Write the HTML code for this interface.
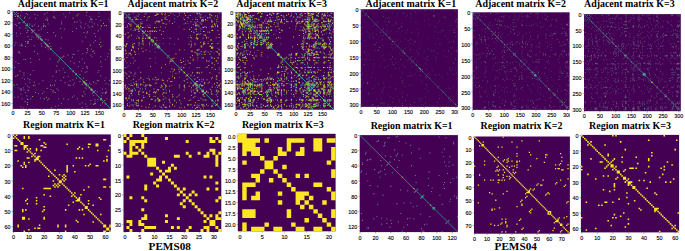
<!DOCTYPE html>
<html><head><meta charset="utf-8"><style>
html,body{margin:0;padding:0;background:#fff;}
svg{display:block;}
.t{font-family:"Liberation Serif",serif;font-weight:bold;font-size:9.95px;text-anchor:middle;fill:#000;}
.b{font-family:"Liberation Serif",serif;font-weight:bold;font-size:11.2px;text-anchor:middle;fill:#000;}
.yl{font-family:"Liberation Sans",sans-serif;font-size:5.4px;text-anchor:end;fill:#000;stroke:#000;stroke-width:0.12px;}
.xl{font-family:"Liberation Sans",sans-serif;font-size:5.4px;text-anchor:middle;fill:#000;stroke:#000;stroke-width:0.12px;}
</style></head><body>
<svg width="685" height="251" viewBox="0 0 685 251" shape-rendering="auto">
<rect width="685" height="251" fill="#fff"/>
<rect x="237.8" y="133.8" width="97.8" height="97.5" fill="#440154"/>
<path fill="#fde725" d="M237.8 133.8h8.89v4.43h-8.89zM237.8 138.23h22.23v4.43h-22.23zM264.47 138.23h4.45v4.43h-4.45zM286.7 138.23h17.78v4.43h-17.78zM313.37 138.23h8.89v4.43h-8.89zM326.71 138.23h8.89v4.43h-8.89zM242.25 142.66h13.34v4.43h-13.34zM286.7 142.66h4.45v4.43h-4.45zM313.37 142.66h8.89v4.43h-8.89zM242.25 147.1h17.78v4.43h-17.78zM277.81 147.1h4.45v4.43h-4.45zM286.7 147.1h4.45v4.43h-4.45zM300.04 147.1h4.45v4.43h-4.45zM313.37 147.1h8.89v4.43h-8.89zM331.15 147.1h4.45v4.43h-4.45zM242.25 151.53h4.45v4.43h-4.45zM251.14 151.53h8.89v4.43h-8.89zM277.81 151.53h8.89v4.43h-8.89zM295.59 151.53h8.89v4.43h-8.89zM331.15 151.53h4.45v4.43h-4.45zM260.03 155.96h4.45v4.43h-4.45zM273.36 155.96h4.45v4.43h-4.45zM331.15 155.96h4.45v4.43h-4.45zM242.25 160.39h4.45v4.43h-4.45zM264.47 160.39h8.89v4.43h-8.89zM326.71 160.39h4.45v4.43h-4.45zM264.47 164.82h8.89v4.43h-8.89zM282.25 164.82h4.45v4.43h-4.45zM260.03 169.25h4.45v4.43h-4.45zM273.36 169.25h4.45v4.43h-4.45zM331.15 169.25h4.45v4.43h-4.45zM251.14 173.69h8.89v4.43h-8.89zM277.81 173.69h4.45v4.43h-4.45zM295.59 173.69h4.45v4.43h-4.45zM304.48 173.69h4.45v4.43h-4.45zM331.15 173.69h4.45v4.43h-4.45zM255.58 178.12h4.45v4.43h-4.45zM268.92 178.12h4.45v4.43h-4.45zM282.25 178.12h4.45v4.43h-4.45zM242.25 182.55h13.34v4.43h-13.34zM286.7 182.55h4.45v4.43h-4.45zM313.37 182.55h8.89v4.43h-8.89zM242.25 186.98h4.45v4.43h-4.45zM291.15 186.98h4.45v4.43h-4.45zM326.71 186.98h4.45v4.43h-4.45zM242.25 191.41h4.45v4.43h-4.45zM255.58 191.41h4.45v4.43h-4.45zM277.81 191.41h4.45v4.43h-4.45zM295.59 191.41h13.34v4.43h-13.34zM331.15 191.41h4.45v4.43h-4.45zM242.25 195.85h4.45v4.43h-4.45zM251.14 195.85h8.89v4.43h-8.89zM295.59 195.85h8.89v4.43h-8.89zM308.93 195.85h4.45v4.43h-4.45zM331.15 195.85h4.45v4.43h-4.45zM277.81 200.28h4.45v4.43h-4.45zM295.59 200.28h4.45v4.43h-4.45zM304.48 200.28h4.45v4.43h-4.45zM322.26 200.28h4.45v4.43h-4.45zM300.04 204.71h4.45v4.43h-4.45zM308.93 204.71h4.45v4.43h-4.45zM242.25 209.14h13.34v4.43h-13.34zM286.7 209.14h4.45v4.43h-4.45zM313.37 209.14h4.45v4.43h-4.45zM331.15 209.14h4.45v4.43h-4.45zM242.25 213.57h13.34v4.43h-13.34zM286.7 213.57h4.45v4.43h-4.45zM317.82 213.57h4.45v4.43h-4.45zM331.15 213.57h4.45v4.43h-4.45zM304.48 218h4.45v4.43h-4.45zM322.26 218h4.45v4.43h-4.45zM242.25 222.44h4.45v4.43h-4.45zM264.47 222.44h4.45v4.43h-4.45zM291.15 222.44h4.45v4.43h-4.45zM326.71 222.44h4.45v4.43h-4.45zM242.25 226.87h4.45v4.43h-4.45zM251.14 226.87h13.34v4.43h-13.34zM273.36 226.87h8.89v4.43h-8.89zM295.59 226.87h8.89v4.43h-8.89zM313.37 226.87h8.89v4.43h-8.89zM331.15 226.87h4.45v4.43h-4.45z"/>
<rect x="123.5" y="134" width="97.8" height="98" fill="#440154"/>
<path fill="#fde725" d="M123.5 134h2.96v2.97h-2.96zM129.43 134h2.96v2.97h-2.96zM141.28 134h2.96v2.97h-2.96zM126.46 136.97h2.96v2.97h-2.96zM144.25 136.97h2.96v2.97h-2.96zM164.99 136.97h2.96v2.97h-2.96zM209.45 136.97h2.96v2.97h-2.96zM215.37 136.97h2.96v2.97h-2.96zM123.5 139.94h2.96v2.97h-2.96zM129.43 139.94h17.78v2.97h-17.78zM185.74 139.94h2.96v2.97h-2.96zM209.45 139.94h5.93v2.97h-5.93zM218.34 139.94h2.96v2.97h-2.96zM129.43 142.91h5.93v2.97h-5.93zM141.28 142.91h2.96v2.97h-2.96zM129.43 145.88h2.96v2.97h-2.96zM135.35 145.88h2.96v2.97h-2.96zM141.28 145.88h2.96v2.97h-2.96zM129.43 148.85h2.96v2.97h-2.96zM138.32 148.85h2.96v2.97h-2.96zM209.45 148.85h5.93v2.97h-5.93zM123.5 151.82h2.96v2.97h-2.96zM129.43 151.82h8.89v2.97h-8.89zM141.28 151.82h2.96v2.97h-2.96zM185.74 151.82h2.96v2.97h-2.96zM197.59 151.82h2.96v2.97h-2.96zM206.48 151.82h2.96v2.97h-2.96zM212.41 151.82h2.96v2.97h-2.96zM218.34 151.82h2.96v2.97h-2.96zM126.46 154.79h5.93v2.97h-5.93zM144.25 154.79h2.96v2.97h-2.96zM173.88 154.79h5.93v2.97h-5.93zM188.7 154.79h2.96v2.97h-2.96zM203.52 154.79h5.93v2.97h-5.93zM215.37 154.79h2.96v2.97h-2.96zM147.21 157.76h8.89v2.97h-8.89zM215.37 157.76h2.96v2.97h-2.96zM147.21 160.73h8.89v2.97h-8.89zM162.03 160.73h2.96v2.97h-2.96zM215.37 160.73h2.96v2.97h-2.96zM147.21 163.7h8.89v2.97h-8.89zM170.92 163.7h2.96v2.97h-2.96zM215.37 163.7h2.96v2.97h-2.96zM156.1 166.67h2.96v2.97h-2.96zM167.95 166.67h2.96v2.97h-2.96zM173.88 166.67h2.96v2.97h-2.96zM159.06 169.64h2.96v2.97h-2.96zM164.99 169.64h5.93v2.97h-5.93zM150.17 172.61h2.96v2.97h-2.96zM162.03 172.61h2.96v2.97h-2.96zM126.46 175.58h2.96v2.97h-2.96zM159.06 175.58h2.96v2.97h-2.96zM164.99 175.58h2.96v2.97h-2.96zM203.52 175.58h2.96v2.97h-2.96zM209.45 175.58h2.96v2.97h-2.96zM156.1 178.55h5.93v2.97h-5.93zM167.95 178.55h2.96v2.97h-2.96zM153.14 181.52h2.96v2.97h-2.96zM170.92 181.52h2.96v2.97h-2.96zM215.37 181.52h2.96v2.97h-2.96zM144.25 184.48h2.96v2.97h-2.96zM156.1 184.48h2.96v2.97h-2.96zM173.88 184.48h2.96v2.97h-2.96zM144.25 187.45h2.96v2.97h-2.96zM176.85 187.45h2.96v2.97h-2.96zM182.77 187.45h2.96v2.97h-2.96zM206.48 187.45h2.96v2.97h-2.96zM215.37 187.45h2.96v2.97h-2.96zM179.81 190.42h2.96v2.97h-2.96zM191.66 190.42h2.96v2.97h-2.96zM176.85 193.39h2.96v2.97h-2.96zM182.77 193.39h2.96v2.97h-2.96zM188.7 193.39h2.96v2.97h-2.96zM194.63 193.39h2.96v2.97h-2.96zM129.43 196.36h2.96v2.97h-2.96zM141.28 196.36h2.96v2.97h-2.96zM185.74 196.36h2.96v2.97h-2.96zM218.34 196.36h2.96v2.97h-2.96zM144.25 199.33h2.96v2.97h-2.96zM182.77 199.33h2.96v2.97h-2.96zM188.7 199.33h2.96v2.97h-2.96zM215.37 199.33h2.96v2.97h-2.96zM179.81 202.3h2.96v2.97h-2.96zM191.66 202.3h2.96v2.97h-2.96zM182.77 205.27h2.96v2.97h-2.96zM194.63 205.27h2.96v2.97h-2.96zM141.28 208.24h2.96v2.97h-2.96zM197.59 208.24h2.96v2.97h-2.96zM200.55 211.21h2.96v2.97h-2.96zM218.34 211.21h2.96v2.97h-2.96zM144.25 214.18h2.96v2.97h-2.96zM164.99 214.18h2.96v2.97h-2.96zM203.52 214.18h2.96v2.97h-2.96zM209.45 214.18h2.96v2.97h-2.96zM215.37 214.18h2.96v2.97h-2.96zM141.28 217.15h5.93v2.97h-5.93zM176.85 217.15h2.96v2.97h-2.96zM206.48 217.15h2.96v2.97h-2.96zM215.37 217.15h5.93v2.97h-5.93zM126.46 220.12h5.93v2.97h-5.93zM138.32 220.12h2.96v2.97h-2.96zM164.99 220.12h2.96v2.97h-2.96zM203.52 220.12h2.96v2.97h-2.96zM209.45 220.12h5.93v2.97h-5.93zM129.43 223.09h2.96v2.97h-2.96zM138.32 223.09h5.93v2.97h-5.93zM209.45 223.09h5.93v2.97h-5.93zM126.46 226.06h2.96v2.97h-2.96zM144.25 226.06h11.85v2.97h-11.85zM170.92 226.06h2.96v2.97h-2.96zM176.85 226.06h2.96v2.97h-2.96zM188.7 226.06h2.96v2.97h-2.96zM203.52 226.06h5.93v2.97h-5.93zM215.37 226.06h2.96v2.97h-2.96zM129.43 229.03h2.96v2.97h-2.96zM141.28 229.03h2.96v2.97h-2.96zM185.74 229.03h2.96v2.97h-2.96zM200.55 229.03h2.96v2.97h-2.96zM206.48 229.03h2.96v2.97h-2.96zM218.34 229.03h2.96v2.97h-2.96z"/>
<rect x="12.7" y="10.9" width="98.1" height="98" fill="#440154"/>
<svg x="12.7" y="10.9" width="98.1" height="98" overflow="hidden"><g transform="translate(-12.7 -10.9)">
<path stroke="#35a88a" stroke-width="0.85" d="M12.7 10.9L110.8 108.9"/>
<path stroke="#7ad151" stroke-width="0.9" d="M44.3 14.1h0.9M15.4 42.9h0.9M24.7 17.0h0.9M18.3 23.3h0.9M24.1 18.1h0.9M19.5 22.7h0.9M45.4 19.8h0.9M21.2 44.0h0.9M47.2 20.4h0.9M21.8 45.8h0.9M100.8 25.6h0.9M27.0 99.4h0.9M31.6 26.2h0.9M27.5 30.2h0.9M37.9 26.2h0.9M27.5 36.6h0.9M38.5 34.8h0.9M36.2 37.1h0.9M40.2 38.3h0.9M39.7 38.9h0.9M42.0 40.0h0.9M41.4 40.6h0.9M99.1 44.6h0.9M46.0 97.7h0.9M47.2 45.2h0.9M46.6 45.8h0.9M50.6 48.7h0.9M50.0 49.2h0.9M109.5 49.8h0.9M51.2 108.0h0.9M93.9 53.3h0.9M54.7 92.5h0.9M72.6 54.4h0.9M55.8 71.1h0.9M67.4 55.0h0.9M56.4 66.0h0.9M78.9 61.9h0.9M63.3 77.5h0.9M100.3 61.9h0.9M63.3 98.8h0.9M73.7 63.1h0.9M64.5 72.3h0.9M73.1 71.1h0.9M72.6 71.7h0.9M79.5 74.6h0.9M76.0 78.1h0.9M82.9 78.1h0.9M79.5 81.5h0.9M85.8 80.4h0.9M81.8 84.4h0.9M97.9 80.9h0.9M82.4 96.5h0.9M84.1 82.1h0.9M83.5 82.7h0.9M84.7 82.7h0.9M84.1 83.2h0.9M85.8 83.8h0.9M85.2 84.4h0.9M86.4 84.4h0.9M85.8 85.0h0.9M91.6 89.6h0.9M91.0 90.2h0.9M101.4 98.8h0.9M100.3 100.0h0.9"/>
<path stroke="#a8db34" stroke-width="0.9" d="M86.4 12.3h0.9M13.7 85.0h0.9M17.7 13.5h0.9M14.8 16.4h0.9M77.7 14.1h0.9M15.4 76.3h0.9M17.7 15.8h0.9M17.2 16.4h0.9M76.6 15.8h0.9M17.2 75.2h0.9M53.5 17.5h0.9M18.9 52.1h0.9M72.6 18.1h0.9M19.5 71.1h0.9M91.6 19.3h0.9M20.6 90.2h0.9M74.3 22.1h0.9M23.5 72.9h0.9M103.1 23.3h0.9M24.7 101.7h0.9M27.0 25.0h0.9M26.4 25.6h0.9M104.3 25.6h0.9M27.0 102.8h0.9M106.0 25.6h0.9M27.0 104.6h0.9M43.1 26.2h0.9M27.5 41.7h0.9M44.9 26.2h0.9M27.5 43.5h0.9M97.9 30.8h0.9M32.2 96.5h0.9M87.0 31.9h0.9M33.3 85.6h0.9M55.2 36.0h0.9M37.4 53.8h0.9M38.5 36.6h0.9M37.9 37.1h0.9M100.3 42.3h0.9M43.7 98.8h0.9M45.4 43.5h0.9M44.9 44.0h0.9M89.9 45.2h0.9M46.6 88.4h0.9M48.3 46.4h0.9M47.7 46.9h0.9M100.3 46.9h0.9M48.3 98.8h0.9M93.3 51.0h0.9M52.4 91.9h0.9M86.4 52.7h0.9M54.1 85.0h0.9M63.3 56.2h0.9M57.5 61.9h0.9M61.6 57.3h0.9M58.7 60.2h0.9M76.0 74.0h0.9M75.4 74.6h0.9M83.5 81.5h0.9M82.9 82.1h0.9M93.3 82.1h0.9M83.5 91.9h0.9M89.3 87.3h0.9M88.7 87.9h0.9M91.0 89.0h0.9M90.4 89.6h0.9M106.0 91.9h0.9M93.3 104.6h0.9M100.8 98.8h0.9M100.3 99.4h0.9M104.3 100.5h0.9M102.0 102.8h0.9"/>
<path stroke="#7a8aa8" stroke-width="0.9" d="M27.0 14.6h0.9M16.0 25.6h0.9M47.2 19.8h0.9M21.2 45.8h0.9M90.4 19.8h0.9M21.2 89.0h0.9M109.5 21.6h0.9M22.9 108.0h0.9M76.6 22.1h0.9M23.5 75.2h0.9M27.0 23.9h0.9M25.2 25.6h0.9M85.2 23.9h0.9M25.2 83.8h0.9M87.6 25.6h0.9M27.0 86.1h0.9M88.7 27.3h0.9M28.7 87.3h0.9M31.6 29.6h0.9M31.0 30.2h0.9M40.8 29.6h0.9M31.0 39.4h0.9M38.5 30.2h0.9M31.6 37.1h0.9M86.4 33.1h0.9M34.5 85.0h0.9M35.6 33.7h0.9M35.0 34.2h0.9M85.2 37.1h0.9M38.5 83.8h0.9M40.8 38.9h0.9M40.2 39.4h0.9M46.6 44.6h0.9M46.0 45.2h0.9M47.7 45.8h0.9M47.2 46.4h0.9M86.4 48.7h0.9M50.0 85.0h0.9M91.6 56.7h0.9M58.1 90.2h0.9M81.8 59.0h0.9M60.4 80.4h0.9M104.9 59.6h0.9M61.0 103.4h0.9M86.4 66.5h0.9M67.9 85.0h0.9M105.4 89.0h0.9M90.4 104.0h0.9M92.2 90.2h0.9M91.6 90.7h0.9M95.1 90.7h0.9M92.2 93.6h0.9M96.8 91.9h0.9M93.3 95.4h0.9"/>
<path stroke="#4a9a8c" stroke-width="0.9" d="M98.5 12.9h0.9M14.3 97.1h0.9M63.3 14.1h0.9M15.4 61.9h0.9M37.4 15.2h0.9M16.6 36.0h0.9M89.3 16.4h0.9M17.7 87.9h0.9M54.7 18.1h0.9M19.5 53.3h0.9M95.6 19.3h0.9M20.6 94.2h0.9M79.5 20.4h0.9M21.8 78.1h0.9M89.3 21.6h0.9M22.9 87.9h0.9M29.3 23.9h0.9M25.2 27.9h0.9M29.3 25.0h0.9M26.4 27.9h0.9M84.1 27.9h0.9M29.3 82.7h0.9M100.3 29.1h0.9M30.4 98.8h0.9M37.9 36.0h0.9M37.4 36.6h0.9M99.7 38.9h0.9M40.2 98.2h0.9M44.3 42.3h0.9M43.7 42.9h0.9M93.3 42.3h0.9M43.7 91.9h0.9M101.4 45.8h0.9M47.2 100.0h0.9M107.8 53.8h0.9M55.2 106.3h0.9M107.2 56.7h0.9M58.1 105.7h0.9M60.4 57.9h0.9M59.3 59.0h0.9M70.2 61.3h0.9M62.7 68.8h0.9M77.7 66.5h0.9M67.9 76.3h0.9M70.2 68.3h0.9M69.7 68.8h0.9M105.4 78.1h0.9M79.5 104.0h0.9M86.4 83.8h0.9M85.2 85.0h0.9M90.4 84.4h0.9M85.8 89.0h0.9M107.8 85.0h0.9M86.4 106.3h0.9M100.8 93.0h0.9M94.5 99.4h0.9"/>
<path stroke="#8a8fb0" stroke-width="0.9" d="M46.6 12.9h0.9M14.3 45.2h0.9M53.5 16.4h0.9M17.7 52.1h0.9M98.5 16.4h0.9M17.7 97.1h0.9M29.3 18.1h0.9M19.5 27.9h0.9M90.4 18.1h0.9M19.5 89.0h0.9M35.0 18.7h0.9M20.0 33.7h0.9M100.3 20.4h0.9M21.8 98.8h0.9M61.0 22.1h0.9M23.5 59.6h0.9M80.1 26.2h0.9M27.5 78.6h0.9M92.2 26.2h0.9M27.5 90.7h0.9M43.1 26.8h0.9M28.1 41.7h0.9M33.9 30.2h0.9M31.6 32.5h0.9M32.7 30.8h0.9M32.2 31.4h0.9M52.9 32.5h0.9M33.9 51.5h0.9M93.9 33.7h0.9M35.0 92.5h0.9M95.1 36.6h0.9M37.9 93.6h0.9M41.4 39.4h0.9M40.8 40.0h0.9M100.3 56.7h0.9M58.1 98.8h0.9M72.0 57.3h0.9M58.7 70.6h0.9M100.8 66.5h0.9M67.9 99.4h0.9M81.2 71.1h0.9M72.6 79.8h0.9M86.4 71.7h0.9M73.1 85.0h0.9M85.2 83.2h0.9M84.7 83.8h0.9M89.3 83.2h0.9M84.7 87.9h0.9M88.1 85.0h0.9M86.4 86.7h0.9M91.6 89.0h0.9M90.4 90.2h0.9M93.3 91.3h0.9M92.7 91.9h0.9M93.9 91.3h0.9M92.7 92.5h0.9M104.9 93.6h0.9M95.1 103.4h0.9M106.6 98.8h0.9M100.3 105.2h0.9M105.4 103.4h0.9M104.9 104.0h0.9M60.4 48.1h0.9M49.5 59.0h0.9M47.7 40.0h0.9M41.4 46.4h0.9M29.3 39.4h0.9M40.8 27.9h0.9M82.4 53.8h0.9M55.2 80.9h0.9M102.6 93.0h0.9M94.5 101.1h0.9M33.9 45.8h0.9M47.2 32.5h0.9M105.4 93.0h0.9M94.5 104.0h0.9M86.4 108.6h0.9M110.1 85.0h0.9M53.5 11.2h0.9M12.5 52.1h0.9M85.8 15.2h0.9M16.6 84.4h0.9M40.2 36.6h0.9M37.9 38.9h0.9M69.7 85.6h0.9M87.0 68.3h0.9M61.0 37.7h0.9M39.1 59.6h0.9M29.9 58.5h0.9M59.9 28.5h0.9M93.9 23.9h0.9M25.2 92.5h0.9M91.0 49.2h0.9M50.6 89.6h0.9M42.5 80.4h0.9M81.8 41.2h0.9M40.8 44.0h0.9M45.4 39.4h0.9M24.1 21.6h0.9M22.9 22.7h0.9M95.1 40.6h0.9M42.0 93.6h0.9M100.3 75.8h0.9M77.2 98.8h0.9M23.5 90.2h0.9M91.6 22.1h0.9M43.7 25.6h0.9M27.0 42.3h0.9M25.2 59.6h0.9M61.0 23.9h0.9M97.4 25.0h0.9M26.4 95.9h0.9M24.1 79.2h0.9M80.6 22.7h0.9M28.1 90.2h0.9M91.6 26.8h0.9M77.7 51.0h0.9M52.4 76.3h0.9M93.9 103.4h0.9M104.9 92.5h0.9M63.9 29.1h0.9M30.4 62.5h0.9M20.6 89.0h0.9M90.4 19.3h0.9M98.5 70.6h0.9M72.0 97.1h0.9M90.4 100.5h0.9M102.0 89.0h0.9M44.9 47.5h0.9M48.9 43.5h0.9M81.8 95.4h0.9M96.8 80.4h0.9M32.7 70.6h0.9M72.0 31.4h0.9M14.3 67.7h0.9M69.1 12.9h0.9M20.0 15.8h0.9M17.2 18.7h0.9M105.4 83.8h0.9M85.2 104.0h0.9M65.1 17.0h0.9M18.3 63.6h0.9M29.9 74.6h0.9M76.0 28.5h0.9M87.0 48.7h0.9M50.0 85.6h0.9M84.7 94.2h0.9M95.6 83.2h0.9M108.3 19.3h0.9M20.6 106.9h0.9M108.9 80.4h0.9M81.8 107.5h0.9M33.9 25.0h0.9M26.4 32.5h0.9M90.4 55.0h0.9M56.4 89.0h0.9M14.8 24.4h0.9M25.8 13.5h0.9M64.5 82.7h0.9M84.1 63.1h0.9M97.4 72.3h0.9M73.7 95.9h0.9M21.2 11.2h0.9M12.5 19.8h0.9M33.9 82.1h0.9M83.5 32.5h0.9M13.7 14.6h0.9M16.0 12.3h0.9M25.2 46.4h0.9M47.7 23.9h0.9M29.3 79.8h0.9M81.2 27.9h0.9M82.4 68.3h0.9M69.7 80.9h0.9M32.2 26.2h0.9M27.5 30.8h0.9M50.6 46.4h0.9M47.7 49.2h0.9M25.2 41.7h0.9M43.1 23.9h0.9M36.8 34.8h0.9M36.2 35.4h0.9M16.0 33.1h0.9M34.5 14.6h0.9M46.6 18.1h0.9M19.5 45.2h0.9M68.5 85.0h0.9M86.4 67.1h0.9M100.8 95.9h0.9M97.4 99.4h0.9M84.7 72.3h0.9M73.7 83.2h0.9M51.8 85.6h0.9M87.0 50.4h0.9M27.5 99.4h0.9M100.8 26.2h0.9M104.3 80.4h0.9M81.8 102.8h0.9M55.8 72.3h0.9M73.7 54.4h0.9M52.9 90.7h0.9M92.2 51.5h0.9"/>
</g></svg>
<rect x="123.8" y="12.3" width="97.9" height="97.6" fill="#440154"/>
<svg x="123.8" y="12.3" width="97.9" height="97.6" overflow="hidden"><g transform="translate(-123.8 -12.3)">
<path stroke="#3aa88a" stroke-width="0.9" d="M123.8 12.3L221.7 109.9"/>
<path stroke="#fde725" stroke-width="0.85" d="M161.1 13.7h0.85M124.8 49.9h0.85M184.1 13.7h0.85M124.8 72.9h0.85M196.8 13.7h0.85M124.8 85.5h0.85M197.4 13.7h0.85M124.8 86.1h0.85M199.1 13.7h0.85M124.8 87.8h0.85M157.6 14.3h0.85M125.4 46.5h0.85M164.6 14.9h0.85M126.0 53.3h0.85M200.3 14.9h0.85M126.0 88.9h0.85M209.5 14.9h0.85M126.0 98.1h0.85M154.8 15.5h0.85M126.5 43.6h0.85M168.6 15.5h0.85M126.5 57.4h0.85M215.2 16.0h0.85M127.1 103.9h0.85M217.0 16.0h0.85M127.1 105.6h0.85M134.6 17.2h0.85M128.3 23.5h0.85M200.3 17.2h0.85M128.3 88.9h0.85M209.5 17.2h0.85M128.3 98.1h0.85M164.6 17.8h0.85M128.8 53.3h0.85M187.6 17.8h0.85M128.8 76.3h0.85M135.8 18.3h0.85M129.4 24.6h0.85M164.6 18.9h0.85M130.0 53.3h0.85M132.3 19.5h0.85M130.6 21.2h0.85M136.3 19.5h0.85M130.6 25.2h0.85M184.1 19.5h0.85M130.6 72.9h0.85M196.8 19.5h0.85M130.6 85.5h0.85M202.0 19.5h0.85M130.6 90.7h0.85M202.6 19.5h0.85M130.6 91.2h0.85M204.9 19.5h0.85M130.6 93.5h0.85M204.9 20.1h0.85M131.1 93.5h0.85M201.4 20.6h0.85M131.7 90.1h0.85M155.9 21.2h0.85M132.3 44.7h0.85M157.6 21.2h0.85M132.3 46.5h0.85M158.8 21.2h0.85M132.3 47.6h0.85M196.8 21.2h0.85M132.3 85.5h0.85M201.4 21.2h0.85M132.3 90.1h0.85M202.6 21.2h0.85M132.3 91.2h0.85M158.2 21.8h0.85M132.9 47.0h0.85M158.8 21.8h0.85M132.9 47.6h0.85M190.5 21.8h0.85M132.9 79.2h0.85M172.0 23.5h0.85M134.6 60.8h0.85M165.7 24.1h0.85M135.2 54.5h0.85M201.4 24.1h0.85M135.2 90.1h0.85M214.1 24.6h0.85M135.8 102.7h0.85M137.5 25.2h0.85M136.3 26.4h0.85M138.1 25.2h0.85M136.3 26.9h0.85M195.1 25.2h0.85M136.3 83.8h0.85M195.6 25.2h0.85M136.3 84.4h0.85M196.2 25.2h0.85M136.3 84.9h0.85M196.8 25.2h0.85M136.3 85.5h0.85M211.8 25.2h0.85M136.3 100.4h0.85M215.2 25.2h0.85M136.3 103.9h0.85M217.0 25.2h0.85M136.3 105.6h0.85M138.1 26.4h0.85M137.5 26.9h0.85M211.8 26.4h0.85M137.5 100.4h0.85M217.0 26.4h0.85M137.5 105.6h0.85M140.4 26.9h0.85M138.1 29.2h0.85M211.2 26.9h0.85M138.1 99.9h0.85M212.9 26.9h0.85M138.1 101.6h0.85M142.1 27.5h0.85M138.6 31.0h0.85M142.7 27.5h0.85M138.6 31.5h0.85M154.2 27.5h0.85M138.6 43.0h0.85M202.6 27.5h0.85M138.6 91.2h0.85M203.1 27.5h0.85M138.6 91.8h0.85M183.6 29.2h0.85M140.4 72.3h0.85M196.2 29.2h0.85M140.4 84.9h0.85M159.4 30.4h0.85M141.5 48.2h0.85M211.8 30.4h0.85M141.5 100.4h0.85M212.3 30.4h0.85M141.5 101.0h0.85M217.5 30.4h0.85M141.5 106.2h0.85M142.7 31.0h0.85M142.1 31.5h0.85M149.6 31.0h0.85M142.1 38.4h0.85M152.5 31.0h0.85M142.1 41.3h0.85M147.3 31.5h0.85M142.7 36.1h0.85M149.6 31.5h0.85M142.7 38.4h0.85M151.9 31.5h0.85M142.7 40.7h0.85M154.2 31.5h0.85M142.7 43.0h0.85M155.9 31.5h0.85M142.7 44.7h0.85M203.1 31.5h0.85M142.7 91.8h0.85M208.9 32.1h0.85M143.2 97.6h0.85M149.6 33.8h0.85M145.0 38.4h0.85M161.1 34.4h0.85M145.5 49.9h0.85M196.8 34.4h0.85M145.5 85.5h0.85M218.7 34.4h0.85M145.5 107.3h0.85M146.7 35.0h0.85M146.1 35.6h0.85M203.7 35.0h0.85M146.1 92.4h0.85M204.9 35.6h0.85M146.7 93.5h0.85M149.0 37.3h0.85M148.4 37.8h0.85M218.7 37.3h0.85M148.4 107.3h0.85M149.6 37.8h0.85M149.0 38.4h0.85M154.2 37.8h0.85M149.0 43.0h0.85M191.0 37.8h0.85M149.0 79.8h0.85M196.2 37.8h0.85M149.0 84.9h0.85M196.8 38.4h0.85M149.6 85.5h0.85M197.4 38.4h0.85M149.6 86.1h0.85M151.3 39.6h0.85M150.7 40.1h0.85M210.6 39.6h0.85M150.7 99.3h0.85M152.5 40.1h0.85M151.3 41.3h0.85M203.1 43.0h0.85M154.2 91.8h0.85M155.3 43.6h0.85M154.8 44.2h0.85M203.7 43.6h0.85M154.8 92.4h0.85M207.7 43.6h0.85M154.8 96.4h0.85M212.3 43.6h0.85M154.8 101.0h0.85M217.5 43.6h0.85M154.8 106.2h0.85M188.7 44.2h0.85M155.3 77.5h0.85M191.0 44.7h0.85M155.9 79.8h0.85M203.1 44.7h0.85M155.9 91.8h0.85M158.2 45.3h0.85M156.5 47.0h0.85M210.0 45.9h0.85M157.1 98.7h0.85M200.8 46.5h0.85M157.6 89.5h0.85M209.5 46.5h0.85M157.6 98.1h0.85M190.5 47.0h0.85M158.2 79.2h0.85M201.4 47.0h0.85M158.2 90.1h0.85M211.2 47.6h0.85M158.8 99.9h0.85M212.3 47.6h0.85M158.8 101.0h0.85M211.2 48.2h0.85M159.4 99.9h0.85M178.9 49.9h0.85M161.1 67.7h0.85M196.8 49.9h0.85M161.1 85.5h0.85M218.7 49.9h0.85M161.1 107.3h0.85M197.4 50.5h0.85M161.7 86.1h0.85M194.5 52.2h0.85M163.4 83.2h0.85M204.3 52.2h0.85M163.4 93.0h0.85M197.4 53.9h0.85M165.1 86.1h0.85M218.7 53.9h0.85M165.1 107.3h0.85M197.4 55.1h0.85M166.3 86.1h0.85M218.7 55.1h0.85M166.3 107.3h0.85M192.2 55.6h0.85M166.9 80.9h0.85M189.9 57.4h0.85M168.6 78.6h0.85M211.2 57.9h0.85M169.2 99.9h0.85M217.5 57.9h0.85M169.2 106.2h0.85M172.6 58.5h0.85M169.7 61.4h0.85M171.5 59.1h0.85M170.3 60.2h0.85M192.8 59.1h0.85M170.3 81.5h0.85M192.8 60.2h0.85M171.5 81.5h0.85M206.0 60.8h0.85M172.0 94.7h0.85M215.8 60.8h0.85M172.0 104.4h0.85M180.7 62.5h0.85M173.8 69.4h0.85M181.3 62.5h0.85M173.8 70.0h0.85M188.7 63.1h0.85M174.3 77.5h0.85M189.9 63.1h0.85M174.3 78.6h0.85M217.5 63.1h0.85M174.3 106.2h0.85M184.1 72.3h0.85M183.6 72.9h0.85M197.4 72.3h0.85M183.6 86.1h0.85M201.4 72.3h0.85M183.6 90.1h0.85M196.8 72.9h0.85M184.1 85.5h0.85M197.4 72.9h0.85M184.1 86.1h0.85M218.7 72.9h0.85M184.1 107.3h0.85M187.0 75.2h0.85M186.4 75.7h0.85M190.5 75.2h0.85M186.4 79.2h0.85M216.4 75.7h0.85M187.0 105.0h0.85M197.4 77.5h0.85M188.7 86.1h0.85M211.8 77.5h0.85M188.7 100.4h0.85M194.5 79.2h0.85M190.5 83.2h0.85M196.8 81.5h0.85M192.8 85.5h0.85M201.4 81.5h0.85M192.8 90.1h0.85M208.9 82.1h0.85M193.3 97.6h0.85M204.3 82.6h0.85M193.9 93.0h0.85M195.1 83.2h0.85M194.5 83.8h0.85M204.3 83.2h0.85M194.5 93.0h0.85M196.2 83.8h0.85M195.1 84.9h0.85M196.8 84.9h0.85M196.2 85.5h0.85M201.4 85.5h0.85M196.8 90.1h0.85M202.0 85.5h0.85M196.8 90.7h0.85M202.6 85.5h0.85M196.8 91.2h0.85M218.7 85.5h0.85M196.8 107.3h0.85M199.1 86.1h0.85M197.4 87.8h0.85M201.4 86.1h0.85M197.4 90.1h0.85M218.7 86.1h0.85M197.4 107.3h0.85M211.8 87.2h0.85M198.5 100.4h0.85M220.4 88.9h0.85M200.3 109.0h0.85M216.4 90.7h0.85M202.0 105.0h0.85M203.1 91.2h0.85M202.6 91.8h0.85M206.0 91.2h0.85M202.6 94.7h0.85M211.2 91.2h0.85M202.6 99.9h0.85M216.4 91.2h0.85M202.6 105.0h0.85M218.1 91.2h0.85M202.6 106.7h0.85M206.0 91.8h0.85M203.1 94.7h0.85M204.9 92.4h0.85M203.7 93.5h0.85M215.8 94.7h0.85M206.0 104.4h0.85M217.5 99.9h0.85M211.2 106.2h0.85M217.5 101.0h0.85M212.3 106.2h0.85M216.4 104.4h0.85M215.8 105.0h0.85M162.2 14.3h0.85M125.4 51.1h0.85M155.9 14.9h0.85M126.0 44.7h0.85M143.8 16.6h0.85M127.7 32.7h0.85M217.5 17.8h0.85M128.8 106.2h0.85M211.2 20.1h0.85M131.1 99.9h0.85M154.8 22.9h0.85M134.0 43.6h0.85M192.8 24.6h0.85M135.8 81.5h0.85M159.9 26.9h0.85M138.1 48.8h0.85M141.5 23.5h0.85M134.6 30.4h0.85M162.8 31.5h0.85M142.7 51.6h0.85M177.8 39.0h0.85M150.2 66.6h0.85M203.7 41.9h0.85M153.0 92.4h0.85M161.1 20.1h0.85M131.1 49.9h0.85M161.7 20.1h0.85M131.1 50.5h0.85M191.6 51.1h0.85M162.2 80.3h0.85M210.6 51.6h0.85M162.8 99.3h0.85M215.8 51.6h0.85M162.8 104.4h0.85M163.4 23.5h0.85M134.6 52.2h0.85M170.3 13.2h0.85M124.2 59.1h0.85M172.6 60.2h0.85M171.5 61.4h0.85M207.7 61.4h0.85M172.6 96.4h0.85M175.5 53.9h0.85M165.1 64.3h0.85M183.0 67.7h0.85M178.9 71.7h0.85M180.1 60.2h0.85M171.5 68.9h0.85M180.7 67.1h0.85M178.4 69.4h0.85M209.5 72.9h0.85M184.1 98.1h0.85M185.3 15.5h0.85M126.5 74.0h0.85M216.4 76.9h0.85M188.2 105.0h0.85M189.3 29.2h0.85M140.4 78.0h0.85M199.1 79.8h0.85M191.0 87.8h0.85M206.6 79.8h0.85M191.0 95.3h0.85M191.6 51.6h0.85M162.8 80.3h0.85M194.5 44.7h0.85M155.9 83.2h0.85M214.1 83.8h0.85M195.1 102.7h0.85M219.8 83.8h0.85M195.1 108.5h0.85M198.5 49.3h0.85M160.5 87.2h0.85M200.3 42.4h0.85M153.6 88.9h0.85M200.8 51.6h0.85M162.8 89.5h0.85M205.4 51.1h0.85M162.2 94.1h0.85M207.2 17.8h0.85M128.8 95.8h0.85M207.7 37.8h0.85M149.0 96.4h0.85M208.3 65.4h0.85M176.6 97.0h0.85M209.5 14.3h0.85M125.4 98.1h0.85M211.8 21.8h0.85M132.9 100.4h0.85M214.1 58.5h0.85M169.7 102.7h0.85M221.0 28.1h0.85M139.2 109.6h0.85"/>
<path stroke="#bddf26" stroke-width="0.85" d="M145.5 13.7h0.85M124.8 34.4h0.85M157.1 14.3h0.85M125.4 45.9h0.85M155.3 15.5h0.85M126.5 44.2h0.85M211.2 15.5h0.85M126.5 99.9h0.85M209.5 17.8h0.85M128.8 98.1h0.85M137.5 19.5h0.85M130.6 26.4h0.85M140.4 19.5h0.85M130.6 29.2h0.85M216.4 19.5h0.85M130.6 105.0h0.85M162.2 22.9h0.85M134.0 51.1h0.85M195.6 22.9h0.85M134.0 84.4h0.85M140.4 24.1h0.85M135.2 29.2h0.85M140.4 26.4h0.85M137.5 29.2h0.85M198.5 26.4h0.85M137.5 87.2h0.85M204.3 26.9h0.85M138.1 93.0h0.85M148.4 27.5h0.85M138.6 37.3h0.85M149.6 27.5h0.85M138.6 38.4h0.85M195.6 29.2h0.85M140.4 84.4h0.85M145.0 31.0h0.85M142.1 33.8h0.85M191.0 31.5h0.85M142.7 79.8h0.85M143.8 32.1h0.85M143.2 32.7h0.85M193.3 32.1h0.85M143.2 82.1h0.85M196.2 34.4h0.85M145.5 84.9h0.85M204.9 35.0h0.85M146.1 93.5h0.85M149.6 37.3h0.85M148.4 38.4h0.85M206.0 37.3h0.85M148.4 94.7h0.85M206.0 37.8h0.85M149.0 94.7h0.85M215.8 37.8h0.85M149.0 104.4h0.85M210.6 40.1h0.85M151.3 99.3h0.85M204.3 43.6h0.85M154.8 93.0h0.85M156.5 44.7h0.85M155.9 45.3h0.85M157.6 45.9h0.85M157.1 46.5h0.85M200.8 45.9h0.85M157.1 89.5h0.85M158.8 46.5h0.85M157.6 47.6h0.85M211.2 47.0h0.85M158.2 99.9h0.85M212.3 47.0h0.85M158.2 101.0h0.85M211.8 48.2h0.85M159.4 100.4h0.85M212.3 48.2h0.85M159.4 101.0h0.85M203.7 52.2h0.85M163.4 92.4h0.85M217.0 52.2h0.85M163.4 105.6h0.85M187.6 60.8h0.85M172.0 76.3h0.85M216.4 60.8h0.85M172.0 105.0h0.85M183.0 61.4h0.85M172.6 71.7h0.85M211.8 63.1h0.85M174.3 100.4h0.85M184.7 64.3h0.85M175.5 73.4h0.85M181.3 69.4h0.85M180.7 70.0h0.85M215.8 79.2h0.85M190.5 104.4h0.85M203.1 79.8h0.85M191.0 91.8h0.85M196.2 81.5h0.85M192.8 84.9h0.85M197.4 81.5h0.85M192.8 86.1h0.85M216.4 82.6h0.85M193.9 105.0h0.85M195.6 83.2h0.85M194.5 84.4h0.85M207.7 83.2h0.85M194.5 96.4h0.85M217.0 83.2h0.85M194.5 105.6h0.85M204.3 83.8h0.85M195.1 93.0h0.85M199.1 84.9h0.85M196.2 87.8h0.85M218.7 84.9h0.85M196.2 107.3h0.85M217.0 87.2h0.85M198.5 105.6h0.85M215.8 90.1h0.85M201.4 104.4h0.85M202.6 90.7h0.85M202.0 91.2h0.85M203.1 90.7h0.85M202.0 91.8h0.85M211.2 94.1h0.85M205.4 99.9h0.85M212.3 100.4h0.85M211.8 101.0h0.85M217.0 103.9h0.85M215.2 105.6h0.85M203.7 31.5h0.85M142.7 92.4h0.85M147.3 17.8h0.85M128.8 36.1h0.85M169.7 38.4h0.85M149.6 58.5h0.85M156.5 13.2h0.85M124.2 45.3h0.85M158.8 47.0h0.85M158.2 47.6h0.85M214.1 64.8h0.85M176.1 102.7h0.85M207.2 67.1h0.85M178.4 95.8h0.85M190.5 41.3h0.85M152.5 79.2h0.85M196.8 39.6h0.85M150.7 85.5h0.85M197.4 57.9h0.85M169.2 86.1h0.85M200.3 33.8h0.85M145.0 88.9h0.85M215.2 69.4h0.85M180.7 103.9h0.85M218.7 53.3h0.85M164.6 107.3h0.85"/>
<path stroke="#7ad151" stroke-width="0.85" d="M165.1 13.7h0.85M124.8 53.9h0.85M178.9 13.7h0.85M124.8 67.7h0.85M209.5 14.3h0.85M125.4 98.1h0.85M128.3 14.9h0.85M126.0 17.2h0.85M189.9 15.5h0.85M126.5 78.6h0.85M198.5 16.0h0.85M127.1 87.2h0.85M148.4 16.6h0.85M127.7 37.3h0.85M149.0 16.6h0.85M127.7 37.8h0.85M130.0 17.8h0.85M128.8 18.9h0.85M200.3 17.8h0.85M128.8 88.9h0.85M135.2 19.5h0.85M130.6 24.1h0.85M165.7 19.5h0.85M130.6 54.5h0.85M146.7 20.1h0.85M131.1 35.6h0.85M202.6 20.6h0.85M131.7 91.2h0.85M203.1 20.6h0.85M131.7 91.8h0.85M216.4 21.2h0.85M132.3 105.0h0.85M157.6 21.8h0.85M132.9 46.5h0.85M211.2 21.8h0.85M132.9 99.9h0.85M185.3 23.5h0.85M134.6 74.0h0.85M217.0 26.9h0.85M138.1 105.6h0.85M139.2 27.5h0.85M138.6 28.1h0.85M191.0 27.5h0.85M138.6 79.8h0.85M206.0 27.5h0.85M138.6 94.7h0.85M211.2 30.4h0.85M141.5 99.9h0.85M208.9 32.7h0.85M143.8 97.6h0.85M197.4 34.4h0.85M145.5 86.1h0.85M196.2 36.1h0.85M147.3 84.9h0.85M155.9 37.8h0.85M149.0 44.7h0.85M151.9 39.6h0.85M150.7 40.7h0.85M153.0 40.7h0.85M151.9 41.9h0.85M153.0 41.3h0.85M152.5 41.9h0.85M194.5 43.6h0.85M154.8 83.2h0.85M210.0 46.5h0.85M157.6 98.7h0.85M158.8 47.0h0.85M158.2 47.6h0.85M159.4 47.0h0.85M158.2 48.2h0.85M207.7 52.2h0.85M163.4 96.4h0.85M199.1 53.9h0.85M165.1 87.8h0.85M203.7 54.5h0.85M165.7 92.4h0.85M204.9 54.5h0.85M165.7 93.5h0.85M203.1 57.9h0.85M169.2 91.8h0.85M212.3 57.9h0.85M169.2 101.0h0.85M218.1 57.9h0.85M169.2 106.7h0.85M199.1 67.7h0.85M178.9 87.8h0.85M211.8 67.7h0.85M178.9 100.4h0.85M218.7 67.7h0.85M178.9 107.3h0.85M192.2 72.3h0.85M183.6 80.9h0.85M192.2 72.9h0.85M184.1 80.9h0.85M199.1 72.9h0.85M184.1 87.8h0.85M193.9 75.7h0.85M187.0 82.6h0.85M201.4 79.2h0.85M190.5 90.1h0.85M216.4 79.2h0.85M190.5 105.0h0.85M195.6 83.8h0.85M195.1 84.4h0.85M200.3 84.9h0.85M196.2 88.9h0.85M197.4 85.5h0.85M196.8 86.1h0.85M216.4 85.5h0.85M196.8 105.0h0.85M203.1 90.1h0.85M201.4 91.8h0.85M207.7 92.4h0.85M203.7 96.4h0.85M211.8 94.1h0.85M205.4 100.4h0.85M217.0 96.4h0.85M207.7 105.6h0.85M211.8 99.9h0.85M211.2 100.4h0.85M218.1 99.9h0.85M211.2 106.7h0.85M138.6 14.3h0.85M125.4 27.5h0.85M221.0 21.2h0.85M132.3 109.6h0.85M139.8 22.9h0.85M134.0 28.7h0.85M189.3 29.2h0.85M140.4 78.0h0.85M209.5 54.5h0.85M165.7 98.1h0.85M168.6 55.6h0.85M166.9 57.4h0.85M187.0 12.6h0.85M123.7 75.7h0.85M215.8 76.3h0.85M187.6 104.4h0.85M210.0 89.5h0.85M200.8 98.7h0.85M214.1 23.5h0.85M134.6 102.7h0.85"/>
<path stroke="#44bf70" stroke-width="0.85" d="M218.7 13.7h0.85M124.8 107.3h0.85M128.8 14.3h0.85M125.4 17.8h0.85M137.5 16.0h0.85M127.1 26.4h0.85M128.8 17.2h0.85M128.3 17.8h0.85M187.6 17.2h0.85M128.3 76.3h0.85M195.6 17.8h0.85M128.8 84.4h0.85M199.7 17.8h0.85M128.8 88.4h0.85M195.1 19.5h0.85M130.6 83.8h0.85M206.6 20.6h0.85M131.7 95.3h0.85M159.4 21.8h0.85M132.9 48.2h0.85M169.2 21.8h0.85M132.9 57.9h0.85M174.3 21.8h0.85M132.9 63.1h0.85M211.8 21.8h0.85M132.9 100.4h0.85M199.7 22.9h0.85M134.0 88.4h0.85M149.6 25.2h0.85M136.3 38.4h0.85M198.5 25.2h0.85M136.3 87.2h0.85M205.4 26.9h0.85M138.1 94.1h0.85M211.8 26.9h0.85M138.1 100.4h0.85M149.0 27.5h0.85M138.6 37.8h0.85M156.5 27.5h0.85M138.6 45.3h0.85M154.2 28.1h0.85M139.2 43.0h0.85M154.8 30.4h0.85M141.5 43.6h0.85M151.3 31.0h0.85M142.1 40.1h0.85M196.2 31.5h0.85M142.7 84.9h0.85M196.2 38.4h0.85M149.6 84.9h0.85M152.5 40.7h0.85M151.9 41.3h0.85M210.6 40.7h0.85M151.9 99.3h0.85M155.9 43.0h0.85M154.2 44.7h0.85M211.2 43.6h0.85M154.8 99.9h0.85M204.3 44.2h0.85M155.3 93.0h0.85M211.2 44.2h0.85M155.3 99.9h0.85M158.2 45.9h0.85M157.1 47.0h0.85M217.5 48.2h0.85M159.4 106.2h0.85M184.1 49.9h0.85M161.1 72.9h0.85M196.2 53.9h0.85M165.1 84.9h0.85M196.8 53.9h0.85M165.1 85.5h0.85M174.3 57.9h0.85M169.2 63.1h0.85M202.6 57.9h0.85M169.2 91.2h0.85M183.0 58.5h0.85M169.7 71.7h0.85M212.3 63.1h0.85M174.3 101.0h0.85M196.8 67.7h0.85M178.9 85.5h0.85M197.4 67.7h0.85M178.9 86.1h0.85M187.6 74.0h0.85M185.3 76.3h0.85M211.2 78.6h0.85M189.9 99.9h0.85M196.8 84.4h0.85M195.6 85.5h0.85M199.7 84.4h0.85M195.6 88.4h0.85M197.4 84.9h0.85M196.2 86.1h0.85M202.0 90.1h0.85M201.4 90.7h0.85M202.6 90.1h0.85M201.4 91.2h0.85M215.8 91.8h0.85M203.1 104.4h0.85M204.9 93.0h0.85M204.3 93.5h0.85M207.7 93.0h0.85M204.3 96.4h0.85M211.2 93.0h0.85M204.3 99.9h0.85M217.0 100.4h0.85M211.8 105.6h0.85M215.2 101.6h0.85M212.9 103.9h0.85M177.2 16.6h0.85M127.7 66.0h0.85M217.5 26.4h0.85M137.5 106.2h0.85M200.3 31.0h0.85M142.1 88.9h0.85M189.9 37.3h0.85M148.4 78.6h0.85M156.5 40.7h0.85M151.9 45.3h0.85M191.0 45.9h0.85M157.1 79.8h0.85M162.8 38.4h0.85M149.6 51.6h0.85M174.3 18.9h0.85M130.0 63.1h0.85M199.1 73.4h0.85M184.7 87.8h0.85M189.9 35.6h0.85M146.7 78.6h0.85M195.1 23.5h0.85M134.6 83.8h0.85M195.6 52.8h0.85M164.0 84.4h0.85M207.2 32.1h0.85M143.2 95.8h0.85M208.9 60.8h0.85M172.0 97.6h0.85M218.7 49.3h0.85M160.5 107.3h0.85M218.7 80.9h0.85M192.2 107.3h0.85"/>
<path stroke="#3b8a8c" stroke-width="0.85" d="M196.2 13.7h0.85M124.8 84.9h0.85M200.8 14.3h0.85M125.4 89.5h0.85M174.3 15.5h0.85M126.5 63.1h0.85M178.9 15.5h0.85M126.5 67.7h0.85M134.0 17.8h0.85M128.8 22.9h0.85M214.1 18.3h0.85M129.4 102.7h0.85M146.1 20.1h0.85M131.1 35.0h0.85M202.0 20.6h0.85M131.7 90.7h0.85M158.2 21.2h0.85M132.3 47.0h0.85M202.0 21.2h0.85M132.3 90.7h0.85M212.3 21.2h0.85M132.3 101.0h0.85M193.9 21.8h0.85M132.9 82.6h0.85M216.4 21.8h0.85M132.9 105.0h0.85M200.3 22.9h0.85M134.0 88.9h0.85M187.6 23.5h0.85M134.6 76.3h0.85M183.6 24.1h0.85M135.2 72.3h0.85M140.4 25.2h0.85M136.3 29.2h0.85M195.1 26.4h0.85M137.5 83.8h0.85M178.9 26.9h0.85M138.1 67.7h0.85M155.9 27.5h0.85M138.6 44.7h0.85M200.3 28.7h0.85M139.8 88.9h0.85M194.5 29.2h0.85M140.4 83.2h0.85M201.4 29.2h0.85M140.4 90.1h0.85M151.9 31.0h0.85M142.1 40.7h0.85M145.0 31.5h0.85M142.7 33.8h0.85M149.0 31.5h0.85M142.7 37.8h0.85M199.1 34.4h0.85M145.5 87.8h0.85M149.6 36.1h0.85M147.3 38.4h0.85M195.6 38.4h0.85M149.6 84.4h0.85M151.9 40.1h0.85M151.3 40.7h0.85M191.0 43.0h0.85M154.2 79.8h0.85M159.4 43.6h0.85M154.8 48.2h0.85M169.2 43.6h0.85M154.8 57.9h0.85M211.8 43.6h0.85M154.8 100.4h0.85M217.0 43.6h0.85M154.8 105.6h0.85M174.3 44.2h0.85M155.3 63.1h0.85M201.4 45.3h0.85M156.5 90.1h0.85M158.2 46.5h0.85M157.6 47.0h0.85M212.3 46.5h0.85M157.6 101.0h0.85M200.8 47.0h0.85M158.2 89.5h0.85M159.4 47.6h0.85M158.8 48.2h0.85M161.7 49.9h0.85M161.1 50.5h0.85M196.2 49.9h0.85M161.1 84.9h0.85M220.4 51.1h0.85M162.2 109.0h0.85M200.3 53.3h0.85M164.6 88.9h0.85M209.5 53.3h0.85M164.6 98.1h0.85M201.4 54.5h0.85M165.7 90.1h0.85M211.2 57.4h0.85M168.6 99.9h0.85M201.4 57.9h0.85M169.2 90.1h0.85M211.2 63.1h0.85M174.3 99.9h0.85M188.7 67.7h0.85M178.9 77.5h0.85M196.2 67.7h0.85M178.9 84.9h0.85M205.4 67.7h0.85M178.9 94.1h0.85M211.2 67.7h0.85M178.9 99.9h0.85M196.2 72.9h0.85M184.1 84.9h0.85M193.9 79.2h0.85M190.5 82.6h0.85M203.7 83.2h0.85M194.5 92.4h0.85M211.8 86.1h0.85M197.4 100.4h0.85M215.2 87.2h0.85M198.5 103.9h0.85M216.4 90.1h0.85M201.4 105.0h0.85M204.3 92.4h0.85M203.7 93.0h0.85M217.0 92.4h0.85M203.7 105.6h0.85M215.2 100.4h0.85M211.8 103.9h0.85M197.4 12.6h0.85M123.7 86.1h0.85M178.9 13.2h0.85M124.2 67.7h0.85M144.4 14.3h0.85M125.4 33.3h0.85M172.6 14.3h0.85M125.4 61.4h0.85M204.9 16.0h0.85M127.1 93.5h0.85M207.7 18.3h0.85M129.4 96.4h0.85M165.1 27.5h0.85M138.6 53.9h0.85M188.2 37.3h0.85M148.4 76.9h0.85M218.7 41.3h0.85M152.5 107.3h0.85M190.5 50.5h0.85M161.7 79.2h0.85M213.5 52.8h0.85M164.0 102.1h0.85M218.7 70.0h0.85M181.3 107.3h0.85M216.4 90.1h0.85M201.4 105.0h0.85M219.3 91.8h0.85M203.1 107.9h0.85M206.0 67.7h0.85M178.9 94.7h0.85M213.5 68.9h0.85M180.1 102.1h0.85M219.3 69.4h0.85M180.7 107.9h0.85"/>
<path stroke="#5b7a9a" stroke-width="0.85" d="M158.2 14.3h0.85M125.4 47.0h0.85M128.8 14.9h0.85M126.0 17.8h0.85M188.7 15.5h0.85M126.5 77.5h0.85M136.3 16.0h0.85M127.1 25.2h0.85M138.1 16.0h0.85M127.1 26.9h0.85M211.8 16.0h0.85M127.1 100.4h0.85M166.3 16.6h0.85M127.7 55.1h0.85M164.6 17.2h0.85M128.3 53.3h0.85M166.9 19.5h0.85M130.6 55.6h0.85M183.6 19.5h0.85M130.6 72.3h0.85M192.2 19.5h0.85M130.6 80.9h0.85M201.4 19.5h0.85M130.6 90.1h0.85M169.2 20.6h0.85M131.7 57.9h0.85M132.9 21.2h0.85M132.3 21.8h0.85M156.5 21.2h0.85M132.3 45.3h0.85M141.5 21.8h0.85M132.9 30.4h0.85M154.8 21.8h0.85M132.9 43.6h0.85M187.0 21.8h0.85M132.9 75.7h0.85M212.3 21.8h0.85M132.9 101.0h0.85M217.5 21.8h0.85M132.9 106.2h0.85M220.4 22.9h0.85M134.0 109.0h0.85M215.8 23.5h0.85M134.6 104.4h0.85M197.4 25.2h0.85M136.3 86.1h0.85M215.2 26.4h0.85M137.5 103.9h0.85M196.2 26.9h0.85M138.1 84.9h0.85M198.5 26.9h0.85M138.1 87.2h0.85M215.2 26.9h0.85M138.1 103.9h0.85M145.0 27.5h0.85M138.6 33.8h0.85M199.7 28.7h0.85M139.8 88.4h0.85M195.1 29.2h0.85M140.4 83.8h0.85M198.0 33.3h0.85M144.4 86.6h0.85M149.0 36.1h0.85M147.3 37.8h0.85M203.1 37.8h0.85M149.0 91.8h0.85M206.0 38.4h0.85M149.6 94.7h0.85M163.4 43.6h0.85M154.8 52.2h0.85M197.4 49.9h0.85M161.1 86.1h0.85M199.1 49.9h0.85M161.1 87.8h0.85M202.0 57.9h0.85M169.2 90.7h0.85M211.8 57.9h0.85M169.2 100.4h0.85M196.8 60.2h0.85M171.5 85.5h0.85M185.3 60.8h0.85M172.0 74.0h0.85M184.1 67.7h0.85M178.9 72.9h0.85M190.5 75.7h0.85M187.0 79.2h0.85M211.2 79.2h0.85M190.5 99.9h0.85M194.5 82.6h0.85M193.9 83.2h0.85M195.1 82.6h0.85M193.9 83.8h0.85M200.3 83.8h0.85M195.1 88.9h0.85M196.2 84.4h0.85M195.6 84.9h0.85M197.4 84.4h0.85M195.6 86.1h0.85M200.3 84.4h0.85M195.6 88.9h0.85M201.4 84.9h0.85M196.2 90.1h0.85M199.1 85.5h0.85M196.8 87.8h0.85M218.7 87.8h0.85M199.1 107.3h0.85M200.3 88.4h0.85M199.7 88.9h0.85M209.5 88.9h0.85M200.3 98.1h0.85M206.6 91.2h0.85M202.6 95.3h0.85M217.0 93.0h0.85M204.3 105.6h0.85M216.4 94.7h0.85M206.0 105.0h0.85M212.3 99.9h0.85M211.2 101.0h0.85M217.5 100.4h0.85M211.8 106.2h0.85M183.0 17.8h0.85M128.8 71.7h0.85M202.6 17.8h0.85M128.8 91.2h0.85M132.9 13.7h0.85M124.8 21.8h0.85M184.7 22.9h0.85M134.0 73.4h0.85M147.3 25.8h0.85M136.9 36.1h0.85M193.9 32.7h0.85M143.8 82.6h0.85M207.7 41.9h0.85M153.0 96.4h0.85M217.0 51.6h0.85M162.8 105.6h0.85M194.5 22.3h0.85M133.5 83.2h0.85M203.7 87.8h0.85M199.1 92.4h0.85M202.0 38.4h0.85M149.6 90.7h0.85M202.6 17.2h0.85M128.3 91.2h0.85M210.6 56.8h0.85M168.0 99.3h0.85M217.5 93.0h0.85M204.3 106.2h0.85"/>
</g></svg>
<rect x="235.6" y="12.1" width="98.2" height="97.6" fill="#440154"/>
<svg x="235.6" y="12.1" width="98.2" height="97.6" overflow="hidden"><g transform="translate(-235.6 -12.1)">
<path stroke="#3aa88a" stroke-width="0.9" d="M235.6 12.1L333.8 109.7"/>
<path stroke="#fde725" stroke-width="0.95" d="M257.4 13.5h0.95M236.6 34.2h0.95M261.4 13.5h0.95M236.6 38.2h0.95M273.0 13.5h0.95M236.6 49.7h0.95M277.0 13.5h0.95M236.6 53.7h0.95M300.7 13.5h0.95M236.6 77.3h0.95M304.7 13.5h0.95M236.6 81.3h0.95M307.6 13.5h0.95M236.6 84.2h0.95M308.2 13.5h0.95M236.6 84.7h0.95M237.7 14.1h0.95M237.1 14.7h0.95M244.7 14.1h0.95M237.1 21.6h0.95M269.5 14.1h0.95M237.1 46.3h0.95M276.4 14.1h0.95M237.1 53.1h0.95M312.2 14.1h0.95M237.1 88.7h0.95M312.8 14.1h0.95M237.1 89.3h0.95M322.1 14.1h0.95M237.1 98.5h0.95M324.4 14.1h0.95M237.1 100.8h0.95M240.0 14.7h0.95M237.7 17.0h0.95M245.8 14.7h0.95M237.7 22.7h0.95M307.6 14.7h0.95M237.7 84.2h0.95M312.2 14.7h0.95M237.7 88.7h0.95M266.6 15.3h0.95M238.3 43.4h0.95M267.2 15.3h0.95M238.3 44.0h0.95M271.2 15.3h0.95M238.3 48.0h0.95M286.2 15.3h0.95M238.3 62.9h0.95M290.9 15.3h0.95M238.3 67.5h0.95M301.8 15.3h0.95M238.3 78.4h0.95M309.4 15.3h0.95M238.3 85.9h0.95M316.3 15.3h0.95M238.3 92.8h0.95M323.8 15.3h0.95M238.3 100.2h0.95M249.3 15.8h0.95M238.9 26.2h0.95M249.9 15.8h0.95M238.9 26.7h0.95M252.2 15.8h0.95M238.9 29.0h0.95M310.5 15.8h0.95M238.9 87.0h0.95M317.4 15.8h0.95M238.9 93.9h0.95M323.2 15.8h0.95M238.9 99.7h0.95M323.8 15.8h0.95M238.9 100.2h0.95M324.9 15.8h0.95M238.9 101.4h0.95M327.3 15.8h0.95M238.9 103.7h0.95M260.3 16.4h0.95M239.5 37.1h0.95M241.8 17.0h0.95M240.0 18.7h0.95M245.8 17.0h0.95M240.0 22.7h0.95M276.4 17.0h0.95M240.0 53.1h0.95M297.2 17.0h0.95M240.0 73.8h0.95M311.7 17.0h0.95M240.0 88.2h0.95M245.8 17.6h0.95M240.6 22.7h0.95M246.4 17.6h0.95M240.6 23.3h0.95M269.5 17.6h0.95M240.6 46.3h0.95M299.5 17.6h0.95M240.6 76.1h0.95M308.2 17.6h0.95M240.6 84.7h0.95M332.5 17.6h0.95M240.6 108.8h0.95M247.5 18.1h0.95M241.2 24.4h0.95M312.2 18.7h0.95M241.8 88.7h0.95M321.5 18.7h0.95M241.8 97.9h0.95M247.0 19.3h0.95M242.3 23.9h0.95M248.1 19.3h0.95M242.3 25.0h0.95M249.9 19.3h0.95M242.3 26.7h0.95M278.7 19.3h0.95M242.3 55.4h0.95M304.7 19.3h0.95M242.3 81.3h0.95M307.0 19.3h0.95M242.3 83.6h0.95M307.6 19.3h0.95M242.3 84.2h0.95M309.4 19.3h0.95M242.3 85.9h0.95M315.7 19.3h0.95M242.3 92.2h0.95M327.8 19.3h0.95M242.3 104.2h0.95M258.5 19.9h0.95M242.9 35.4h0.95M315.7 19.9h0.95M242.9 92.2h0.95M244.1 20.4h0.95M243.5 21.0h0.95M281.0 20.4h0.95M243.5 57.7h0.95M314.6 20.4h0.95M243.5 91.0h0.95M330.1 20.4h0.95M243.5 106.5h0.95M268.3 21.0h0.95M244.1 45.1h0.95M281.0 21.0h0.95M244.1 57.7h0.95M295.5 21.0h0.95M244.1 72.1h0.95M302.4 21.0h0.95M244.1 79.0h0.95M308.2 21.0h0.95M244.1 84.7h0.95M309.4 21.0h0.95M244.1 85.9h0.95M315.1 21.0h0.95M244.1 91.6h0.95M323.2 21.0h0.95M244.1 99.7h0.95M327.8 21.0h0.95M244.1 104.2h0.95M267.2 21.6h0.95M244.7 44.0h0.95M269.5 21.6h0.95M244.7 46.3h0.95M270.7 21.6h0.95M244.7 47.4h0.95M271.2 21.6h0.95M244.7 48.0h0.95M280.5 21.6h0.95M244.7 57.2h0.95M286.2 21.6h0.95M244.7 62.9h0.95M301.8 21.6h0.95M244.7 78.4h0.95M305.9 21.6h0.95M244.7 82.4h0.95M306.5 21.6h0.95M244.7 83.0h0.95M313.4 21.6h0.95M244.7 89.9h0.95M327.8 21.6h0.95M244.7 104.2h0.95M328.4 21.6h0.95M244.7 104.8h0.95M329.6 21.6h0.95M244.7 106.0h0.95M307.6 22.7h0.95M245.8 84.2h0.95M311.7 22.7h0.95M245.8 88.2h0.95M321.5 22.7h0.95M245.8 97.9h0.95M299.5 23.3h0.95M246.4 76.1h0.95M328.4 23.3h0.95M246.4 104.8h0.95M277.6 23.9h0.95M247.0 54.3h0.95M296.1 23.9h0.95M247.0 72.7h0.95M304.2 23.9h0.95M247.0 80.7h0.95M313.4 23.9h0.95M247.0 89.9h0.95M314.0 23.9h0.95M247.0 90.5h0.95M249.3 25.0h0.95M248.1 26.2h0.95M257.4 25.0h0.95M248.1 34.2h0.95M259.1 25.0h0.95M248.1 35.9h0.95M260.8 25.0h0.95M248.1 37.6h0.95M261.4 25.0h0.95M248.1 38.2h0.95M306.5 25.0h0.95M248.1 83.0h0.95M309.4 25.0h0.95M248.1 85.9h0.95M312.2 25.0h0.95M248.1 88.7h0.95M313.4 25.0h0.95M248.1 89.9h0.95M330.7 25.0h0.95M248.1 107.1h0.95M277.6 26.2h0.95M249.3 54.3h0.95M306.5 26.2h0.95M249.3 83.0h0.95M308.2 26.2h0.95M249.3 84.7h0.95M316.3 26.2h0.95M249.3 92.8h0.95M323.8 26.2h0.95M249.3 100.2h0.95M324.9 26.2h0.95M249.3 101.4h0.95M252.2 26.7h0.95M249.9 29.0h0.95M253.3 26.7h0.95M249.9 30.2h0.95M275.3 26.7h0.95M249.9 52.0h0.95M307.0 26.7h0.95M249.9 83.6h0.95M308.2 26.7h0.95M249.9 84.7h0.95M309.4 26.7h0.95M249.9 85.9h0.95M315.7 26.7h0.95M249.9 92.2h0.95M319.8 26.7h0.95M249.9 96.2h0.95M323.2 26.7h0.95M249.9 99.7h0.95M324.9 26.7h0.95M249.9 101.4h0.95M329.0 26.7h0.95M249.9 105.4h0.95M253.9 27.3h0.95M250.4 30.8h0.95M256.8 27.3h0.95M250.4 33.6h0.95M260.3 27.3h0.95M250.4 37.1h0.95M260.8 27.3h0.95M250.4 37.6h0.95M266.0 27.3h0.95M250.4 42.8h0.95M308.2 27.3h0.95M250.4 84.7h0.95M314.0 27.3h0.95M250.4 90.5h0.95M314.6 27.3h0.95M250.4 91.0h0.95M315.1 27.3h0.95M250.4 91.6h0.95M254.5 27.9h0.95M251.0 31.3h0.95M266.0 27.9h0.95M251.0 42.8h0.95M267.8 27.9h0.95M251.0 44.5h0.95M307.6 28.5h0.95M251.6 84.2h0.95M311.7 28.5h0.95M251.6 88.2h0.95M278.7 29.0h0.95M252.2 55.4h0.95M304.2 29.0h0.95M252.2 80.7h0.95M308.8 29.0h0.95M252.2 85.3h0.95M314.0 29.0h0.95M252.2 90.5h0.95M314.6 29.0h0.95M252.2 91.0h0.95M329.0 29.0h0.95M252.2 105.4h0.95M266.6 30.2h0.95M253.3 43.4h0.95M267.2 30.2h0.95M253.3 44.0h0.95M270.7 30.2h0.95M253.3 47.4h0.95M271.2 30.2h0.95M253.3 48.0h0.95M281.0 30.2h0.95M253.3 57.7h0.95M301.8 30.2h0.95M253.3 78.4h0.95M316.3 30.2h0.95M253.3 92.8h0.95M317.4 30.2h0.95M253.3 93.9h0.95M323.8 30.2h0.95M253.3 100.2h0.95M324.4 30.2h0.95M253.3 100.8h0.95M259.1 30.8h0.95M253.9 35.9h0.95M260.8 30.8h0.95M253.9 37.6h0.95M261.4 30.8h0.95M253.9 38.2h0.95M262.6 30.8h0.95M253.9 39.4h0.95M264.9 30.8h0.95M253.9 41.7h0.95M308.2 30.8h0.95M253.9 84.7h0.95M322.6 30.8h0.95M253.9 99.1h0.95M260.3 31.3h0.95M254.5 37.1h0.95M261.4 31.3h0.95M254.5 38.2h0.95M264.3 31.3h0.95M254.5 41.1h0.95M309.4 31.3h0.95M254.5 85.9h0.95M314.6 31.3h0.95M254.5 91.0h0.95M315.1 31.3h0.95M254.5 91.6h0.95M320.9 31.9h0.95M255.1 97.4h0.95M309.9 33.1h0.95M256.2 86.4h0.95M259.1 33.6h0.95M256.8 35.9h0.95M266.0 33.6h0.95M256.8 42.8h0.95M267.8 33.6h0.95M256.8 44.5h0.95M303.0 33.6h0.95M256.8 79.6h0.95M315.1 33.6h0.95M256.8 91.6h0.95M261.4 34.2h0.95M257.4 38.2h0.95M308.2 34.2h0.95M257.4 84.7h0.95M308.8 34.2h0.95M257.4 85.3h0.95M309.4 34.2h0.95M257.4 85.9h0.95M316.3 34.8h0.95M257.9 92.8h0.95M316.9 34.8h0.95M257.9 93.3h0.95M260.3 35.9h0.95M259.1 37.1h0.95M307.6 35.9h0.95M259.1 84.2h0.95M308.2 35.9h0.95M259.1 84.7h0.95M309.4 35.9h0.95M259.1 85.9h0.95M318.0 35.9h0.95M259.1 94.5h0.95M260.8 37.1h0.95M260.3 37.6h0.95M267.8 37.1h0.95M260.3 44.5h0.95M315.1 37.1h0.95M260.3 91.6h0.95M318.0 37.1h0.95M260.3 94.5h0.95M266.0 37.6h0.95M260.8 42.8h0.95M267.8 37.6h0.95M260.8 44.5h0.95M278.2 37.6h0.95M260.8 54.9h0.95M308.2 37.6h0.95M260.8 84.7h0.95M309.4 37.6h0.95M260.8 85.9h0.95M314.6 37.6h0.95M260.8 91.0h0.95M330.7 37.6h0.95M260.8 107.1h0.95M275.8 38.2h0.95M261.4 52.6h0.95M304.7 38.2h0.95M261.4 81.3h0.95M307.0 38.2h0.95M261.4 83.6h0.95M309.4 38.2h0.95M261.4 85.9h0.95M312.2 38.2h0.95M261.4 88.7h0.95M315.1 38.2h0.95M261.4 91.6h0.95M264.3 39.4h0.95M262.6 41.1h0.95M322.6 39.9h0.95M263.1 99.1h0.95M264.3 40.5h0.95M263.7 41.1h0.95M268.3 42.8h0.95M266.0 45.1h0.95M302.4 43.4h0.95M266.6 79.0h0.95M306.5 43.4h0.95M266.6 83.0h0.95M307.0 43.4h0.95M266.6 83.6h0.95M316.3 43.4h0.95M266.6 92.8h0.95M323.8 43.4h0.95M266.6 100.2h0.95M271.2 44.0h0.95M267.2 48.0h0.95M315.7 44.0h0.95M267.2 92.2h0.95M319.8 44.0h0.95M267.2 96.2h0.95M324.4 44.0h0.95M267.2 100.8h0.95M329.0 44.0h0.95M267.2 105.4h0.95M270.1 44.5h0.95M267.8 46.8h0.95M313.4 44.5h0.95M267.8 89.9h0.95M270.7 45.1h0.95M268.3 47.4h0.95M308.8 45.1h0.95M268.3 85.3h0.95M270.7 45.7h0.95M268.9 47.4h0.95M312.8 45.7h0.95M268.9 89.3h0.95M324.4 46.3h0.95M269.5 100.8h0.95M302.4 46.8h0.95M270.1 79.0h0.95M308.8 46.8h0.95M270.1 85.3h0.95M312.8 46.8h0.95M270.1 89.3h0.95M323.2 46.8h0.95M270.1 99.7h0.95M328.4 46.8h0.95M270.1 104.8h0.95M302.4 47.4h0.95M270.7 79.0h0.95M323.8 47.4h0.95M270.7 100.2h0.95M324.4 47.4h0.95M270.7 100.8h0.95M302.4 48.0h0.95M271.2 79.0h0.95M314.6 48.0h0.95M271.2 91.0h0.95M323.2 48.0h0.95M271.2 99.7h0.95M323.8 48.0h0.95M271.2 100.2h0.95M324.4 48.0h0.95M271.2 100.8h0.95M330.1 48.0h0.95M271.2 106.5h0.95M330.7 49.7h0.95M273.0 107.1h0.95M308.2 50.3h0.95M273.5 84.7h0.95M308.8 50.3h0.95M273.5 85.3h0.95M330.7 50.3h0.95M273.5 107.1h0.95M306.5 52.0h0.95M275.3 83.0h0.95M315.7 52.0h0.95M275.3 92.2h0.95M319.8 52.0h0.95M275.3 96.2h0.95M307.6 53.1h0.95M276.4 84.2h0.95M312.2 53.1h0.95M276.4 88.7h0.95M278.2 53.7h0.95M277.0 54.9h0.95M295.5 53.7h0.95M277.0 72.1h0.95M296.1 53.7h0.95M277.0 72.7h0.95M309.4 53.7h0.95M277.0 85.9h0.95M313.4 53.7h0.95M277.0 89.9h0.95M323.8 53.7h0.95M277.0 100.2h0.95M278.7 54.3h0.95M277.6 55.4h0.95M295.5 54.3h0.95M277.6 72.1h0.95M296.1 54.3h0.95M277.6 72.7h0.95M313.4 54.3h0.95M277.6 89.9h0.95M314.0 54.3h0.95M277.6 90.5h0.95M315.7 54.3h0.95M277.6 92.2h0.95M316.3 54.3h0.95M277.6 92.8h0.95M316.9 54.3h0.95M277.6 93.3h0.95M296.1 54.9h0.95M278.2 72.7h0.95M330.7 54.9h0.95M278.2 107.1h0.95M281.0 57.2h0.95M280.5 57.7h0.95M323.2 57.2h0.95M280.5 99.7h0.95M324.4 57.2h0.95M280.5 100.8h0.95M329.6 57.2h0.95M280.5 106.0h0.95M313.4 57.7h0.95M281.0 89.9h0.95M314.0 57.7h0.95M281.0 90.5h0.95M314.6 57.7h0.95M281.0 91.0h0.95M317.4 57.7h0.95M281.0 93.9h0.95M318.6 57.7h0.95M281.0 95.1h0.95M323.8 57.7h0.95M281.0 100.2h0.95M328.4 57.7h0.95M281.0 104.8h0.95M330.1 57.7h0.95M281.0 106.5h0.95M284.5 58.3h0.95M281.6 61.2h0.95M294.9 58.3h0.95M281.6 71.5h0.95M309.4 60.0h0.95M283.4 85.9h0.95M297.2 60.6h0.95M283.9 73.8h0.95M313.4 60.6h0.95M283.9 89.9h0.95M328.4 60.6h0.95M283.9 104.8h0.95M294.9 61.2h0.95M284.5 71.5h0.95M292.6 62.3h0.95M285.7 69.2h0.95M293.2 62.3h0.95M285.7 69.8h0.95M300.7 62.9h0.95M286.2 77.3h0.95M302.4 62.9h0.95M286.2 79.0h0.95M314.6 62.9h0.95M286.2 91.0h0.95M316.3 62.9h0.95M286.2 92.8h0.95M323.8 62.9h0.95M286.2 100.2h0.95M296.1 67.5h0.95M290.9 72.7h0.95M300.7 67.5h0.95M290.9 77.3h0.95M307.6 67.5h0.95M290.9 84.2h0.95M308.2 67.5h0.95M290.9 84.7h0.95M308.8 67.5h0.95M290.9 85.3h0.95M323.2 67.5h0.95M290.9 99.7h0.95M327.3 67.5h0.95M290.9 103.7h0.95M329.6 67.5h0.95M290.9 106.0h0.95M304.2 72.1h0.95M295.5 80.7h0.95M308.2 72.1h0.95M295.5 84.7h0.95M314.0 72.1h0.95M295.5 90.5h0.95M314.6 72.1h0.95M295.5 91.0h0.95M316.9 72.1h0.95M295.5 93.3h0.95M328.4 72.1h0.95M295.5 104.8h0.95M304.7 72.7h0.95M296.1 81.3h0.95M308.2 72.7h0.95M296.1 84.7h0.95M308.8 72.7h0.95M296.1 85.3h0.95M330.7 72.7h0.95M296.1 107.1h0.95M299.0 75.0h0.95M298.4 75.5h0.95M305.9 75.0h0.95M298.4 82.4h0.95M302.4 75.5h0.95M299.0 79.0h0.95M305.9 75.5h0.95M299.0 82.4h0.95M328.4 75.5h0.95M299.0 104.8h0.95M312.2 76.1h0.95M299.5 88.7h0.95M327.8 76.1h0.95M299.5 104.2h0.95M330.7 77.3h0.95M300.7 107.1h0.95M323.8 78.4h0.95M301.8 100.2h0.95M329.6 78.4h0.95M301.8 106.0h0.95M313.4 79.0h0.95M302.4 89.9h0.95M323.8 79.0h0.95M302.4 100.2h0.95M315.1 79.6h0.95M303.0 91.6h0.95M318.0 79.6h0.95M303.0 94.5h0.95M307.6 81.3h0.95M304.7 84.2h0.95M314.0 81.3h0.95M304.7 90.5h0.95M328.4 81.3h0.95M304.7 104.8h0.95M320.9 81.9h0.95M305.3 97.4h0.95M316.3 82.4h0.95M305.9 92.8h0.95M319.8 82.4h0.95M305.9 96.2h0.95M327.8 82.4h0.95M305.9 104.2h0.95M328.4 82.4h0.95M305.9 104.8h0.95M315.7 83.0h0.95M306.5 92.2h0.95M316.3 83.0h0.95M306.5 92.8h0.95M329.0 83.0h0.95M306.5 105.4h0.95M307.6 83.6h0.95M307.0 84.2h0.95M309.4 83.6h0.95M307.0 85.9h0.95M316.3 83.6h0.95M307.0 92.8h0.95M308.2 84.2h0.95M307.6 84.7h0.95M308.8 84.2h0.95M307.6 85.3h0.95M311.1 84.2h0.95M307.6 87.6h0.95M312.2 84.2h0.95M307.6 88.7h0.95M330.7 84.2h0.95M307.6 107.1h0.95M311.1 84.7h0.95M308.2 87.6h0.95M314.0 84.7h0.95M308.2 90.5h0.95M327.3 84.7h0.95M308.2 103.7h0.95M330.7 84.7h0.95M308.2 107.1h0.95M309.4 85.3h0.95M308.8 85.9h0.95M313.4 85.3h0.95M308.8 89.9h0.95M314.6 85.3h0.95M308.8 91.0h0.95M323.8 85.3h0.95M308.8 100.2h0.95M327.8 85.3h0.95M308.8 104.2h0.95M328.4 85.3h0.95M308.8 104.8h0.95M313.4 85.9h0.95M309.4 89.9h0.95M314.0 85.9h0.95M309.4 90.5h0.95M323.2 85.9h0.95M309.4 99.7h0.95M323.8 85.9h0.95M309.4 100.2h0.95M330.7 85.9h0.95M309.4 107.1h0.95M323.2 87.0h0.95M310.5 99.7h0.95M323.8 87.0h0.95M310.5 100.2h0.95M324.9 87.0h0.95M310.5 101.4h0.95M313.4 87.6h0.95M311.1 89.9h0.95M321.5 88.7h0.95M312.2 97.9h0.95M321.5 89.3h0.95M312.8 97.9h0.95M324.4 89.3h0.95M312.8 100.8h0.95M314.0 89.9h0.95M313.4 90.5h0.95M314.6 89.9h0.95M313.4 91.0h0.95M318.6 89.9h0.95M313.4 95.1h0.95M323.2 89.9h0.95M313.4 99.7h0.95M327.8 89.9h0.95M313.4 104.2h0.95M328.4 89.9h0.95M313.4 104.8h0.95M330.1 89.9h0.95M313.4 106.5h0.95M330.7 89.9h0.95M313.4 107.1h0.95M314.6 90.5h0.95M314.0 91.0h0.95M323.2 90.5h0.95M314.0 99.7h0.95M315.1 91.0h0.95M314.6 91.6h0.95M318.6 91.0h0.95M314.6 95.1h0.95M329.6 91.0h0.95M314.6 106.0h0.95M327.8 91.6h0.95M315.1 104.2h0.95M316.9 92.2h0.95M315.7 93.3h0.95M316.9 92.8h0.95M316.3 93.3h0.95M319.8 92.8h0.95M316.3 96.2h0.95M323.2 92.8h0.95M316.3 99.7h0.95M323.8 92.8h0.95M316.3 100.2h0.95M324.4 92.8h0.95M316.3 100.8h0.95M327.3 92.8h0.95M316.3 103.7h0.95M319.8 93.3h0.95M316.9 96.2h0.95M323.2 93.9h0.95M317.4 99.7h0.95M323.8 93.9h0.95M317.4 100.2h0.95M329.6 93.9h0.95M317.4 106.0h0.95M328.4 94.5h0.95M318.0 104.8h0.95M323.2 96.2h0.95M319.8 99.7h0.95M323.8 99.7h0.95M323.2 100.2h0.95M329.0 99.7h0.95M323.2 105.4h0.95M327.3 100.2h0.95M323.8 103.7h0.95M329.0 100.2h0.95M323.8 105.4h0.95M329.0 103.7h0.95M327.3 105.4h0.95M307.6 12.4h0.95M235.4 84.2h0.95M272.4 13.0h0.95M236.0 49.1h0.95M318.0 13.5h0.95M236.6 94.5h0.95M288.0 14.1h0.95M237.1 64.6h0.95M311.7 14.1h0.95M237.1 88.2h0.95M312.2 16.4h0.95M239.5 88.7h0.95M254.5 18.7h0.95M241.8 31.3h0.95M312.2 19.3h0.95M242.3 88.7h0.95M264.3 21.0h0.95M244.1 41.1h0.95M287.4 21.6h0.95M244.7 64.1h0.95M307.0 21.6h0.95M244.7 83.6h0.95M315.7 21.6h0.95M244.7 92.2h0.95M323.8 21.6h0.95M244.7 100.2h0.95M325.5 21.6h0.95M244.7 101.9h0.95M297.2 22.7h0.95M245.8 73.8h0.95M246.4 18.1h0.95M241.2 23.3h0.95M266.6 23.3h0.95M246.4 43.4h0.95M331.9 23.3h0.95M246.4 108.3h0.95M247.0 22.7h0.95M245.8 23.9h0.95M247.5 17.6h0.95M240.6 24.4h0.95M268.3 24.4h0.95M247.5 45.1h0.95M310.5 26.7h0.95M249.9 87.0h0.95M325.5 29.6h0.95M252.7 101.9h0.95M308.8 31.3h0.95M254.5 85.3h0.95M314.6 31.3h0.95M254.5 91.0h0.95M255.1 26.2h0.95M249.3 31.9h0.95M279.3 32.5h0.95M255.6 56.0h0.95M256.2 18.7h0.95M241.8 33.1h0.95M256.2 30.2h0.95M253.3 33.1h0.95M268.3 33.1h0.95M256.2 45.1h0.95M259.7 12.4h0.95M235.4 36.5h0.95M260.3 17.0h0.95M240.0 37.1h0.95M260.3 25.0h0.95M248.1 37.1h0.95M262.6 22.7h0.95M245.8 39.4h0.95M329.0 39.9h0.95M263.1 105.4h0.95M315.7 41.7h0.95M264.9 92.2h0.95M330.1 41.7h0.95M264.9 106.5h0.95M266.6 39.4h0.95M262.6 43.4h0.95M326.1 44.0h0.95M267.2 102.5h0.95M271.8 44.5h0.95M267.8 48.6h0.95M301.3 46.3h0.95M269.5 77.8h0.95M311.1 46.3h0.95M269.5 87.6h0.95M270.1 26.2h0.95M249.3 46.8h0.95M324.9 47.4h0.95M270.7 101.4h0.95M308.2 49.1h0.95M272.4 84.7h0.95M308.2 50.9h0.95M274.1 84.7h0.95M308.2 51.4h0.95M274.7 84.7h0.95M315.7 52.0h0.95M275.3 92.2h0.95M278.2 54.3h0.95M277.6 54.9h0.95M310.5 55.4h0.95M278.7 87.0h0.95M303.6 57.2h0.95M280.5 80.1h0.95M298.4 57.7h0.95M281.0 75.0h0.95M281.6 22.7h0.95M245.8 58.3h0.95M283.9 19.3h0.95M242.3 60.6h0.95M324.4 61.8h0.95M285.1 100.8h0.95M290.3 62.3h0.95M285.7 66.9h0.95M314.0 67.5h0.95M290.9 90.5h0.95M292.0 64.1h0.95M287.4 68.7h0.95M293.2 17.0h0.95M240.0 69.8h0.95M327.8 72.7h0.95M296.1 104.2h0.95M297.2 68.1h0.95M291.4 73.8h0.95M328.4 74.4h0.95M297.8 104.8h0.95M299.0 70.9h0.95M294.3 75.5h0.95M323.2 75.5h0.95M299.0 99.7h0.95M332.5 76.7h0.95M300.1 108.8h0.95M315.7 77.3h0.95M300.7 92.2h0.95M301.3 22.1h0.95M245.2 77.8h0.95M302.4 41.1h0.95M264.3 79.0h0.95M303.0 49.7h0.95M273.0 79.6h0.95M304.7 69.8h0.95M293.2 81.3h0.95M330.1 81.9h0.95M305.3 106.5h0.95M307.0 58.3h0.95M281.6 83.6h0.95M307.6 24.4h0.95M247.5 84.2h0.95M307.6 27.9h0.95M251.0 84.2h0.95M307.6 49.1h0.95M272.4 84.2h0.95M308.2 28.5h0.95M251.6 84.7h0.95M320.3 84.7h0.95M308.2 96.8h0.95M330.7 87.0h0.95M310.5 107.1h0.95M311.1 52.6h0.95M275.8 87.6h0.95M312.2 30.8h0.95M253.9 88.7h0.95M312.8 26.2h0.95M249.3 89.3h0.95M314.6 19.9h0.95M242.9 91.0h0.95M323.2 91.0h0.95M314.6 99.7h0.95M318.0 69.8h0.95M293.2 94.5h0.95M319.2 44.0h0.95M267.2 95.6h0.95M319.8 79.6h0.95M303.0 96.2h0.95M320.9 27.9h0.95M251.0 97.4h0.95M322.1 34.8h0.95M257.9 98.5h0.95M322.1 44.5h0.95M267.8 98.5h0.95M324.4 42.8h0.95M266.0 100.8h0.95M326.1 57.2h0.95M280.5 102.5h0.95M327.3 81.9h0.95M305.3 103.7h0.95M327.8 20.4h0.95M243.5 104.2h0.95M328.4 75.5h0.95M299.0 104.8h0.95M329.0 33.1h0.95M256.2 105.4h0.95M329.6 54.9h0.95M278.2 106.0h0.95M329.6 65.8h0.95M289.1 106.0h0.95M330.1 82.4h0.95M305.9 106.5h0.95M330.7 19.9h0.95M242.9 107.1h0.95M330.7 69.8h0.95M293.2 107.1h0.95M332.5 31.9h0.95M255.1 108.8h0.95M333.0 29.6h0.95M252.7 109.4h0.95M243.5 12.4h0.95M235.4 20.4h0.95M248.7 12.4h0.95M235.4 25.6h0.95M238.9 14.1h0.95M237.1 15.8h0.95M235.4 14.7h0.95M237.7 12.4h0.95M236.6 14.7h0.95M237.7 13.5h0.95M244.7 14.7h0.95M237.7 21.6h0.95M244.1 15.3h0.95M238.3 21.0h0.95M236.0 16.4h0.95M239.5 13.0h0.95M242.3 17.0h0.95M240.0 19.3h0.95M241.2 19.9h0.95M242.9 18.1h0.95M243.5 19.9h0.95M242.9 20.4h0.95M245.8 19.9h0.95M242.9 22.7h0.95M244.7 20.4h0.95M243.5 21.6h0.95M247.0 20.4h0.95M243.5 23.9h0.95M240.0 21.6h0.95M244.7 17.0h0.95M248.1 21.6h0.95M244.7 25.0h0.95M240.0 23.3h0.95M246.4 17.0h0.95M242.3 23.9h0.95M247.0 19.3h0.95"/>
<path stroke="#bddf26" stroke-width="0.95" d="M330.7 13.5h0.95M236.6 107.1h0.95M240.0 14.1h0.95M237.1 17.0h0.95M268.9 14.1h0.95M237.1 45.7h0.95M321.5 14.7h0.95M237.7 97.9h0.95M253.3 15.3h0.95M238.3 30.2h0.95M281.0 15.3h0.95M238.3 57.7h0.95M248.1 15.8h0.95M238.9 25.0h0.95M308.2 15.8h0.95M238.9 84.7h0.95M278.2 16.4h0.95M239.5 54.9h0.95M311.7 17.6h0.95M240.6 88.2h0.95M326.1 18.1h0.95M241.2 102.5h0.95M249.3 19.3h0.95M242.3 26.2h0.95M257.9 19.3h0.95M242.3 34.8h0.95M281.0 19.3h0.95M242.3 57.7h0.95M306.5 19.3h0.95M242.3 83.0h0.95M314.6 19.3h0.95M242.3 91.0h0.95M316.9 19.9h0.95M242.9 93.3h0.95M267.8 21.0h0.95M244.1 44.5h0.95M270.1 21.0h0.95M244.1 46.8h0.95M328.4 21.0h0.95M244.1 104.8h0.95M290.9 21.6h0.95M244.7 67.5h0.95M302.4 21.6h0.95M244.7 79.0h0.95M312.8 21.6h0.95M244.7 89.3h0.95M314.6 21.6h0.95M244.7 91.0h0.95M323.2 21.6h0.95M244.7 99.7h0.95M324.4 21.6h0.95M244.7 100.8h0.95M274.1 22.7h0.95M245.8 50.9h0.95M283.9 23.3h0.95M246.4 60.6h0.95M252.2 25.0h0.95M248.1 29.0h0.95M304.7 25.0h0.95M248.1 81.3h0.95M316.3 25.0h0.95M248.1 92.8h0.95M317.4 25.0h0.95M248.1 93.9h0.95M295.5 26.2h0.95M249.3 72.1h0.95M327.3 26.2h0.95M249.3 103.7h0.95M306.5 26.7h0.95M249.9 83.0h0.95M308.8 26.7h0.95M249.9 85.3h0.95M310.5 26.7h0.95M249.9 87.0h0.95M317.4 26.7h0.95M249.9 93.9h0.95M324.4 26.7h0.95M249.9 100.8h0.95M251.0 27.3h0.95M250.4 27.9h0.95M261.4 29.0h0.95M252.2 38.2h0.95M312.2 29.0h0.95M252.2 88.7h0.95M270.1 30.2h0.95M253.3 46.8h0.95M263.1 30.8h0.95M253.9 39.9h0.95M263.7 30.8h0.95M253.9 40.5h0.95M264.3 30.8h0.95M253.9 41.1h0.95M315.1 30.8h0.95M253.9 91.6h0.95M266.0 31.3h0.95M254.5 42.8h0.95M308.8 31.3h0.95M254.5 85.3h0.95M318.0 31.3h0.95M254.5 94.5h0.95M258.5 34.8h0.95M257.9 35.4h0.95M315.7 35.4h0.95M258.5 92.2h0.95M260.8 35.9h0.95M259.1 37.6h0.95M308.2 37.1h0.95M260.3 84.7h0.95M313.4 38.2h0.95M261.4 89.9h0.95M264.3 39.9h0.95M263.1 41.1h0.95M322.6 40.5h0.95M263.7 99.1h0.95M322.6 41.1h0.95M264.3 99.1h0.95M267.8 42.8h0.95M266.0 44.5h0.95M271.2 43.4h0.95M266.6 48.0h0.95M305.9 43.4h0.95M266.6 82.4h0.95M315.7 43.4h0.95M266.6 92.2h0.95M319.8 43.4h0.95M266.6 96.2h0.95M329.0 43.4h0.95M266.6 105.4h0.95M300.7 44.0h0.95M267.2 77.3h0.95M301.8 44.0h0.95M267.2 78.4h0.95M323.2 44.0h0.95M267.2 99.7h0.95M323.8 44.0h0.95M267.2 100.2h0.95M314.6 44.5h0.95M267.8 91.0h0.95M270.1 45.1h0.95M268.3 46.8h0.95M313.4 45.1h0.95M268.3 89.9h0.95M324.4 45.1h0.95M268.3 100.8h0.95M270.7 46.3h0.95M269.5 47.4h0.95M321.5 46.3h0.95M269.5 97.9h0.95M323.2 46.3h0.95M269.5 99.7h0.95M314.0 46.8h0.95M270.1 90.5h0.95M321.5 46.8h0.95M270.1 97.9h0.95M307.6 49.7h0.95M273.0 84.2h0.95M309.4 49.7h0.95M273.0 85.9h0.95M311.1 50.3h0.95M273.5 87.6h0.95M332.5 50.9h0.95M274.1 108.8h0.95M329.0 52.0h0.95M275.3 105.4h0.95M304.7 53.7h0.95M277.0 81.3h0.95M308.2 53.7h0.95M277.0 84.7h0.95M308.8 53.7h0.95M277.0 85.3h0.95M308.8 54.3h0.95M277.6 85.3h0.95M290.9 54.9h0.95M278.2 67.5h0.95M309.4 55.4h0.95M278.7 85.9h0.95M313.4 55.4h0.95M278.7 89.9h0.95M286.2 57.2h0.95M280.5 62.9h0.95M323.8 57.2h0.95M280.5 100.2h0.95M290.9 57.7h0.95M281.0 67.5h0.95M301.8 57.7h0.95M281.0 78.4h0.95M302.4 57.7h0.95M281.0 79.0h0.95M304.7 58.9h0.95M282.2 81.3h0.95M304.7 60.0h0.95M283.4 81.3h0.95M308.8 60.0h0.95M283.4 85.3h0.95M313.4 60.0h0.95M283.4 89.9h0.95M296.6 64.1h0.95M287.4 73.2h0.95M295.5 67.5h0.95M290.9 72.1h0.95M304.7 67.5h0.95M290.9 81.3h0.95M323.8 67.5h0.95M290.9 100.2h0.95M293.2 69.2h0.95M292.6 69.8h0.95M296.1 72.1h0.95M295.5 72.7h0.95M311.1 72.1h0.95M295.5 87.6h0.95M330.7 72.1h0.95M295.5 107.1h0.95M311.1 72.7h0.95M296.1 87.6h0.95M302.4 75.0h0.95M298.4 79.0h0.95M328.4 75.0h0.95M298.4 104.8h0.95M313.4 75.5h0.95M299.0 89.9h0.95M323.2 75.5h0.95M299.0 99.7h0.95M311.1 77.3h0.95M300.7 87.6h0.95M323.2 78.4h0.95M301.8 99.7h0.95M324.4 78.4h0.95M301.8 100.8h0.95M324.4 79.0h0.95M302.4 100.8h0.95M327.8 79.0h0.95M302.4 104.2h0.95M309.4 81.3h0.95M304.7 85.9h0.95M307.6 83.0h0.95M306.5 84.2h0.95M308.2 83.0h0.95M306.5 84.7h0.95M312.2 83.0h0.95M306.5 88.7h0.95M316.9 83.0h0.95M306.5 93.3h0.95M319.8 83.0h0.95M306.5 96.2h0.95M329.0 83.6h0.95M307.0 105.4h0.95M332.5 84.2h0.95M307.6 108.8h0.95M311.7 84.7h0.95M308.2 88.2h0.95M318.0 84.7h0.95M308.2 94.5h0.95M323.8 84.7h0.95M308.2 100.2h0.95M316.3 87.0h0.95M310.5 92.8h0.95M327.3 87.0h0.95M310.5 103.7h0.95M322.1 89.3h0.95M312.8 98.5h0.95M318.0 89.9h0.95M313.4 94.5h0.95M318.0 90.5h0.95M314.0 94.5h0.95M327.8 91.0h0.95M314.6 104.2h0.95M318.0 91.6h0.95M315.1 94.5h0.95M324.9 100.2h0.95M323.8 101.4h0.95M329.6 100.2h0.95M323.8 106.0h0.95M329.6 100.8h0.95M324.4 106.0h0.95M327.3 101.4h0.95M324.9 103.7h0.95M330.1 106.0h0.95M329.6 106.5h0.95M326.7 13.0h0.95M236.0 103.1h0.95M251.0 17.0h0.95M240.0 27.9h0.95M275.3 20.4h0.95M243.5 52.0h0.95M245.8 22.1h0.95M245.2 22.7h0.95M279.9 22.1h0.95M245.2 56.6h0.95M321.5 22.7h0.95M245.8 97.9h0.95M322.1 25.0h0.95M248.1 98.5h0.95M251.6 25.0h0.95M248.1 28.5h0.95M316.9 34.8h0.95M257.9 93.3h0.95M310.5 36.5h0.95M259.7 87.0h0.95M261.4 37.1h0.95M260.3 38.2h0.95M326.1 46.8h0.95M270.1 102.5h0.95M288.6 54.9h0.95M278.2 65.2h0.95M282.8 15.8h0.95M238.9 59.5h0.95M307.0 62.9h0.95M286.2 83.6h0.95M323.2 67.5h0.95M290.9 99.7h0.95M293.2 37.1h0.95M260.3 69.8h0.95M297.2 44.5h0.95M267.8 73.8h0.95M299.5 30.2h0.95M253.3 76.1h0.95M301.3 68.1h0.95M291.4 77.8h0.95M326.1 77.8h0.95M301.3 102.5h0.95M308.2 23.9h0.95M247.0 84.7h0.95M308.8 34.2h0.95M257.4 85.3h0.95M309.4 18.1h0.95M241.2 85.9h0.95M312.2 76.7h0.95M300.1 88.7h0.95M320.3 91.6h0.95M315.1 96.8h0.95M321.5 26.2h0.95M249.3 97.9h0.95M326.1 28.5h0.95M251.6 102.5h0.95M326.1 95.1h0.95M318.6 102.5h0.95M330.1 88.2h0.95M311.7 106.5h0.95M331.9 53.1h0.95M276.4 108.3h0.95M332.5 57.7h0.95M281.0 108.8h0.95M333.0 71.5h0.95M294.9 109.4h0.95M242.9 13.0h0.95M236.0 19.9h0.95M237.1 13.5h0.95M236.6 14.1h0.95M244.1 14.7h0.95M237.7 21.0h0.95M237.1 17.0h0.95M240.0 14.1h0.95M238.3 17.0h0.95M240.0 15.3h0.95M248.7 18.1h0.95M241.2 25.6h0.95M248.1 18.7h0.95M241.8 25.0h0.95M249.9 19.3h0.95M242.3 26.7h0.95M244.1 26.2h0.95M249.3 21.0h0.95M240.0 26.7h0.95M249.9 17.0h0.95"/>
<path stroke="#7ad151" stroke-width="0.95" d="M248.1 13.5h0.95M236.6 25.0h0.95M278.2 13.5h0.95M236.6 54.9h0.95M295.5 13.5h0.95M236.6 72.1h0.95M308.8 13.5h0.95M236.6 85.3h0.95M311.1 13.5h0.95M236.6 87.6h0.95M240.6 14.1h0.95M237.1 17.6h0.95M299.5 14.7h0.95M237.7 76.1h0.95M324.4 15.3h0.95M238.3 100.8h0.95M329.6 15.3h0.95M238.3 106.0h0.95M260.8 16.4h0.95M239.5 37.6h0.95M318.0 16.4h0.95M239.5 94.5h0.95M321.5 17.0h0.95M240.0 97.9h0.95M241.8 17.6h0.95M240.6 18.7h0.95M312.2 17.6h0.95M240.6 88.7h0.95M252.2 19.3h0.95M242.3 29.0h0.95M270.1 19.3h0.95M242.3 46.8h0.95M328.4 19.3h0.95M242.3 104.8h0.95M313.4 20.4h0.95M243.5 89.9h0.95M314.0 20.4h0.95M243.5 90.5h0.95M318.6 20.4h0.95M243.5 95.1h0.95M250.4 21.0h0.95M244.1 27.3h0.95M271.2 21.0h0.95M244.1 48.0h0.95M314.0 21.0h0.95M244.1 90.5h0.95M314.6 21.0h0.95M244.1 91.0h0.95M268.3 21.6h0.95M244.7 45.1h0.95M268.9 21.6h0.95M244.7 45.7h0.95M270.1 21.6h0.95M244.7 46.8h0.95M298.4 21.6h0.95M244.7 75.0h0.95M299.0 21.6h0.95M244.7 75.5h0.95M316.3 21.6h0.95M244.7 92.8h0.95M317.4 21.6h0.95M244.7 93.9h0.95M330.1 21.6h0.95M244.7 106.5h0.95M307.0 22.7h0.95M245.8 83.6h0.95M308.2 22.7h0.95M245.8 84.7h0.95M297.2 23.3h0.95M246.4 73.8h0.95M307.0 23.9h0.95M247.0 83.6h0.95M307.6 25.0h0.95M248.1 84.2h0.95M308.2 25.0h0.95M248.1 84.7h0.95M308.8 25.0h0.95M248.1 85.3h0.95M311.1 25.0h0.95M248.1 87.6h0.95M323.2 25.0h0.95M248.1 99.7h0.95M329.0 25.0h0.95M248.1 105.4h0.95M307.0 26.2h0.95M249.3 83.6h0.95M307.6 26.2h0.95M249.3 84.2h0.95M307.6 26.7h0.95M249.9 84.2h0.95M323.8 26.7h0.95M249.9 100.2h0.95M327.3 26.7h0.95M249.9 103.7h0.95M268.3 27.3h0.95M250.4 45.1h0.95M303.0 27.3h0.95M250.4 79.6h0.95M313.4 27.3h0.95M250.4 89.9h0.95M318.0 27.3h0.95M250.4 94.5h0.95M315.1 27.9h0.95M251.0 91.6h0.95M307.6 29.0h0.95M252.2 84.2h0.95M316.9 29.0h0.95M252.2 93.3h0.95M314.6 30.2h0.95M253.3 91.0h0.95M256.8 30.8h0.95M253.9 33.6h0.95M303.0 30.8h0.95M253.9 79.6h0.95M305.3 32.5h0.95M255.6 81.9h0.95M308.2 33.6h0.95M256.8 84.7h0.95M330.7 34.2h0.95M257.4 107.1h0.95M266.0 37.1h0.95M260.3 42.8h0.95M303.0 37.1h0.95M260.3 79.6h0.95M268.3 37.6h0.95M260.8 45.1h0.95M307.6 37.6h0.95M260.8 84.2h0.95M315.1 37.6h0.95M260.8 91.6h0.95M318.0 37.6h0.95M260.8 94.5h0.95M263.7 38.2h0.95M261.4 40.5h0.95M266.0 38.2h0.95M261.4 42.8h0.95M267.8 38.2h0.95M261.4 44.5h0.95M303.0 38.2h0.95M261.4 79.6h0.95M264.9 39.9h0.95M263.1 41.7h0.95M315.1 42.8h0.95M266.0 91.6h0.95M314.6 43.4h0.95M266.6 91.0h0.95M317.4 43.4h0.95M266.6 93.9h0.95M315.1 45.1h0.95M268.3 91.6h0.95M269.5 45.7h0.95M268.9 46.3h0.95M322.1 46.3h0.95M269.5 98.5h0.95M271.2 46.8h0.95M270.1 48.0h0.95M305.9 46.8h0.95M270.1 82.4h0.95M313.4 46.8h0.95M270.1 89.9h0.95M314.6 46.8h0.95M270.1 91.0h0.95M324.4 46.8h0.95M270.1 100.8h0.95M329.6 46.8h0.95M270.1 106.0h0.95M313.4 47.4h0.95M270.7 89.9h0.95M329.6 48.0h0.95M271.2 106.0h0.95M308.8 49.7h0.95M273.0 85.3h0.95M312.2 50.9h0.95M274.1 88.7h0.95M307.0 52.0h0.95M275.3 83.6h0.95M316.3 52.0h0.95M275.3 92.8h0.95M316.9 52.0h0.95M275.3 93.3h0.95M290.9 53.7h0.95M277.0 67.5h0.95M330.7 53.7h0.95M277.0 107.1h0.95M328.4 54.3h0.95M277.6 104.8h0.95M318.0 54.9h0.95M278.2 94.5h0.95M304.2 55.4h0.95M278.7 80.7h0.95M316.3 57.7h0.95M281.0 92.8h0.95M318.0 57.7h0.95M281.0 94.5h0.95M283.4 58.9h0.95M282.2 60.0h0.95M302.4 60.6h0.95M283.9 79.0h0.95M327.8 60.6h0.95M283.9 104.2h0.95M323.2 62.9h0.95M286.2 99.7h0.95M329.6 62.9h0.95M286.2 106.0h0.95M309.4 67.5h0.95M290.9 85.9h0.95M310.5 67.5h0.95M290.9 87.0h0.95M311.1 67.5h0.95M290.9 87.6h0.95M317.4 67.5h0.95M290.9 93.9h0.95M327.8 73.8h0.95M297.2 104.2h0.95M323.2 77.3h0.95M300.7 99.7h0.95M323.8 77.3h0.95M300.7 100.2h0.95M314.6 79.6h0.95M303.0 91.0h0.95M306.5 82.4h0.95M305.9 83.0h0.95M307.6 82.4h0.95M305.9 84.2h0.95M323.2 82.4h0.95M305.9 99.7h0.95M312.2 84.7h0.95M308.2 88.7h0.95M313.4 84.7h0.95M308.2 89.9h0.95M311.1 85.3h0.95M308.8 87.6h0.95M314.0 85.3h0.95M308.8 90.5h0.95M323.8 87.6h0.95M311.1 100.2h0.95M321.5 88.2h0.95M311.7 97.9h0.95M327.8 90.5h0.95M314.0 104.2h0.95M328.4 90.5h0.95M314.0 104.8h0.95M324.4 91.0h0.95M314.6 100.8h0.95M328.4 91.0h0.95M314.6 104.8h0.95M330.1 91.0h0.95M314.6 106.5h0.95M330.1 91.6h0.95M315.1 106.5h0.95M316.3 92.2h0.95M315.7 92.8h0.95M329.0 92.2h0.95M315.7 105.4h0.95M329.0 92.8h0.95M316.3 105.4h0.95M324.4 100.2h0.95M323.8 100.8h0.95M330.7 100.2h0.95M323.8 107.1h0.95M330.1 100.8h0.95M324.4 106.5h0.95M328.4 104.2h0.95M327.8 104.8h0.95M257.9 12.4h0.95M235.4 34.8h0.95M318.6 12.4h0.95M235.4 95.1h0.95M285.7 19.9h0.95M242.9 62.3h0.95M254.5 22.1h0.95M245.2 31.3h0.95M296.6 22.1h0.95M245.2 73.2h0.95M282.2 30.8h0.95M253.9 58.9h0.95M305.3 31.3h0.95M254.5 81.9h0.95M311.7 33.1h0.95M256.2 88.2h0.95M299.0 35.4h0.95M258.5 75.5h0.95M303.6 39.9h0.95M263.1 80.1h0.95M292.0 46.8h0.95M270.1 68.7h0.95M289.7 54.9h0.95M278.2 66.4h0.95M301.8 54.9h0.95M278.2 78.4h0.95M331.3 58.3h0.95M281.6 107.7h0.95M298.4 60.6h0.95M283.9 75.0h0.95M299.5 60.6h0.95M283.9 76.1h0.95M288.0 58.9h0.95M282.2 64.6h0.95M290.3 60.0h0.95M283.4 66.9h0.95M301.8 68.1h0.95M291.4 78.4h0.95M329.0 69.2h0.95M292.6 105.4h0.95M319.8 70.4h0.95M293.8 96.2h0.95M304.7 30.2h0.95M253.3 81.3h0.95M305.3 22.1h0.95M245.2 81.9h0.95M307.0 57.7h0.95M281.0 83.6h0.95M307.6 83.6h0.95M307.0 84.2h0.95M309.9 69.8h0.95M293.2 86.4h0.95M331.9 87.0h0.95M310.5 108.3h0.95M333.0 88.2h0.95M311.7 109.4h0.95M315.1 73.2h0.95M296.6 91.6h0.95M316.3 12.4h0.95M235.4 92.8h0.95M321.5 38.2h0.95M261.4 97.9h0.95M322.6 18.7h0.95M241.8 99.1h0.95M323.2 88.7h0.95M312.2 99.7h0.95M325.5 100.8h0.95M324.4 101.9h0.95M333.0 58.3h0.95M281.6 109.4h0.95M249.9 15.8h0.95M238.9 26.7h0.95M244.1 16.4h0.95M239.5 21.0h0.95M238.3 18.7h0.95M241.8 15.3h0.95M244.1 20.4h0.95M243.5 21.0h0.95M246.4 20.4h0.95M243.5 23.3h0.95M248.7 22.7h0.95M245.8 25.6h0.95M235.4 23.9h0.95M247.0 12.4h0.95M248.7 26.2h0.95M249.3 25.6h0.95M239.5 26.7h0.95M249.9 16.4h0.95"/>
<path stroke="#44bf70" stroke-width="0.95" d="M273.5 13.5h0.95M236.6 50.3h0.95M309.4 13.5h0.95M236.6 85.9h0.95M313.4 13.5h0.95M236.6 89.9h0.95M244.1 14.1h0.95M237.1 21.0h0.95M276.4 14.7h0.95M237.7 53.1h0.95M280.5 15.3h0.95M238.3 57.2h0.95M300.7 15.3h0.95M238.3 77.3h0.95M316.3 15.8h0.95M238.9 92.8h0.95M329.0 15.8h0.95M238.9 105.4h0.95M283.9 17.0h0.95M240.0 60.6h0.95M312.2 17.0h0.95M240.0 88.7h0.95M277.6 19.3h0.95M242.3 54.3h0.95M295.5 19.3h0.95M242.3 72.1h0.95M296.1 19.3h0.95M242.3 72.7h0.95M308.8 19.3h0.95M242.3 85.3h0.95M314.0 19.3h0.95M242.3 90.5h0.95M315.1 19.3h0.95M242.3 91.6h0.95M257.9 19.9h0.95M242.9 34.8h0.95M315.1 20.4h0.95M243.5 91.6h0.95M328.4 20.4h0.95M243.5 104.8h0.95M244.7 21.0h0.95M244.1 21.6h0.95M247.0 21.0h0.95M244.1 23.9h0.95M270.7 21.0h0.95M244.1 47.4h0.95M304.7 21.0h0.95M244.1 81.3h0.95M324.4 21.0h0.95M244.1 100.8h0.95M249.9 21.6h0.95M244.7 26.7h0.95M281.0 21.6h0.95M244.7 57.7h0.95M251.6 22.7h0.95M245.8 28.5h0.95M332.5 22.7h0.95M245.8 108.8h0.95M318.0 23.3h0.95M246.4 94.5h0.95M327.8 23.3h0.95M246.4 104.2h0.95M328.4 23.9h0.95M247.0 104.8h0.95M310.5 25.0h0.95M248.1 87.0h0.95M327.3 25.0h0.95M248.1 103.7h0.95M249.9 26.2h0.95M249.3 26.7h0.95M252.2 26.2h0.95M249.3 29.0h0.95M310.5 26.2h0.95M249.3 87.0h0.95M261.4 26.7h0.95M249.9 38.2h0.95M329.6 26.7h0.95M249.9 106.0h0.95M259.1 27.3h0.95M250.4 35.9h0.95M327.8 27.3h0.95M250.4 104.2h0.95M312.2 28.5h0.95M251.6 88.7h0.95M305.9 29.0h0.95M252.2 82.4h0.95M309.4 29.0h0.95M252.2 85.9h0.95M323.8 29.0h0.95M252.2 100.2h0.95M328.4 29.0h0.95M252.2 104.8h0.95M302.4 30.2h0.95M253.3 79.0h0.95M323.2 30.2h0.95M253.3 99.7h0.95M329.6 30.2h0.95M253.3 106.0h0.95M267.8 30.8h0.95M253.9 44.5h0.95M256.8 31.3h0.95M254.5 33.6h0.95M260.8 31.3h0.95M254.5 37.6h0.95M267.8 31.3h0.95M254.5 44.5h0.95M305.3 31.9h0.95M255.1 81.9h0.95M260.8 33.6h0.95M256.8 37.6h0.95M273.5 34.2h0.95M257.4 50.3h0.95M316.9 35.4h0.95M258.5 93.3h0.95M330.7 37.1h0.95M260.3 107.1h0.95M303.0 37.6h0.95M260.8 79.6h0.95M308.8 37.6h0.95M260.8 85.3h0.95M311.1 38.2h0.95M261.4 87.6h0.95M318.0 38.2h0.95M261.4 94.5h0.95M263.1 39.4h0.95M262.6 39.9h0.95M314.6 42.8h0.95M266.0 91.0h0.95M318.0 42.8h0.95M266.0 94.5h0.95M324.4 43.4h0.95M266.6 100.8h0.95M329.6 43.4h0.95M266.6 106.0h0.95M306.5 44.0h0.95M267.2 83.0h0.95M329.6 44.0h0.95M267.2 106.0h0.95M322.1 45.7h0.95M268.9 98.5h0.95M271.2 46.3h0.95M269.5 48.0h0.95M312.8 46.3h0.95M269.5 89.3h0.95M270.7 46.8h0.95M270.1 47.4h0.95M312.8 47.4h0.95M270.7 89.3h0.95M323.2 47.4h0.95M270.7 99.7h0.95M301.8 48.0h0.95M271.2 78.4h0.95M304.7 49.7h0.95M273.0 81.3h0.95M313.4 49.7h0.95M273.0 89.9h0.95M305.9 52.0h0.95M275.3 82.4h0.95M304.2 54.3h0.95M277.6 80.7h0.95M307.0 54.3h0.95M277.6 83.6h0.95M295.5 55.4h0.95M278.7 72.1h0.95M301.8 57.2h0.95M280.5 78.4h0.95M308.8 57.7h0.95M281.0 85.3h0.95M323.2 57.7h0.95M281.0 99.7h0.95M324.4 57.7h0.95M281.0 100.8h0.95M299.5 60.6h0.95M283.9 76.1h0.95M290.9 62.9h0.95M286.2 67.5h0.95M330.1 62.9h0.95M286.2 106.5h0.95M313.4 67.5h0.95M290.9 89.9h0.95M329.0 67.5h0.95M290.9 105.4h0.95M307.0 72.1h0.95M295.5 83.6h0.95M307.6 72.7h0.95M296.1 84.2h0.95M323.8 72.7h0.95M296.1 100.2h0.95M306.5 75.5h0.95M299.0 83.0h0.95M321.5 76.1h0.95M299.5 97.9h0.95M317.4 77.3h0.95M300.7 93.9h0.95M318.0 79.0h0.95M302.4 94.5h0.95M323.2 79.0h0.95M302.4 99.7h0.95M309.4 80.7h0.95M304.2 85.9h0.95M311.1 81.3h0.95M304.7 87.6h0.95M330.7 81.3h0.95M304.7 107.1h0.95M307.0 82.4h0.95M305.9 83.6h0.95M308.2 83.6h0.95M307.0 84.7h0.95M308.8 83.6h0.95M307.0 85.3h0.95M312.2 83.6h0.95M307.0 88.7h0.95M319.8 83.6h0.95M307.0 96.2h0.95M316.3 84.2h0.95M307.6 92.8h0.95M312.2 85.3h0.95M308.8 88.7h0.95M330.7 85.3h0.95M308.8 107.1h0.95M312.2 85.9h0.95M309.4 88.7h0.95M314.6 85.9h0.95M309.4 91.0h0.95M317.4 85.9h0.95M309.4 93.9h0.95M328.4 85.9h0.95M309.4 104.8h0.95M317.4 87.0h0.95M310.5 93.9h0.95M330.7 87.6h0.95M311.1 107.1h0.95M332.5 88.2h0.95M311.7 108.8h0.95M332.5 88.7h0.95M312.2 108.8h0.95M324.4 89.9h0.95M313.4 100.8h0.95M330.1 90.5h0.95M314.0 106.5h0.95M318.0 91.0h0.95M314.6 94.5h0.95M323.8 91.0h0.95M314.6 100.2h0.95M318.6 91.6h0.95M315.1 95.1h0.95M323.2 91.6h0.95M315.1 99.7h0.95M323.2 92.2h0.95M315.7 99.7h0.95M329.6 92.8h0.95M316.3 106.0h0.95M327.3 99.7h0.95M323.2 103.7h0.95M328.4 99.7h0.95M323.2 104.8h0.95M330.1 99.7h0.95M323.2 106.5h0.95M330.1 100.2h0.95M323.8 106.5h0.95M329.0 101.4h0.95M324.9 105.4h0.95M261.4 14.1h0.95M237.1 38.2h0.95M296.1 14.7h0.95M237.7 72.7h0.95M300.1 14.7h0.95M237.7 76.7h0.95M289.7 16.4h0.95M239.5 66.4h0.95M265.5 19.3h0.95M242.3 42.2h0.95M291.4 21.0h0.95M244.1 68.1h0.95M311.1 23.9h0.95M247.0 87.6h0.95M289.1 27.9h0.95M251.0 65.8h0.95M303.0 27.9h0.95M251.0 79.6h0.95M294.9 29.0h0.95M252.2 71.5h0.95M257.4 33.1h0.95M256.2 34.2h0.95M318.0 33.1h0.95M256.2 94.5h0.95M265.5 33.6h0.95M256.8 42.2h0.95M262.6 34.8h0.95M257.9 39.4h0.95M260.3 16.4h0.95M239.5 37.1h0.95M267.8 37.1h0.95M260.3 44.5h0.95M260.8 31.9h0.95M255.1 37.6h0.95M319.8 38.8h0.95M262.0 96.2h0.95M262.6 23.3h0.95M246.4 39.4h0.95M303.6 42.2h0.95M265.5 80.1h0.95M307.0 43.4h0.95M266.6 83.6h0.95M301.8 48.6h0.95M271.8 78.4h0.95M319.8 52.0h0.95M275.3 96.2h0.95M297.2 53.1h0.95M276.4 73.8h0.95M312.8 55.4h0.95M278.7 89.3h0.95M301.8 62.3h0.95M285.7 78.4h0.95M304.2 64.6h0.95M288.0 80.7h0.95M307.6 66.4h0.95M289.7 84.2h0.95M290.3 57.7h0.95M281.0 66.9h0.95M312.8 71.5h0.95M294.9 89.3h0.95M299.5 74.4h0.95M297.8 76.1h0.95M301.3 21.0h0.95M244.1 77.8h0.95M303.6 56.0h0.95M279.3 80.1h0.95M311.1 80.7h0.95M304.2 87.6h0.95M319.2 81.3h0.95M304.7 95.6h0.95M305.3 16.4h0.95M239.5 81.9h0.95M307.0 64.1h0.95M287.4 83.6h0.95M307.6 70.9h0.95M294.3 84.2h0.95M317.4 86.4h0.95M309.9 93.9h0.95M310.5 14.1h0.95M237.1 87.0h0.95M311.7 87.6h0.95M311.1 88.2h0.95M315.7 45.7h0.95M268.9 92.2h0.95M316.9 39.9h0.95M263.1 93.3h0.95M317.4 14.1h0.95M237.1 93.9h0.95M329.6 76.1h0.95M299.5 106.0h0.95M330.7 72.7h0.95M296.1 107.1h0.95M333.0 72.1h0.95M295.5 109.4h0.95"/>
<path stroke="#3b8a8c" stroke-width="0.95" d="M290.9 13.5h0.95M236.6 67.5h0.95M296.1 13.5h0.95M236.6 72.7h0.95M323.8 13.5h0.95M236.6 100.2h0.95M270.7 14.1h0.95M237.1 47.4h0.95M321.5 14.1h0.95M237.1 97.9h0.95M240.6 14.7h0.95M237.7 17.6h0.95M244.7 15.3h0.95M238.3 21.6h0.95M290.9 15.8h0.95M238.9 67.5h0.95M261.4 16.4h0.95M239.5 38.2h0.95M251.6 17.6h0.95M240.6 28.5h0.95M307.6 17.6h0.95M240.6 84.2h0.95M276.4 18.7h0.95M241.8 53.1h0.95M304.2 19.3h0.95M242.3 80.7h0.95M308.2 19.3h0.95M242.3 84.7h0.95M277.6 19.9h0.95M242.9 54.3h0.95M318.0 20.4h0.95M243.5 94.5h0.95M277.6 21.0h0.95M244.1 54.3h0.95M308.8 21.0h0.95M244.1 85.3h0.95M313.4 21.0h0.95M244.1 89.9h0.95M276.4 22.7h0.95M245.8 53.1h0.95M248.1 23.9h0.95M247.0 25.0h0.95M249.3 23.9h0.95M247.0 26.2h0.95M308.8 23.9h0.95M247.0 85.3h0.95M314.6 23.9h0.95M247.0 91.0h0.95M326.1 24.4h0.95M247.5 102.5h0.95M254.5 25.0h0.95M248.1 31.3h0.95M307.0 25.0h0.95M248.1 83.6h0.95M324.9 25.0h0.95M248.1 101.4h0.95M313.4 26.2h0.95M249.3 89.9h0.95M317.4 26.2h0.95M249.3 93.9h0.95M323.2 26.2h0.95M249.3 99.7h0.95M329.0 26.2h0.95M249.3 105.4h0.95M266.6 26.7h0.95M249.9 43.4h0.95M316.3 26.7h0.95M249.9 92.8h0.95M267.8 27.3h0.95M250.4 44.5h0.95M260.8 27.9h0.95M251.0 37.6h0.95M303.0 27.9h0.95M251.0 79.6h0.95M308.2 29.0h0.95M252.2 84.7h0.95M316.3 29.0h0.95M252.2 92.8h0.95M327.3 29.0h0.95M252.2 103.7h0.95M266.0 30.8h0.95M253.9 42.8h0.95M259.1 31.3h0.95M254.5 35.9h0.95M263.7 31.3h0.95M254.5 40.5h0.95M308.2 31.3h0.95M254.5 84.7h0.95M255.6 31.9h0.95M255.1 32.5h0.95M261.4 33.6h0.95M256.8 38.2h0.95M304.7 34.2h0.95M257.4 81.3h0.95M308.8 35.9h0.95M259.1 85.3h0.95M309.4 37.1h0.95M260.3 85.9h0.95M308.2 38.2h0.95M261.4 84.7h0.95M327.8 38.2h0.95M261.4 104.2h0.95M330.7 38.2h0.95M261.4 107.1h0.95M263.7 39.4h0.95M262.6 40.5h0.95M322.6 39.4h0.95M262.6 99.1h0.95M267.2 43.4h0.95M266.6 44.0h0.95M270.1 43.4h0.95M266.6 46.8h0.95M301.8 43.4h0.95M266.6 78.4h0.95M315.1 44.5h0.95M267.8 91.6h0.95M318.0 44.5h0.95M267.8 94.5h0.95M328.4 45.1h0.95M268.3 104.8h0.95M270.1 45.7h0.95M268.9 46.8h0.95M324.4 45.7h0.95M268.9 100.8h0.95M270.1 46.3h0.95M269.5 46.8h0.95M302.4 46.3h0.95M269.5 79.0h0.95M323.8 46.8h0.95M270.1 100.2h0.95M271.2 47.4h0.95M270.7 48.0h0.95M316.3 48.0h0.95M271.2 92.8h0.95M317.4 48.0h0.95M271.2 93.9h0.95M308.2 49.7h0.95M273.0 84.7h0.95M311.7 53.1h0.95M276.4 88.2h0.95M300.7 53.7h0.95M277.0 77.3h0.95M308.8 54.9h0.95M278.2 85.3h0.95M309.4 54.9h0.95M278.2 85.9h0.95M296.1 55.4h0.95M278.7 72.7h0.95M286.2 57.7h0.95M281.0 62.9h0.95M315.1 57.7h0.95M281.0 91.6h0.95M315.1 60.6h0.95M283.9 91.6h0.95M318.0 60.6h0.95M283.9 94.5h0.95M324.4 67.5h0.95M290.9 100.8h0.95M330.7 67.5h0.95M290.9 107.1h0.95M308.8 72.1h0.95M295.5 85.3h0.95M313.4 72.7h0.95M296.1 89.9h0.95M308.8 79.0h0.95M302.4 85.3h0.95M314.6 79.0h0.95M302.4 91.0h0.95M308.2 81.3h0.95M304.7 84.7h0.95M308.8 81.3h0.95M304.7 85.3h0.95M313.4 81.3h0.95M304.7 89.9h0.95M314.6 81.3h0.95M304.7 91.0h0.95M313.4 82.4h0.95M305.9 89.9h0.95M315.7 82.4h0.95M305.9 92.2h0.95M313.4 83.6h0.95M307.0 89.9h0.95M313.4 84.2h0.95M307.6 89.9h0.95M310.5 84.7h0.95M308.2 87.0h0.95M314.6 84.7h0.95M308.2 91.0h0.95M328.4 84.7h0.95M308.2 104.8h0.95M329.0 84.7h0.95M308.2 105.4h0.95M315.1 85.3h0.95M308.8 91.6h0.95M316.9 89.9h0.95M313.4 93.3h0.95M315.1 90.5h0.95M314.0 91.6h0.95M318.6 90.5h0.95M314.0 95.1h0.95M324.4 93.9h0.95M317.4 100.8h0.95M329.0 93.9h0.95M317.4 105.4h0.95M327.8 94.5h0.95M318.0 104.2h0.95M329.6 99.7h0.95M323.2 106.0h0.95M264.9 12.4h0.95M235.4 41.7h0.95M282.8 17.0h0.95M240.0 59.5h0.95M273.5 20.4h0.95M243.5 50.3h0.95M260.8 21.6h0.95M244.7 37.6h0.95M330.1 26.7h0.95M249.9 106.5h0.95M264.9 35.4h0.95M258.5 41.7h0.95M279.9 38.2h0.95M261.4 56.6h0.95M308.8 39.4h0.95M262.6 85.3h0.95M263.7 37.1h0.95M260.3 40.5h0.95M264.3 37.1h0.95M260.3 41.1h0.95M265.5 29.0h0.95M252.2 42.2h0.95M320.3 42.8h0.95M266.0 96.8h0.95M280.5 44.0h0.95M267.2 57.2h0.95M330.7 45.1h0.95M268.3 107.1h0.95M319.2 48.6h0.95M271.8 95.6h0.95M272.4 17.6h0.95M240.6 49.1h0.95M273.0 14.1h0.95M237.1 49.7h0.95M325.5 54.9h0.95M278.2 101.9h0.95M307.0 56.0h0.95M279.3 83.6h0.95M280.5 12.4h0.95M235.4 57.2h0.95M314.0 64.6h0.95M288.0 90.5h0.95M311.1 66.9h0.95M290.3 87.6h0.95M294.3 66.9h0.95M290.3 70.9h0.95M309.4 70.9h0.95M294.3 85.9h0.95M296.6 17.6h0.95M240.6 73.2h0.95M307.6 67.5h0.95M290.9 84.2h0.95M309.4 84.7h0.95M308.2 85.9h0.95M313.4 86.4h0.95M309.9 89.9h0.95M311.1 15.3h0.95M238.3 87.6h0.95M313.4 21.0h0.95M244.1 89.9h0.95M314.6 76.7h0.95M300.1 91.0h0.95M315.1 18.7h0.95M241.8 91.6h0.95M315.7 56.6h0.95M279.9 92.2h0.95M326.1 92.8h0.95M316.3 102.5h0.95M319.2 37.6h0.95M260.8 95.6h0.95M324.4 81.9h0.95M305.3 100.8h0.95M327.3 85.9h0.95M309.4 103.7h0.95M328.4 81.3h0.95M304.7 104.8h0.95M329.6 56.0h0.95M279.3 106.0h0.95M331.3 17.0h0.95M240.0 107.7h0.95M331.3 96.2h0.95M319.8 107.7h0.95M332.5 13.0h0.95M236.0 108.8h0.95"/>
<path stroke="#5b7a9a" stroke-width="0.95" d="M270.1 14.1h0.95M237.1 46.8h0.95M241.8 14.7h0.95M237.7 18.7h0.95M311.7 14.7h0.95M237.7 88.2h0.95M323.2 15.3h0.95M238.3 99.7h0.95M250.4 16.4h0.95M239.5 27.3h0.95M330.7 16.4h0.95M239.5 107.1h0.95M240.6 17.0h0.95M240.0 17.6h0.95M246.4 17.0h0.95M240.0 23.3h0.95M299.5 17.0h0.95M240.0 76.1h0.95M307.6 17.0h0.95M240.0 84.2h0.95M276.4 17.6h0.95M240.6 53.1h0.95M307.0 17.6h0.95M240.6 83.6h0.95M321.5 17.6h0.95M240.6 97.9h0.95M243.5 19.3h0.95M242.3 20.4h0.95M244.1 19.3h0.95M242.3 21.0h0.95M268.3 19.3h0.95M242.3 45.1h0.95M302.4 19.3h0.95M242.3 79.0h0.95M313.4 19.3h0.95M242.3 89.9h0.95M316.9 19.3h0.95M242.3 93.3h0.95M250.4 20.4h0.95M243.5 27.3h0.95M308.8 20.4h0.95M243.5 85.3h0.95M323.2 20.4h0.95M243.5 99.7h0.95M252.2 21.0h0.95M244.1 29.0h0.95M268.9 21.0h0.95M244.1 45.7h0.95M269.5 21.0h0.95M244.1 46.3h0.95M312.8 21.0h0.95M244.1 89.3h0.95M253.3 21.6h0.95M244.7 30.2h0.95M266.6 21.6h0.95M244.7 43.4h0.95M323.8 21.6h0.95M244.7 100.2h0.95M312.2 22.7h0.95M245.8 88.7h0.95M252.2 23.9h0.95M247.0 29.0h0.95M316.9 23.9h0.95M247.0 93.3h0.95M249.9 25.0h0.95M248.1 26.7h0.95M323.8 25.0h0.95M248.1 100.2h0.95M271.2 26.7h0.95M249.9 48.0h0.95M300.7 26.7h0.95M249.9 77.3h0.95M254.5 27.3h0.95M250.4 31.3h0.95M261.4 27.3h0.95M250.4 38.2h0.95M263.7 27.3h0.95M250.4 40.5h0.95M306.5 29.0h0.95M252.2 83.0h0.95M307.0 29.0h0.95M252.2 83.6h0.95M310.5 29.0h0.95M252.2 87.0h0.95M313.4 29.0h0.95M252.2 89.9h0.95M330.1 30.2h0.95M253.3 106.5h0.95M254.5 30.8h0.95M253.9 31.3h0.95M275.8 30.8h0.95M253.9 52.6h0.95M263.1 31.3h0.95M254.5 39.9h0.95M268.3 31.3h0.95M254.5 45.1h0.95M303.0 31.3h0.95M254.5 79.6h0.95M307.6 31.3h0.95M254.5 84.2h0.95M320.9 32.5h0.95M255.6 97.4h0.95M263.7 33.6h0.95M256.8 40.5h0.95M307.6 34.2h0.95M257.4 84.2h0.95M311.1 34.2h0.95M257.4 87.6h0.95M313.4 34.2h0.95M257.4 89.9h0.95M323.8 34.2h0.95M257.4 100.2h0.95M315.7 34.8h0.95M257.9 92.2h0.95M261.4 35.9h0.95M259.1 38.2h0.95M261.4 37.1h0.95M260.3 38.2h0.95M327.8 37.1h0.95M260.3 104.2h0.95M261.4 37.6h0.95M260.8 38.2h0.95M327.8 37.6h0.95M260.8 104.2h0.95M328.4 37.6h0.95M260.8 104.8h0.95M307.6 38.2h0.95M261.4 84.2h0.95M308.8 38.2h0.95M261.4 85.3h0.95M263.7 39.9h0.95M263.1 40.5h0.95M264.9 40.5h0.95M263.7 41.7h0.95M264.9 41.1h0.95M264.3 41.7h0.95M303.0 42.8h0.95M266.0 79.6h0.95M270.7 43.4h0.95M266.6 47.4h0.95M316.9 43.4h0.95M266.6 93.3h0.95M323.2 43.4h0.95M266.6 99.7h0.95M330.1 43.4h0.95M266.6 106.5h0.95M316.3 44.0h0.95M267.2 92.8h0.95M268.3 44.5h0.95M267.8 45.1h0.95M303.0 44.5h0.95M267.8 79.6h0.95M269.5 45.1h0.95M268.3 46.3h0.95M303.0 45.1h0.95M268.3 79.6h0.95M314.0 45.1h0.95M268.3 90.5h0.95M314.6 45.1h0.95M268.3 91.0h0.95M321.5 45.7h0.95M268.9 97.9h0.95M313.4 46.3h0.95M269.5 89.9h0.95M322.1 46.8h0.95M270.1 98.5h0.95M329.6 47.4h0.95M270.7 106.0h0.95M311.1 49.7h0.95M273.0 87.6h0.95M323.8 49.7h0.95M273.0 100.2h0.95M309.4 50.3h0.95M273.5 85.9h0.95M323.2 52.0h0.95M275.3 99.7h0.95M321.5 53.1h0.95M276.4 97.9h0.95M307.6 53.7h0.95M277.0 84.2h0.95M311.1 53.7h0.95M277.0 87.6h0.95M314.6 54.3h0.95M277.6 91.0h0.95M308.2 54.9h0.95M278.2 84.7h0.95M311.1 54.9h0.95M278.2 87.6h0.95M290.3 56.0h0.95M279.3 66.9h0.95M300.7 57.2h0.95M280.5 77.3h0.95M329.6 57.7h0.95M281.0 106.0h0.95M308.8 58.9h0.95M282.2 85.3h0.95M308.2 60.0h0.95M283.4 84.7h0.95M301.8 62.9h0.95M286.2 78.4h0.95M317.4 62.9h0.95M286.2 93.9h0.95M324.4 62.9h0.95M286.2 100.8h0.95M309.4 72.1h0.95M295.5 85.9h0.95M313.4 72.1h0.95M295.5 89.9h0.95M300.7 72.7h0.95M296.1 77.3h0.95M304.2 72.7h0.95M296.1 80.7h0.95M309.4 72.7h0.95M296.1 85.9h0.95M299.5 73.8h0.95M297.2 76.1h0.95M327.8 75.5h0.95M299.0 104.2h0.95M301.8 77.3h0.95M300.7 78.4h0.95M308.2 77.3h0.95M300.7 84.7h0.95M308.8 77.3h0.95M300.7 85.3h0.95M309.4 77.3h0.95M300.7 85.9h0.95M305.9 79.0h0.95M302.4 82.4h0.95M306.5 79.0h0.95M302.4 83.0h0.95M307.0 79.0h0.95M302.4 83.6h0.95M314.0 79.0h0.95M302.4 90.5h0.95M316.3 79.0h0.95M302.4 92.8h0.95M328.4 79.0h0.95M302.4 104.8h0.95M329.6 79.0h0.95M302.4 106.0h0.95M313.4 80.7h0.95M304.2 89.9h0.95M329.0 82.4h0.95M305.9 105.4h0.95M307.0 83.0h0.95M306.5 83.6h0.95M323.2 83.0h0.95M306.5 99.7h0.95M328.4 83.0h0.95M306.5 104.8h0.95M311.7 83.6h0.95M307.0 88.2h0.95M315.7 83.6h0.95M307.0 92.2h0.95M309.4 84.2h0.95M307.6 85.9h0.95M311.7 84.2h0.95M307.6 88.2h0.95M321.5 84.2h0.95M307.6 97.9h0.95M308.8 84.7h0.95M308.2 85.3h0.95M309.4 84.7h0.95M308.2 85.9h0.95M311.1 85.9h0.95M309.4 87.6h0.95M329.0 87.0h0.95M310.5 105.4h0.95M312.2 88.2h0.95M311.7 88.7h0.95M315.1 89.9h0.95M313.4 91.6h0.95M323.2 91.0h0.95M314.6 99.7h0.95M328.4 91.6h0.95M315.1 104.8h0.95M319.8 92.2h0.95M315.7 96.2h0.95M329.0 93.3h0.95M316.9 105.4h0.95M327.3 93.9h0.95M317.4 103.7h0.95M329.0 96.2h0.95M319.8 105.4h0.95M324.4 99.7h0.95M323.2 100.8h0.95M236.6 13.0h0.95M236.0 13.5h0.95M238.9 15.3h0.95M238.3 15.8h0.95M265.5 18.1h0.95M241.2 42.2h0.95M259.1 25.0h0.95M248.1 35.9h0.95M250.4 25.6h0.95M248.7 27.3h0.95M309.4 33.1h0.95M256.2 85.9h0.95M330.1 33.1h0.95M256.2 106.5h0.95M303.6 35.9h0.95M259.1 80.1h0.95M264.9 23.3h0.95M246.4 41.7h0.95M266.6 12.4h0.95M235.4 43.4h0.95M269.5 14.7h0.95M237.7 46.3h0.95M317.4 48.0h0.95M271.2 93.9h0.95M332.5 48.6h0.95M271.8 108.8h0.95M332.5 49.1h0.95M272.4 108.8h0.95M273.5 24.4h0.95M247.5 50.3h0.95M279.9 56.0h0.95M279.3 56.6h0.95M319.2 57.7h0.95M281.0 95.6h0.95M285.7 58.9h0.95M282.2 62.3h0.95M298.4 17.0h0.95M240.0 75.0h0.95M301.3 16.4h0.95M239.5 77.8h0.95M303.0 27.9h0.95M251.0 79.6h0.95M307.6 79.0h0.95M302.4 84.2h0.95M319.8 88.2h0.95M311.7 96.2h0.95M312.2 53.1h0.95M276.4 88.7h0.95M318.6 93.9h0.95M317.4 95.1h0.95M324.4 97.9h0.95M321.5 100.8h0.95M329.0 100.2h0.95M323.8 105.4h0.95M326.1 33.1h0.95M256.2 102.5h0.95M329.6 80.1h0.95M303.6 106.0h0.95M330.1 20.4h0.95M243.5 106.5h0.95M332.5 20.4h0.95M243.5 108.8h0.95M332.5 68.7h0.95M292.0 108.8h0.95"/>
</g></svg>
<rect x="360.8" y="9.2" width="97.1" height="97.7" fill="#440154"/>
<svg x="360.8" y="9.2" width="97.1" height="97.7" overflow="hidden"><g transform="translate(-360.8 -9.2)">
<path stroke="#3f8088" stroke-width="0.45" d="M360.8 9.2L457.9 106.9"/>
<path stroke="#5b7a9a" stroke-width="0.6" d="M361.9 10.3h0.6M361.6 10.6h0.6M378.7 10.3h0.6M361.6 27.5h0.6M385.3 10.6h0.6M361.9 34.2h0.6M423.9 11.0h0.6M362.2 73.0h0.6M373.6 13.5h0.6M364.8 22.4h0.6M366.7 14.1h0.6M365.4 15.4h0.6M405.6 16.7h0.6M367.9 54.5h0.6M385.6 18.0h0.6M369.2 34.5h0.6M455.2 21.1h0.6M372.4 104.5h0.6M417.3 22.4h0.6M373.6 66.3h0.6M437.2 23.0h0.6M374.3 86.4h0.6M396.1 24.0h0.6M375.2 45.0h0.6M393.6 25.3h0.6M376.5 42.5h0.6M386.6 29.4h0.6M380.6 35.5h0.6M381.8 30.4h0.6M381.5 30.7h0.6M441.6 30.7h0.6M381.8 90.8h0.6M390.7 31.0h0.6M382.2 39.6h0.6M383.4 32.0h0.6M383.1 32.3h0.6M410.9 32.6h0.6M383.7 60.0h0.6M386.3 34.8h0.6M386.0 35.1h0.6M410.3 39.0h0.6M390.1 59.3h0.6M447.6 39.0h0.6M390.1 96.9h0.6M413.8 40.9h0.6M392.0 62.8h0.6M395.4 41.2h0.6M392.3 44.4h0.6M435.6 43.7h0.6M394.8 84.8h0.6M452.4 47.9h0.6M398.9 101.6h0.6M419.2 48.2h0.6M399.2 68.2h0.6M413.2 60.9h0.6M411.9 62.2h0.6M452.1 68.2h0.6M419.2 101.3h0.6M422.7 71.4h0.6M422.3 71.7h0.6M455.9 72.4h0.6M423.3 105.1h0.6M439.4 74.6h0.6M425.5 88.6h0.6M428.7 75.2h0.6M426.1 77.8h0.6M456.8 81.9h0.6M432.8 106.1h0.6M441.3 90.2h0.6M441.0 90.5h0.6M442.9 91.8h0.6M442.6 92.1h0.6M449.9 97.2h0.6M448.0 99.1h0.6"/>
<path stroke="#3b8a8c" stroke-width="0.6" d="M367.6 9.7h0.6M361.0 16.4h0.6M430.6 10.0h0.6M361.3 79.7h0.6M425.8 10.6h0.6M361.9 74.9h0.6M415.4 11.9h0.6M363.2 64.4h0.6M366.0 12.9h0.6M364.1 14.8h0.6M392.0 12.9h0.6M364.1 40.9h0.6M397.0 13.8h0.6M365.1 46.0h0.6M425.8 14.8h0.6M366.0 74.9h0.6M445.1 17.6h0.6M368.9 94.3h0.6M389.1 18.0h0.6M369.2 38.0h0.6M410.6 18.0h0.6M369.2 59.6h0.6M387.5 18.3h0.6M369.5 36.4h0.6M455.2 21.8h0.6M373.0 104.5h0.6M376.8 22.1h0.6M373.3 25.6h0.6M414.7 22.4h0.6M373.6 63.8h0.6M386.0 25.0h0.6M376.2 34.8h0.6M456.2 26.5h0.6M377.7 105.5h0.6M454.0 28.8h0.6M380.0 103.2h0.6M398.9 29.1h0.6M380.3 47.9h0.6M417.3 29.1h0.6M380.3 66.3h0.6M449.5 30.4h0.6M381.5 98.8h0.6M453.3 30.4h0.6M381.5 102.6h0.6M386.6 32.0h0.6M383.1 35.5h0.6M434.0 32.0h0.6M383.1 83.2h0.6M405.9 32.3h0.6M383.4 54.9h0.6M437.8 32.6h0.6M383.7 87.0h0.6M453.6 32.6h0.6M383.7 102.9h0.6M385.0 33.5h0.6M384.7 33.9h0.6M417.3 36.1h0.6M387.2 66.3h0.6M455.2 36.7h0.6M387.9 104.5h0.6M438.1 38.6h0.6M389.8 87.3h0.6M390.4 39.0h0.6M390.1 39.3h0.6M404.9 39.0h0.6M390.1 53.9h0.6M395.1 39.9h0.6M391.0 44.0h0.6M427.1 39.9h0.6M391.0 76.2h0.6M392.9 41.5h0.6M392.6 41.8h0.6M400.2 41.5h0.6M392.6 49.1h0.6M419.5 44.4h0.6M395.4 68.6h0.6M450.2 47.9h0.6M398.9 99.4h0.6M404.9 48.2h0.6M399.2 53.9h0.6M428.3 49.1h0.6M400.2 77.5h0.6M403.4 50.7h0.6M401.8 52.3h0.6M403.4 51.0h0.6M402.1 52.3h0.6M423.9 51.0h0.6M402.1 73.0h0.6M433.7 51.0h0.6M402.1 82.9h0.6M454.3 51.0h0.6M402.1 103.6h0.6M433.4 51.4h0.6M402.4 82.6h0.6M437.2 53.6h0.6M404.6 86.4h0.6M427.4 56.5h0.6M407.5 76.5h0.6M446.4 56.5h0.6M407.5 95.6h0.6M436.3 57.4h0.6M408.4 85.4h0.6M410.0 58.7h0.6M409.7 59.0h0.6M412.5 60.3h0.6M411.3 61.6h0.6M417.0 61.2h0.6M412.2 66.0h0.6M418.2 67.0h0.6M417.9 67.3h0.6M449.2 69.8h0.6M420.8 98.5h0.6M432.1 70.1h0.6M421.1 81.3h0.6M455.2 70.1h0.6M421.1 104.5h0.6M450.8 70.5h0.6M421.4 100.1h0.6M441.6 77.1h0.6M428.0 90.8h0.6M438.8 86.1h0.6M436.9 88.0h0.6M437.8 86.7h0.6M437.5 87.0h0.6M445.7 88.0h0.6M438.8 95.0h0.6M445.7 94.6h0.6M445.4 95.0h0.6M449.2 97.2h0.6M448.0 98.5h0.6M450.5 99.4h0.6M450.2 99.7h0.6M455.2 103.9h0.6M454.6 104.5h0.6M455.5 104.5h0.6M455.2 104.8h0.6"/>
<path stroke="#6a6f9a" stroke-width="0.6" d="M455.9 9.4h0.6M360.7 105.1h0.6M366.7 10.0h0.6M361.3 15.4h0.6M418.9 10.6h0.6M361.9 67.9h0.6M433.1 11.9h0.6M363.2 82.2h0.6M415.7 12.9h0.6M364.1 64.7h0.6M406.8 15.1h0.6M366.4 55.8h0.6M428.3 19.5h0.6M370.8 77.5h0.6M423.9 20.8h0.6M372.0 73.0h0.6M439.1 21.1h0.6M372.4 88.3h0.6M384.7 21.5h0.6M372.7 33.5h0.6M389.4 22.4h0.6M373.6 38.3h0.6M401.8 23.7h0.6M374.9 50.7h0.6M375.8 24.0h0.6M375.2 24.6h0.6M429.3 24.3h0.6M375.5 78.4h0.6M450.2 25.3h0.6M376.5 99.4h0.6M377.1 25.6h0.6M376.8 25.9h0.6M400.8 27.2h0.6M378.4 49.8h0.6M407.2 30.0h0.6M381.2 56.1h0.6M402.4 30.7h0.6M381.8 51.4h0.6M454.3 30.7h0.6M381.8 103.6h0.6M396.7 31.3h0.6M382.5 45.6h0.6M440.0 32.0h0.6M383.1 89.2h0.6M418.5 32.9h0.6M384.1 67.6h0.6M445.1 36.4h0.6M387.5 94.3h0.6M389.4 38.0h0.6M389.1 38.3h0.6M398.0 39.9h0.6M391.0 46.9h0.6M410.6 39.9h0.6M391.0 59.6h0.6M449.2 42.1h0.6M393.2 98.5h0.6M409.7 43.7h0.6M394.8 58.7h0.6M413.5 44.0h0.6M395.1 62.5h0.6M398.3 44.4h0.6M395.4 47.2h0.6M397.7 46.3h0.6M397.3 46.6h0.6M401.8 50.4h0.6M401.5 50.7h0.6M443.8 50.7h0.6M401.8 93.1h0.6M416.0 51.0h0.6M402.1 65.1h0.6M451.1 53.9h0.6M404.9 100.4h0.6M426.4 58.4h0.6M409.4 75.6h0.6M423.9 58.7h0.6M409.7 73.0h0.6M414.7 59.0h0.6M410.0 63.8h0.6M435.3 59.6h0.6M410.6 84.5h0.6M425.2 63.8h0.6M414.7 74.3h0.6M416.6 65.4h0.6M416.3 65.7h0.6M449.2 67.9h0.6M418.9 98.5h0.6M426.4 69.5h0.6M420.4 75.6h0.6M421.4 70.1h0.6M421.1 70.5h0.6M427.4 74.0h0.6M424.9 76.5h0.6M447.3 74.0h0.6M424.9 96.6h0.6M427.4 76.2h0.6M427.1 76.5h0.6M429.3 78.1h0.6M429.0 78.4h0.6M453.0 86.7h0.6M437.5 102.3h0.6M443.2 92.1h0.6M442.9 92.4h0.6M452.7 99.4h0.6M450.2 102.0h0.6"/>
<path stroke="#7ad151" stroke-width="0.6" d="M363.5 9.7h0.6M361.0 12.2h0.6M454.9 11.0h0.6M362.2 104.2h0.6M403.0 12.9h0.6M364.1 52.0h0.6M410.6 13.5h0.6M364.8 59.6h0.6M433.1 15.7h0.6M367.0 82.2h0.6M434.4 15.7h0.6M367.0 83.5h0.6M383.1 16.4h0.6M367.6 32.0h0.6M433.7 16.4h0.6M367.6 82.9h0.6M368.2 16.7h0.6M367.9 17.0h0.6M443.8 17.0h0.6M368.2 93.1h0.6M456.2 19.5h0.6M370.8 105.5h0.6M388.2 21.5h0.6M372.7 37.0h0.6M457.1 22.4h0.6M373.6 106.4h0.6M395.4 22.7h0.6M373.9 44.4h0.6M401.5 26.5h0.6M377.7 50.4h0.6M435.0 26.9h0.6M378.1 84.1h0.6M398.6 28.1h0.6M379.3 47.5h0.6M383.4 28.8h0.6M380.0 32.3h0.6M442.9 30.7h0.6M381.8 92.1h0.6M454.6 32.6h0.6M383.7 103.9h0.6M388.8 37.4h0.6M388.5 37.7h0.6M407.8 40.9h0.6M392.0 56.8h0.6M392.6 41.2h0.6M392.3 41.5h0.6M453.0 41.5h0.6M392.6 102.3h0.6M415.4 41.8h0.6M392.9 64.4h0.6M439.7 44.4h0.6M395.4 88.9h0.6M410.3 49.5h0.6M400.5 59.3h0.6M431.5 50.7h0.6M401.8 80.6h0.6M448.0 51.0h0.6M402.1 97.2h0.6M456.2 51.0h0.6M402.1 105.5h0.6M404.0 52.6h0.6M403.7 53.0h0.6M404.6 53.3h0.6M404.3 53.6h0.6M417.9 53.6h0.6M404.6 67.0h0.6M411.3 56.8h0.6M407.8 60.3h0.6M455.2 59.0h0.6M410.0 104.5h0.6M426.8 60.0h0.6M410.9 75.9h0.6M453.3 63.1h0.6M414.1 102.6h0.6M416.0 64.7h0.6M415.7 65.1h0.6M420.1 68.9h0.6M419.8 69.2h0.6M420.4 69.2h0.6M420.1 69.5h0.6M422.0 69.5h0.6M420.4 71.1h0.6M453.6 74.3h0.6M425.2 102.9h0.6M435.6 75.2h0.6M426.1 84.8h0.6M449.5 88.3h0.6M439.1 98.8h0.6"/>
<circle cx="419.5" cy="68.2" r="0.8" fill="#3aa08c"/>
</g></svg>
<rect x="472.6" y="12.3" width="97" height="97.6" fill="#440154"/>
<svg x="472.6" y="12.3" width="97" height="97.6" overflow="hidden"><g transform="translate(-472.6 -12.3)">
<path stroke="#3b8a8c" stroke-width="0.55" d="M472.6 12.3L569.6 109.9"/>
<path stroke="#5f8a9a" stroke-width="0.6" d="M545.4 12.8h0.6M472.8 85.9h0.6M477.8 13.7h0.6M473.7 17.9h0.6M525.5 16.0h0.6M475.9 65.9h0.6M529.0 16.6h0.6M476.6 69.4h0.6M542.3 18.5h0.6M478.5 82.7h0.6M545.8 19.5h0.6M479.4 86.2h0.6M497.4 21.0h0.6M481.0 37.6h0.6M501.2 21.0h0.6M481.0 41.4h0.6M540.1 22.6h0.6M482.6 80.5h0.6M561.2 24.2h0.6M484.1 101.8h0.6M566.3 24.2h0.6M484.1 106.9h0.6M499.6 24.9h0.6M484.8 39.8h0.6M532.8 24.9h0.6M484.8 73.2h0.6M567.2 24.9h0.6M484.8 107.8h0.6M521.7 25.5h0.6M485.4 62.1h0.6M504.1 25.8h0.6M485.7 44.3h0.6M516.4 26.1h0.6M486.0 56.6h0.6M513.2 26.8h0.6M486.7 53.5h0.6M555.6 26.8h0.6M486.7 96.1h0.6M541.0 27.4h0.6M487.3 81.4h0.6M562.2 28.4h0.6M488.3 102.7h0.6M513.8 29.6h0.6M489.5 54.1h0.6M565.7 31.9h0.6M491.7 106.2h0.6M510.7 32.2h0.6M492.0 50.9h0.6M529.0 32.2h0.6M492.0 69.4h0.6M564.1 32.2h0.6M492.0 104.7h0.6M514.2 33.4h0.6M493.3 54.4h0.6M561.2 33.8h0.6M493.6 101.8h0.6M551.8 35.0h0.6M494.9 92.3h0.6M536.9 35.7h0.6M495.5 77.3h0.6M530.6 37.3h0.6M497.1 71.0h0.6M500.9 37.6h0.6M497.4 41.1h0.6M567.2 39.8h0.6M499.6 107.8h0.6M568.8 41.4h0.6M501.2 109.4h0.6M511.0 42.0h0.6M501.8 51.2h0.6M516.7 42.0h0.6M501.8 57.0h0.6M522.4 43.0h0.6M502.8 62.7h0.6M514.8 43.9h0.6M503.7 55.1h0.6M504.7 44.3h0.6M504.1 44.9h0.6M564.7 44.6h0.6M504.4 105.3h0.6M537.9 46.8h0.6M506.6 78.3h0.6M551.4 50.3h0.6M510.1 91.9h0.6M516.7 51.2h0.6M511.0 57.0h0.6M563.8 51.2h0.6M511.0 104.3h0.6M564.7 52.2h0.6M512.0 105.3h0.6M522.1 52.5h0.6M512.3 62.4h0.6M515.1 53.5h0.6M513.2 55.4h0.6M515.1 53.8h0.6M513.5 55.4h0.6M527.4 55.1h0.6M514.8 67.8h0.6M543.2 55.4h0.6M515.1 83.7h0.6M566.0 55.4h0.6M515.1 106.6h0.6M516.4 56.3h0.6M516.1 56.6h0.6M522.1 57.0h0.6M516.7 62.4h0.6M530.9 57.0h0.6M516.7 71.3h0.6M559.3 62.4h0.6M522.1 99.9h0.6M538.8 62.7h0.6M522.4 79.2h0.6M565.4 63.0h0.6M522.7 105.9h0.6M566.3 63.0h0.6M522.7 106.9h0.6M565.4 66.8h0.6M526.5 105.9h0.6M568.8 66.8h0.6M526.5 109.4h0.6M568.8 69.4h0.6M529.0 109.4h0.6M559.7 71.0h0.6M530.6 100.2h0.6M560.9 71.0h0.6M530.6 101.5h0.6M533.8 72.2h0.6M531.9 74.1h0.6M538.2 72.5h0.6M532.2 78.6h0.6M555.6 83.7h0.6M543.2 96.1h0.6M566.9 84.3h0.6M543.9 107.5h0.6M546.1 85.3h0.6M544.8 86.5h0.6M549.6 89.7h0.6M549.2 90.0h0.6M564.7 89.7h0.6M549.2 105.3h0.6M566.0 93.8h0.6M553.3 106.6h0.6M561.6 100.2h0.6M559.7 102.1h0.6M561.6 101.5h0.6M560.9 102.1h0.6"/>
<path stroke="#6a75a0" stroke-width="0.6" d="M535.0 12.5h0.6M472.5 75.4h0.6M490.5 13.4h0.6M473.4 30.6h0.6M497.1 13.4h0.6M473.4 37.3h0.6M537.5 13.7h0.6M473.7 77.9h0.6M560.9 13.7h0.6M473.7 101.5h0.6M566.6 14.0h0.6M474.0 107.2h0.6M478.8 15.0h0.6M475.0 18.8h0.6M504.7 15.0h0.6M475.0 44.9h0.6M527.1 15.0h0.6M475.0 67.5h0.6M479.4 15.3h0.6M475.3 19.5h0.6M477.8 16.0h0.6M475.9 17.9h0.6M527.4 17.9h0.6M477.8 67.8h0.6M522.4 21.0h0.6M481.0 62.7h0.6M547.0 21.0h0.6M481.0 87.5h0.6M556.8 21.4h0.6M481.3 97.3h0.6M532.8 24.2h0.6M484.1 73.2h0.6M566.9 24.2h0.6M484.1 107.5h0.6M492.0 25.5h0.6M485.4 32.2h0.6M529.0 25.5h0.6M485.4 69.4h0.6M536.9 25.5h0.6M485.4 77.3h0.6M540.7 27.4h0.6M487.3 81.1h0.6M507.8 27.7h0.6M487.6 48.1h0.6M497.7 28.0h0.6M487.9 37.9h0.6M505.3 28.4h0.6M488.3 45.5h0.6M564.4 28.4h0.6M488.3 105.0h0.6M513.2 29.6h0.6M489.5 53.5h0.6M546.7 29.9h0.6M489.8 87.2h0.6M494.9 31.9h0.6M491.7 35.0h0.6M561.9 32.2h0.6M492.0 102.4h0.6M518.9 33.1h0.6M493.0 59.2h0.6M566.0 33.4h0.6M493.3 106.6h0.6M513.8 33.8h0.6M493.6 54.1h0.6M553.3 33.8h0.6M493.6 93.8h0.6M565.0 33.8h0.6M493.6 105.6h0.6M502.5 34.1h0.6M493.9 42.7h0.6M545.4 35.0h0.6M494.9 85.9h0.6M498.4 35.3h0.6M495.2 38.5h0.6M549.6 35.7h0.6M495.5 90.0h0.6M512.3 42.0h0.6M501.8 52.5h0.6M538.8 43.0h0.6M502.8 79.2h0.6M504.7 44.6h0.6M504.4 44.9h0.6M560.9 45.2h0.6M505.0 101.5h0.6M561.9 45.5h0.6M505.3 102.4h0.6M525.2 47.1h0.6M506.9 65.6h0.6M564.4 50.9h0.6M510.7 105.0h0.6M530.9 51.2h0.6M511.0 71.3h0.6M562.8 51.2h0.6M511.0 103.4h0.6M555.6 53.5h0.6M513.2 96.1h0.6M513.8 53.8h0.6M513.5 54.1h0.6M521.4 54.1h0.6M513.8 61.7h0.6M527.4 54.1h0.6M513.8 67.8h0.6M560.9 54.1h0.6M513.8 101.5h0.6M553.3 54.4h0.6M514.2 93.8h0.6M515.7 55.7h0.6M515.4 56.0h0.6M548.9 56.3h0.6M516.1 89.4h0.6M530.0 56.6h0.6M516.4 70.3h0.6M559.3 57.0h0.6M516.7 99.9h0.6M538.8 59.5h0.6M519.2 79.2h0.6M524.3 59.8h0.6M519.5 64.6h0.6M525.5 59.8h0.6M519.5 65.9h0.6M548.0 60.5h0.6M520.2 88.4h0.6M521.7 61.7h0.6M521.4 62.1h0.6M526.5 61.7h0.6M521.4 66.8h0.6M536.9 62.1h0.6M521.7 77.3h0.6M538.5 63.0h0.6M522.7 78.9h0.6M549.6 63.0h0.6M522.7 90.0h0.6M527.8 67.8h0.6M527.4 68.1h0.6M530.0 70.0h0.6M529.6 70.3h0.6M533.8 72.5h0.6M532.2 74.1h0.6M565.4 77.3h0.6M536.9 105.9h0.6M551.1 77.6h0.6M537.2 91.6h0.6M567.9 85.9h0.6M545.4 108.5h0.6M551.8 86.2h0.6M545.8 92.3h0.6M564.7 90.0h0.6M549.6 105.3h0.6M566.3 90.0h0.6M549.6 106.9h0.6M566.0 95.1h0.6M554.6 106.6h0.6M557.5 97.7h0.6M557.1 98.0h0.6M560.9 100.2h0.6M559.7 101.5h0.6M564.4 102.4h0.6M561.9 105.0h0.6M566.9 106.9h0.6M566.3 107.5h0.6M567.2 106.9h0.6M566.3 107.8h0.6"/>
<path stroke="#7a85a8" stroke-width="0.6" d="M542.3 13.1h0.6M473.1 82.7h0.6M473.7 13.4h0.6M473.4 13.7h0.6M483.8 14.0h0.6M474.0 23.9h0.6M519.5 16.0h0.6M475.9 59.8h0.6M527.4 16.0h0.6M475.9 67.8h0.6M527.8 16.0h0.6M475.9 68.1h0.6M522.4 16.6h0.6M476.6 62.7h0.6M508.8 16.9h0.6M476.9 49.0h0.6M478.5 17.2h0.6M477.2 18.5h0.6M503.7 17.9h0.6M477.8 43.9h0.6M514.8 17.9h0.6M477.8 55.1h0.6M544.8 18.8h0.6M478.8 85.3h0.6M494.9 19.5h0.6M479.4 35.0h0.6M545.4 19.5h0.6M479.4 85.9h0.6M480.0 19.8h0.6M479.7 20.1h0.6M500.9 21.0h0.6M481.0 41.1h0.6M489.5 22.6h0.6M482.6 29.6h0.6M499.0 25.5h0.6M485.4 39.2h0.6M500.9 25.5h0.6M485.4 41.1h0.6M501.2 25.5h0.6M485.4 41.4h0.6M548.9 26.1h0.6M486.0 89.4h0.6M510.7 28.4h0.6M488.3 50.9h0.6M488.9 28.7h0.6M488.6 29.0h0.6M514.2 33.8h0.6M493.6 54.4h0.6M495.2 35.0h0.6M494.9 35.3h0.6M517.6 35.0h0.6M494.9 57.9h0.6M551.8 35.3h0.6M495.2 92.3h0.6M530.3 36.0h0.6M495.8 70.6h0.6M566.3 39.8h0.6M499.6 106.9h0.6M501.2 41.1h0.6M500.9 41.4h0.6M529.0 41.4h0.6M501.2 69.4h0.6M549.9 41.7h0.6M501.5 90.3h0.6M562.8 42.0h0.6M501.8 103.4h0.6M509.7 43.0h0.6M502.8 50.0h0.6M539.1 43.0h0.6M502.8 79.5h0.6M527.4 43.9h0.6M503.7 67.8h0.6M507.2 44.3h0.6M504.1 47.4h0.6M512.0 44.6h0.6M504.4 52.2h0.6M527.1 44.6h0.6M504.4 67.5h0.6M512.0 44.9h0.6M504.7 52.2h0.6M530.6 45.2h0.6M505.0 71.0h0.6M521.4 46.8h0.6M506.6 61.7h0.6M535.7 46.8h0.6M506.6 76.0h0.6M522.4 50.0h0.6M509.7 62.7h0.6M531.2 50.3h0.6M510.1 71.6h0.6M562.2 50.9h0.6M510.7 102.7h0.6M564.1 50.9h0.6M510.7 104.7h0.6M540.1 52.2h0.6M512.0 80.5h0.6M515.1 54.1h0.6M513.8 55.4h0.6M527.8 54.1h0.6M513.8 68.1h0.6M535.7 54.1h0.6M513.8 76.0h0.6M566.0 54.1h0.6M513.8 106.6h0.6M554.6 54.4h0.6M514.2 95.1h0.6M566.0 54.4h0.6M514.2 106.6h0.6M548.9 56.6h0.6M516.4 89.4h0.6M562.8 57.0h0.6M516.7 103.4h0.6M539.1 59.5h0.6M519.2 79.5h0.6M567.2 62.1h0.6M521.7 107.8h0.6M524.9 64.0h0.6M523.6 65.2h0.6M528.7 64.3h0.6M524.0 69.0h0.6M544.8 67.5h0.6M527.1 85.3h0.6M528.4 68.4h0.6M528.1 68.7h0.6M537.5 71.0h0.6M530.6 77.9h0.6M531.9 71.9h0.6M531.5 72.2h0.6M532.2 72.2h0.6M531.9 72.5h0.6M567.2 73.2h0.6M532.8 107.8h0.6M543.9 73.5h0.6M533.1 84.3h0.6M539.1 77.0h0.6M536.6 79.5h0.6M539.1 79.2h0.6M538.8 79.5h0.6M553.3 80.2h0.6M539.8 93.8h0.6M559.7 85.9h0.6M545.4 100.2h0.6M550.5 89.1h0.6M548.6 91.0h0.6M557.5 89.1h0.6M548.6 98.0h0.6M561.2 91.3h0.6M550.8 101.8h0.6M566.9 91.3h0.6M550.8 107.5h0.6M554.9 94.8h0.6M554.3 95.4h0.6M566.0 100.2h0.6M559.7 106.6h0.6M566.3 105.9h0.6M565.4 106.9h0.6M567.2 107.5h0.6M566.9 107.8h0.6"/>
<path stroke="#6a6f9a" stroke-width="0.6" d="M567.6 12.5h0.6M472.5 108.2h0.6M477.2 13.1h0.6M473.1 17.2h0.6M478.5 13.1h0.6M473.1 18.5h0.6M490.5 13.7h0.6M473.7 30.6h0.6M497.1 13.7h0.6M473.7 37.3h0.6M530.6 13.7h0.6M473.7 71.0h0.6M513.8 14.0h0.6M474.0 54.1h0.6M503.7 16.0h0.6M475.9 43.9h0.6M537.5 16.0h0.6M475.9 77.9h0.6M526.5 16.6h0.6M476.6 66.8h0.6M546.1 18.8h0.6M478.8 86.5h0.6M495.2 19.5h0.6M479.4 35.3h0.6M498.4 19.5h0.6M479.4 38.5h0.6M517.3 19.8h0.6M479.7 57.6h0.6M513.5 20.1h0.6M480.0 53.8h0.6M517.3 20.1h0.6M480.0 57.6h0.6M555.6 20.1h0.6M480.0 96.1h0.6M556.8 20.7h0.6M480.7 97.3h0.6M502.8 21.0h0.6M481.0 43.0h0.6M512.0 22.6h0.6M482.6 52.2h0.6M567.9 22.6h0.6M482.6 108.5h0.6M513.8 23.9h0.6M483.8 54.1h0.6M521.4 23.9h0.6M483.8 61.7h0.6M484.8 24.2h0.6M484.1 24.9h0.6M521.7 24.2h0.6M484.1 62.1h0.6M499.9 24.5h0.6M484.5 40.1h0.6M521.7 24.9h0.6M484.8 62.1h0.6M526.5 25.5h0.6M485.4 66.8h0.6M507.2 25.8h0.6M485.7 47.4h0.6M510.1 25.8h0.6M485.7 50.3h0.6M543.2 26.8h0.6M486.7 83.7h0.6M498.1 28.0h0.6M487.9 38.2h0.6M567.9 29.6h0.6M489.5 108.5h0.6M512.6 30.3h0.6M490.2 52.8h0.6M495.2 31.9h0.6M491.7 35.3h0.6M517.6 31.9h0.6M491.7 57.9h0.6M499.0 32.2h0.6M492.0 39.2h0.6M498.4 32.5h0.6M492.4 38.5h0.6M553.3 33.4h0.6M493.3 93.8h0.6M565.0 33.4h0.6M493.3 105.6h0.6M539.8 33.8h0.6M493.6 80.2h0.6M545.1 33.8h0.6M493.6 85.6h0.6M554.6 33.8h0.6M493.6 95.1h0.6M545.8 35.0h0.6M494.9 86.2h0.6M565.7 35.3h0.6M495.2 106.2h0.6M499.9 36.6h0.6M496.5 40.1h0.6M522.4 37.6h0.6M497.4 62.7h0.6M559.3 42.0h0.6M501.8 99.9h0.6M559.3 42.3h0.6M502.2 99.9h0.6M506.9 43.0h0.6M502.8 47.1h0.6M547.0 43.0h0.6M502.8 87.5h0.6M504.4 44.3h0.6M504.1 44.6h0.6M507.2 44.6h0.6M504.4 47.4h0.6M540.1 44.6h0.6M504.4 80.5h0.6M549.2 44.6h0.6M504.4 89.7h0.6M527.1 44.9h0.6M504.7 67.5h0.6M559.7 45.2h0.6M505.0 100.2h0.6M531.2 47.4h0.6M507.2 71.6h0.6M538.8 50.0h0.6M509.7 79.2h0.6M561.9 50.9h0.6M510.7 102.4h0.6M513.5 53.5h0.6M513.2 53.8h0.6M567.9 53.5h0.6M513.2 108.5h0.6M559.7 54.1h0.6M513.8 100.2h0.6M545.4 55.4h0.6M515.1 85.9h0.6M559.7 55.4h0.6M515.1 100.2h0.6M567.9 55.4h0.6M515.1 108.5h0.6M529.6 56.6h0.6M516.4 70.0h0.6M523.0 59.8h0.6M519.5 63.3h0.6M547.3 61.7h0.6M521.4 87.8h0.6M532.8 62.1h0.6M521.7 73.2h0.6M566.9 62.1h0.6M521.7 107.5h0.6M565.0 66.2h0.6M525.9 105.6h0.6M529.0 66.8h0.6M526.5 69.4h0.6M536.9 66.8h0.6M526.5 77.3h0.6M566.9 66.8h0.6M526.5 107.5h0.6M563.8 71.3h0.6M530.9 104.3h0.6M543.9 73.2h0.6M532.8 84.3h0.6M566.3 73.2h0.6M532.8 106.9h0.6M566.9 73.2h0.6M532.8 107.5h0.6M566.9 73.5h0.6M533.1 107.5h0.6M538.2 74.1h0.6M533.8 78.6h0.6M545.4 76.0h0.6M535.7 85.9h0.6M559.7 76.0h0.6M535.7 100.2h0.6M566.6 76.0h0.6M535.7 107.2h0.6M567.9 76.0h0.6M535.7 108.5h0.6M538.8 77.0h0.6M536.6 79.2h0.6M547.3 78.3h0.6M537.9 87.8h0.6M559.0 79.5h0.6M539.1 99.6h0.6M566.0 85.9h0.6M545.4 106.6h0.6M557.5 91.0h0.6M550.5 98.0h0.6M554.9 95.1h0.6M554.6 95.4h0.6M565.0 101.8h0.6M561.2 105.6h0.6"/>
<path stroke="#9ab060" stroke-width="0.6" d="M494.9 12.8h0.6M472.8 35.0h0.6M530.6 13.4h0.6M473.4 71.0h0.6M535.7 14.0h0.6M474.0 76.0h0.6M544.8 15.0h0.6M475.0 85.3h0.6M514.8 16.0h0.6M475.9 55.1h0.6M485.4 16.6h0.6M476.6 25.5h0.6M501.2 16.6h0.6M476.6 41.4h0.6M502.8 16.6h0.6M476.6 43.0h0.6M547.0 16.6h0.6M476.6 87.5h0.6M568.8 16.6h0.6M476.6 109.4h0.6M537.5 17.9h0.6M477.8 77.9h0.6M518.6 18.2h0.6M478.1 58.9h0.6M513.8 19.5h0.6M479.4 54.1h0.6M551.8 19.5h0.6M479.4 92.3h0.6M555.6 19.8h0.6M479.7 96.1h0.6M499.3 20.7h0.6M480.7 39.5h0.6M499.3 21.4h0.6M481.3 39.5h0.6M567.2 24.2h0.6M484.1 107.8h0.6M496.5 24.5h0.6M484.5 36.6h0.6M496.8 24.5h0.6M484.5 36.9h0.6M566.3 24.9h0.6M484.8 106.9h0.6M566.9 24.9h0.6M484.8 107.5h0.6M522.4 25.5h0.6M485.4 62.7h0.6M531.2 25.8h0.6M485.7 71.6h0.6M551.4 25.8h0.6M485.7 91.9h0.6M513.5 26.8h0.6M486.7 53.8h0.6M487.6 27.1h0.6M487.0 27.7h0.6M507.8 27.1h0.6M487.0 48.1h0.6M494.9 32.5h0.6M492.4 35.0h0.6M493.6 33.4h0.6M493.3 33.8h0.6M525.9 33.4h0.6M493.3 66.2h0.6M554.3 33.8h0.6M493.6 94.8h0.6M554.9 33.8h0.6M493.6 95.4h0.6M566.0 33.8h0.6M493.6 106.6h0.6M498.4 35.0h0.6M494.9 38.5h0.6M522.7 35.7h0.6M495.5 63.0h0.6M496.8 36.6h0.6M496.5 36.9h0.6M537.5 37.3h0.6M497.1 77.9h0.6M498.1 37.9h0.6M497.7 38.2h0.6M545.8 38.5h0.6M498.4 86.2h0.6M556.8 39.5h0.6M499.3 97.3h0.6M566.9 39.8h0.6M499.6 107.5h0.6M502.2 42.0h0.6M501.8 42.3h0.6M522.1 42.0h0.6M501.8 62.4h0.6M516.7 42.3h0.6M502.2 57.0h0.6M522.1 42.3h0.6M502.2 62.4h0.6M519.5 43.9h0.6M503.7 59.8h0.6M525.5 43.9h0.6M503.7 65.9h0.6M510.1 44.3h0.6M504.1 50.3h0.6M564.7 44.9h0.6M504.7 105.3h0.6M532.5 45.2h0.6M505.0 72.9h0.6M547.3 46.8h0.6M506.6 87.8h0.6M538.8 47.1h0.6M506.9 79.2h0.6M509.4 49.3h0.6M509.1 49.7h0.6M529.0 50.9h0.6M510.7 69.4h0.6M543.2 53.8h0.6M513.5 83.7h0.6M555.6 53.8h0.6M513.5 96.1h0.6M545.4 54.1h0.6M513.8 85.9h0.6M561.6 54.1h0.6M513.8 102.1h0.6M567.9 54.1h0.6M513.8 108.5h0.6M545.1 54.4h0.6M514.2 85.6h0.6M527.8 55.4h0.6M515.1 68.1h0.6M536.6 59.5h0.6M519.2 77.0h0.6M538.2 61.4h0.6M521.1 78.6h0.6M535.7 61.7h0.6M521.4 76.0h0.6M566.9 61.7h0.6M521.4 107.5h0.6M526.5 62.1h0.6M521.7 66.8h0.6M535.7 62.1h0.6M521.7 76.0h0.6M566.3 62.1h0.6M521.7 106.9h0.6M535.7 68.1h0.6M527.8 76.0h0.6M559.7 68.1h0.6M527.8 100.2h0.6M566.0 68.1h0.6M527.8 106.6h0.6M562.5 73.2h0.6M532.8 103.1h0.6M562.5 73.5h0.6M533.1 103.1h0.6M534.4 74.5h0.6M534.1 74.8h0.6M547.3 80.8h0.6M540.4 87.8h0.6M565.4 90.0h0.6M549.6 105.9h0.6M557.1 91.0h0.6M550.5 97.7h0.6M553.0 93.2h0.6M552.7 93.5h0.6M554.6 93.8h0.6M553.3 95.1h0.6M562.2 102.4h0.6M561.9 102.7h0.6M564.4 102.7h0.6M562.2 105.0h0.6M567.9 106.6h0.6M566.0 108.5h0.6"/>
<path stroke="#4a9a8c" stroke-width="0.6" d="M475.3 12.8h0.6M472.8 15.3h0.6M479.4 12.8h0.6M472.8 19.5h0.6M537.5 13.4h0.6M473.4 77.9h0.6M521.4 14.0h0.6M474.0 61.7h0.6M481.0 16.6h0.6M476.6 21.0h0.6M513.8 22.6h0.6M482.6 54.1h0.6M535.7 23.9h0.6M483.8 76.0h0.6M499.6 24.2h0.6M484.1 39.8h0.6M550.8 24.2h0.6M484.1 91.3h0.6M488.6 25.2h0.6M485.1 28.7h0.6M488.9 25.2h0.6M485.1 29.0h0.6M568.8 25.5h0.6M485.4 109.4h0.6M515.1 26.8h0.6M486.7 55.4h0.6M561.9 28.4h0.6M488.3 102.4h0.6M513.5 29.6h0.6M489.5 53.8h0.6M510.4 31.2h0.6M491.1 50.6h0.6M550.8 33.4h0.6M493.3 91.3h0.6M554.6 33.4h0.6M493.3 95.1h0.6M561.2 33.4h0.6M493.3 101.8h0.6M508.5 34.4h0.6M494.3 48.7h0.6M517.6 35.3h0.6M495.2 57.9h0.6M545.8 35.3h0.6M495.2 86.2h0.6M538.5 35.7h0.6M495.5 78.9h0.6M549.2 35.7h0.6M495.5 89.7h0.6M565.4 35.7h0.6M495.5 105.9h0.6M566.3 35.7h0.6M495.5 106.9h0.6M566.9 35.7h0.6M495.5 107.5h0.6M551.8 38.5h0.6M498.4 92.3h0.6M529.0 39.2h0.6M499.0 69.4h0.6M521.7 39.8h0.6M499.6 62.1h0.6M532.8 39.8h0.6M499.6 73.2h0.6M500.6 40.4h0.6M500.3 40.8h0.6M522.4 41.1h0.6M500.9 62.7h0.6M526.5 41.4h0.6M501.2 66.8h0.6M525.2 43.0h0.6M502.8 65.6h0.6M523.0 43.9h0.6M503.7 63.3h0.6M512.0 44.3h0.6M504.1 52.2h0.6M531.2 44.3h0.6M504.1 71.6h0.6M551.4 44.3h0.6M504.1 91.9h0.6M564.7 44.3h0.6M504.1 105.3h0.6M521.7 46.8h0.6M506.6 62.1h0.6M509.7 47.1h0.6M506.9 50.0h0.6M522.4 47.1h0.6M506.9 62.7h0.6M510.1 47.4h0.6M507.2 50.3h0.6M551.4 47.4h0.6M507.2 91.9h0.6M543.2 53.5h0.6M513.2 83.7h0.6M535.7 55.4h0.6M515.1 76.0h0.6M555.6 55.4h0.6M515.1 96.1h0.6M529.6 56.3h0.6M516.1 70.0h0.6M558.1 59.5h0.6M519.2 98.6h0.6M532.2 61.4h0.6M521.1 72.5h0.6M547.0 62.7h0.6M522.4 87.5h0.6M524.3 63.3h0.6M523.0 64.6h0.6M545.4 68.1h0.6M527.8 85.9h0.6M567.9 68.1h0.6M527.8 108.5h0.6M548.9 70.0h0.6M529.6 89.4h0.6M532.5 71.0h0.6M530.6 72.9h0.6M551.4 71.6h0.6M531.2 91.9h0.6M532.2 71.9h0.6M531.5 72.5h0.6M538.2 72.2h0.6M531.9 78.6h0.6M559.7 72.9h0.6M532.5 100.2h0.6M560.9 72.9h0.6M532.5 101.5h0.6M533.1 73.2h0.6M532.8 73.5h0.6M567.6 75.4h0.6M535.0 108.2h0.6M566.0 76.0h0.6M535.7 106.6h0.6M559.0 77.0h0.6M536.6 99.6h0.6M540.4 78.3h0.6M537.9 80.8h0.6M558.1 79.5h0.6M539.1 98.6h0.6M567.9 80.5h0.6M540.1 108.5h0.6M541.0 81.1h0.6M540.7 81.4h0.6M568.5 84.9h0.6M544.5 109.1h0.6M554.6 94.8h0.6M554.3 95.1h0.6M567.9 100.2h0.6M559.7 108.5h0.6M564.1 102.4h0.6M561.9 104.7h0.6"/>
<circle cx="491.7" cy="31.5" r="0.6" fill="#3a8a8c"/>
<circle cx="513.8" cy="53.8" r="0.7" fill="#3a9a88"/>
<circle cx="520.8" cy="60.8" r="0.7" fill="#3a9a88"/>
<circle cx="535.3" cy="75.4" r="1.3" fill="#35a088"/>
<circle cx="548.6" cy="88.8" r="0.6" fill="#c8d840"/>
</g></svg>
<rect x="584" y="14.1" width="96.8" height="97.1" fill="#440154"/>
<svg x="584" y="14.1" width="96.8" height="97.1" overflow="hidden"><g transform="translate(-584 -14.1)">
<path stroke="#3b9a8c" stroke-width="0.6" d="M584 14.1L680.8 111.2"/>
<path stroke="#5f8a9a" stroke-width="0.6" d="M590.8 14.6h0.6M584.2 21.2h0.6M606.6 14.6h0.6M584.2 37.0h0.6M609.7 14.6h0.6M584.2 40.2h0.6M589.8 14.9h0.6M584.5 20.3h0.6M648.8 15.2h0.6M584.8 79.4h0.6M601.8 15.5h0.6M585.1 32.3h0.6M595.2 15.8h0.6M585.4 25.6h0.6M617.9 15.8h0.6M585.4 48.4h0.6M633.0 15.8h0.6M585.4 63.6h0.6M670.9 15.8h0.6M585.4 101.6h0.6M677.2 15.8h0.6M585.4 107.9h0.6M590.2 16.8h0.6M586.4 20.6h0.6M638.4 16.8h0.6M586.4 69.0h0.6M657.3 16.8h0.6M586.4 88.0h0.6M590.8 17.1h0.6M586.7 21.2h0.6M606.2 17.1h0.6M586.7 36.7h0.6M615.1 17.7h0.6M587.3 45.6h0.6M634.3 17.7h0.6M587.3 64.9h0.6M612.2 18.4h0.6M588.0 42.7h0.6M621.1 18.4h0.6M588.0 51.6h0.6M633.7 18.4h0.6M588.0 64.2h0.6M608.5 19.6h0.6M589.2 38.9h0.6M615.1 19.6h0.6M589.2 45.6h0.6M638.7 19.6h0.6M589.2 69.3h0.6M641.9 19.6h0.6M589.2 72.5h0.6M648.8 19.6h0.6M589.2 79.4h0.6M638.4 20.6h0.6M590.2 69.0h0.6M656.1 20.6h0.6M590.2 86.7h0.6M657.3 20.6h0.6M590.2 88.0h0.6M603.1 21.2h0.6M590.8 33.6h0.6M639.0 21.2h0.6M590.8 69.6h0.6M646.9 21.2h0.6M590.8 77.5h0.6M656.7 21.2h0.6M590.8 87.3h0.6M670.9 21.2h0.6M590.8 101.6h0.6M628.6 21.5h0.6M591.1 59.2h0.6M598.0 21.8h0.6M591.4 28.5h0.6M624.8 21.8h0.6M591.4 55.4h0.6M628.6 21.8h0.6M591.4 59.2h0.6M592.7 22.5h0.6M592.1 23.1h0.6M610.7 22.5h0.6M592.1 41.1h0.6M610.7 23.1h0.6M592.7 41.1h0.6M668.0 23.1h0.6M592.7 98.7h0.6M651.3 24.4h0.6M593.9 81.9h0.6M632.7 25.6h0.6M595.2 63.3h0.6M646.9 25.6h0.6M595.2 77.5h0.6M656.7 25.6h0.6M595.2 87.3h0.6M611.0 26.0h0.6M595.5 41.5h0.6M655.1 26.0h0.6M595.5 85.7h0.6M678.1 26.0h0.6M595.5 108.8h0.6M607.8 26.3h0.6M595.8 38.3h0.6M611.0 26.6h0.6M596.2 41.5h0.6M632.7 26.6h0.6M596.2 63.3h0.6M644.4 26.6h0.6M596.2 75.0h0.6M599.9 26.9h0.6M596.5 30.4h0.6M612.2 27.2h0.6M596.8 42.7h0.6M622.0 27.2h0.6M596.8 52.5h0.6M633.0 27.2h0.6M596.8 63.6h0.6M640.3 27.2h0.6M596.8 70.9h0.6M676.6 27.2h0.6M596.8 107.2h0.6M678.1 27.2h0.6M596.8 108.8h0.6M627.7 27.9h0.6M597.4 58.2h0.6M600.9 28.5h0.6M598.0 31.3h0.6M599.0 28.8h0.6M598.4 29.4h0.6M619.2 28.8h0.6M598.4 49.7h0.6M652.0 29.1h0.6M598.7 82.6h0.6M600.3 30.4h0.6M599.9 30.7h0.6M624.8 31.3h0.6M600.9 55.4h0.6M654.5 31.3h0.6M600.9 85.1h0.6M656.7 31.3h0.6M600.9 87.3h0.6M666.8 31.3h0.6M600.9 97.4h0.6M670.9 31.3h0.6M600.9 101.6h0.6M623.9 32.0h0.6M601.5 54.4h0.6M612.6 33.9h0.6M603.4 43.0h0.6M622.0 33.9h0.6M603.4 52.5h0.6M673.1 33.9h0.6M603.4 103.8h0.6M675.3 33.9h0.6M603.4 106.0h0.6M609.7 34.2h0.6M603.7 40.2h0.6M662.1 35.1h0.6M604.7 92.7h0.6M676.2 35.1h0.6M604.7 106.9h0.6M626.4 35.4h0.6M605.0 57.0h0.6M606.6 36.7h0.6M606.2 37.0h0.6M625.2 36.7h0.6M606.2 55.7h0.6M663.0 36.7h0.6M606.2 93.6h0.6M676.9 37.0h0.6M606.6 107.6h0.6M676.6 37.3h0.6M606.9 107.2h0.6M677.5 37.3h0.6M606.9 108.2h0.6M678.5 37.3h0.6M606.9 109.1h0.6M608.1 38.3h0.6M607.8 38.6h0.6M648.8 38.9h0.6M608.5 79.4h0.6M637.8 40.8h0.6M610.3 68.3h0.6M633.0 41.5h0.6M611.0 63.6h0.6M637.8 41.5h0.6M611.0 68.3h0.6M612.6 42.7h0.6M612.2 43.0h0.6M614.1 42.7h0.6M612.2 44.6h0.6M633.0 43.0h0.6M612.6 63.6h0.6M623.6 43.7h0.6M613.2 54.1h0.6M618.2 44.6h0.6M614.1 48.7h0.6M630.5 44.6h0.6M614.1 61.1h0.6M650.1 44.6h0.6M614.1 80.7h0.6M658.3 44.6h0.6M614.1 88.9h0.6M626.1 45.6h0.6M615.1 56.6h0.6M623.3 45.9h0.6M615.4 53.8h0.6M651.3 45.9h0.6M615.4 81.9h0.6M660.5 45.9h0.6M615.4 91.1h0.6M618.5 46.2h0.6M615.7 49.0h0.6M638.4 46.5h0.6M616.0 69.0h0.6M641.9 46.8h0.6M616.3 72.5h0.6M673.4 47.2h0.6M616.6 104.1h0.6M675.6 47.2h0.6M616.6 106.3h0.6M633.0 48.4h0.6M617.9 63.6h0.6M651.6 48.4h0.6M617.9 82.3h0.6M658.6 48.4h0.6M617.9 89.2h0.6M621.1 48.7h0.6M618.2 51.6h0.6M658.3 48.7h0.6M618.2 88.9h0.6M642.5 49.0h0.6M618.5 73.1h0.6M620.7 50.9h0.6M620.4 51.3h0.6M633.7 51.6h0.6M621.1 64.2h0.6M636.5 51.6h0.6M621.1 67.1h0.6M650.1 51.6h0.6M621.1 80.7h0.6M675.3 52.5h0.6M622.0 106.0h0.6M675.6 52.5h0.6M622.0 106.3h0.6M628.0 52.8h0.6M622.3 58.5h0.6M660.5 53.8h0.6M623.3 91.1h0.6M625.2 55.1h0.6M624.5 55.7h0.6M626.4 55.4h0.6M624.8 57.0h0.6M646.9 55.4h0.6M624.8 77.5h0.6M654.5 55.4h0.6M624.8 85.1h0.6M646.9 55.7h0.6M625.2 77.5h0.6M656.7 55.7h0.6M625.2 87.3h0.6M672.1 55.7h0.6M625.2 102.8h0.6M651.0 56.0h0.6M625.5 81.6h0.6M656.4 56.0h0.6M625.5 87.0h0.6M672.5 56.0h0.6M625.5 103.1h0.6M676.2 56.0h0.6M625.5 106.9h0.6M677.2 56.0h0.6M625.5 107.9h0.6M630.8 56.6h0.6M626.1 61.4h0.6M638.7 56.6h0.6M626.1 69.3h0.6M656.7 57.0h0.6M626.4 87.3h0.6M627.7 57.9h0.6M627.4 58.2h0.6M660.2 57.9h0.6M627.4 90.8h0.6M670.6 58.5h0.6M628.0 101.2h0.6M666.8 59.2h0.6M628.6 97.4h0.6M650.1 61.1h0.6M630.5 80.7h0.6M650.4 61.1h0.6M630.5 81.0h0.6M634.3 61.4h0.6M630.8 64.9h0.6M636.8 61.4h0.6M630.8 67.4h0.6M659.2 62.0h0.6M631.5 89.9h0.6M633.0 63.3h0.6M632.7 63.6h0.6M637.8 63.3h0.6M632.7 68.3h0.6M658.6 63.3h0.6M632.7 89.2h0.6M678.1 63.3h0.6M632.7 108.8h0.6M662.1 63.6h0.6M633.0 92.7h0.6M678.1 63.6h0.6M633.0 108.8h0.6M637.8 64.2h0.6M633.7 68.3h0.6M649.8 64.5h0.6M634.0 80.4h0.6M635.6 64.9h0.6M634.3 66.1h0.6M640.0 65.8h0.6M635.3 70.6h0.6M638.7 67.4h0.6M636.8 69.3h0.6M644.1 68.3h0.6M637.8 74.7h0.6M646.9 68.3h0.6M637.8 77.5h0.6M675.9 69.0h0.6M638.4 106.6h0.6M656.7 69.3h0.6M638.7 87.3h0.6M670.9 69.3h0.6M638.7 101.6h0.6M679.1 69.6h0.6M639.0 109.8h0.6M639.7 69.9h0.6M639.4 70.2h0.6M648.8 72.5h0.6M641.9 79.4h0.6M670.9 72.5h0.6M641.9 101.6h0.6M675.0 72.8h0.6M642.2 105.7h0.6M643.5 73.4h0.6M642.8 74.0h0.6M645.0 73.4h0.6M642.8 75.6h0.6M649.4 73.4h0.6M642.8 80.0h0.6M643.5 73.7h0.6M643.1 74.0h0.6M645.0 73.7h0.6M643.1 75.6h0.6M645.0 74.0h0.6M643.5 75.6h0.6M662.1 74.7h0.6M644.1 92.7h0.6M678.5 74.7h0.6M644.1 109.1h0.6M655.1 75.0h0.6M644.4 85.7h0.6M678.5 75.0h0.6M644.4 109.1h0.6M656.7 77.5h0.6M646.9 87.3h0.6M672.1 77.5h0.6M646.9 102.8h0.6M677.2 77.5h0.6M646.9 107.9h0.6M650.4 78.5h0.6M647.9 81.0h0.6M670.3 78.5h0.6M647.9 100.9h0.6M677.5 78.8h0.6M648.2 108.2h0.6M677.5 80.4h0.6M649.8 108.2h0.6M669.3 80.7h0.6M650.1 100.0h0.6M664.6 81.6h0.6M651.0 95.2h0.6M678.5 85.7h0.6M655.1 109.1h0.6M665.8 87.0h0.6M656.4 96.5h0.6M668.4 90.5h0.6M659.8 99.0h0.6M676.6 91.1h0.6M660.5 107.2h0.6M675.9 91.4h0.6M660.8 106.6h0.6M668.4 92.4h0.6M661.7 99.0h0.6M672.5 92.7h0.6M662.1 103.1h0.6M676.2 92.7h0.6M662.1 106.9h0.6M665.5 95.2h0.6M664.6 96.2h0.6M665.8 95.2h0.6M664.6 96.5h0.6M672.5 95.2h0.6M664.6 103.1h0.6M676.2 95.2h0.6M664.6 106.9h0.6M665.8 96.2h0.6M665.5 96.5h0.6M676.2 96.5h0.6M665.8 106.9h0.6M674.0 101.2h0.6M670.6 104.7h0.6M672.8 102.8h0.6M672.1 103.5h0.6M679.1 103.5h0.6M672.8 109.8h0.6M675.6 103.8h0.6M673.1 106.3h0.6M675.3 104.1h0.6M673.4 106.0h0.6M675.6 104.1h0.6M673.4 106.3h0.6M678.1 104.4h0.6M673.7 108.8h0.6M677.2 106.9h0.6M676.2 107.9h0.6M678.5 108.2h0.6M677.5 109.1h0.6"/>
<path stroke="#6a75a0" stroke-width="0.6" d="M606.2 14.6h0.6M584.2 36.7h0.6M656.7 14.6h0.6M584.2 87.3h0.6M663.0 14.6h0.6M584.2 93.6h0.6M588.6 14.9h0.6M584.5 19.0h0.6M589.2 15.2h0.6M584.8 19.6h0.6M589.2 15.5h0.6M585.1 19.6h0.6M608.5 15.5h0.6M585.1 38.9h0.6M641.9 15.5h0.6M585.1 72.5h0.6M643.8 15.5h0.6M585.1 74.4h0.6M656.7 17.1h0.6M586.7 87.3h0.6M636.8 17.7h0.6M587.3 67.4h0.6M648.8 17.7h0.6M587.3 79.4h0.6M603.4 18.4h0.6M588.0 33.9h0.6M637.8 18.4h0.6M588.0 68.3h0.6M630.8 19.6h0.6M589.2 61.4h0.6M677.2 21.2h0.6M590.8 107.9h0.6M654.5 21.8h0.6M591.4 85.1h0.6M618.2 22.8h0.6M592.4 48.7h0.6M600.9 24.4h0.6M593.9 31.3h0.6M670.9 24.4h0.6M593.9 101.6h0.6M625.2 25.6h0.6M595.2 55.7h0.6M604.7 26.0h0.6M595.5 35.1h0.6M637.8 26.0h0.6M595.5 68.3h0.6M644.1 26.0h0.6M595.5 74.7h0.6M662.1 26.0h0.6M595.5 92.7h0.6M644.1 26.6h0.6M596.2 74.7h0.6M655.1 26.6h0.6M596.2 85.7h0.6M677.5 26.6h0.6M596.2 108.2h0.6M648.2 27.2h0.6M596.8 78.8h0.6M615.7 27.5h0.6M597.1 46.2h0.6M640.9 27.9h0.6M597.4 71.5h0.6M621.7 32.9h0.6M602.5 52.2h0.6M609.7 33.6h0.6M603.1 40.2h0.6M637.8 33.9h0.6M603.4 68.3h0.6M673.4 33.9h0.6M603.4 104.1h0.6M665.5 35.1h0.6M604.7 96.2h0.6M656.4 35.4h0.6M605.0 87.0h0.6M662.1 35.4h0.6M605.0 92.7h0.6M664.6 35.4h0.6M605.0 95.2h0.6M676.2 35.4h0.6M605.0 106.9h0.6M628.9 36.7h0.6M606.2 59.5h0.6M676.9 36.7h0.6M606.2 107.6h0.6M611.0 37.3h0.6M606.9 41.5h0.6M634.0 37.3h0.6M606.9 64.5h0.6M648.2 37.3h0.6M606.9 78.8h0.6M660.5 37.3h0.6M606.9 91.1h0.6M675.9 37.3h0.6M606.9 106.6h0.6M609.4 39.6h0.6M609.1 39.9h0.6M628.9 40.2h0.6M609.7 59.5h0.6M656.7 40.2h0.6M609.7 87.3h0.6M622.0 40.8h0.6M610.3 52.5h0.6M637.8 42.7h0.6M612.2 68.3h0.6M658.3 42.7h0.6M612.2 88.9h0.6M613.5 43.7h0.6M613.2 44.0h0.6M628.0 43.7h0.6M613.2 58.5h0.6M633.4 44.0h0.6M613.5 63.9h0.6M670.6 44.0h0.6M613.5 101.2h0.6M674.0 44.0h0.6M613.5 104.7h0.6M636.5 44.6h0.6M614.1 67.1h0.6M647.9 44.6h0.6M614.1 78.5h0.6M650.4 44.6h0.6M614.1 81.0h0.6M635.6 45.6h0.6M615.1 66.1h0.6M675.9 45.9h0.6M615.4 106.6h0.6M618.5 46.5h0.6M616.0 49.0h0.6M675.9 49.0h0.6M618.5 106.6h0.6M642.5 51.9h0.6M621.4 73.1h0.6M662.7 51.9h0.6M621.4 93.3h0.6M673.1 52.5h0.6M622.0 103.8h0.6M638.4 53.8h0.6M623.3 69.0h0.6M679.1 53.8h0.6M623.3 109.8h0.6M628.0 54.1h0.6M623.6 58.5h0.6M670.9 55.4h0.6M624.8 101.6h0.6M633.0 55.7h0.6M625.2 63.6h0.6M672.8 55.7h0.6M625.2 103.5h0.6M679.1 55.7h0.6M625.2 109.8h0.6M639.0 56.6h0.6M626.1 69.6h0.6M654.5 57.0h0.6M626.4 85.1h0.6M672.1 57.0h0.6M626.4 102.8h0.6M640.9 57.9h0.6M627.4 71.5h0.6M669.3 61.1h0.6M630.5 100.0h0.6M678.5 63.3h0.6M632.7 109.1h0.6M676.6 64.5h0.6M634.0 107.2h0.6M678.1 68.3h0.6M637.8 108.8h0.6M646.9 69.6h0.6M639.0 77.5h0.6M672.8 69.6h0.6M639.0 103.5h0.6M648.2 70.9h0.6M640.3 78.8h0.6M641.2 71.5h0.6M640.9 71.8h0.6M660.2 71.5h0.6M640.9 90.8h0.6M660.2 71.8h0.6M641.2 90.8h0.6M672.1 74.4h0.6M643.8 102.8h0.6M672.8 74.4h0.6M643.8 103.5h0.6M673.7 74.7h0.6M644.1 104.4h0.6M673.7 75.0h0.6M644.4 104.4h0.6M672.8 77.5h0.6M646.9 103.5h0.6M672.1 79.4h0.6M648.8 102.8h0.6M676.6 80.4h0.6M649.8 107.2h0.6M670.3 80.7h0.6M650.1 100.9h0.6M678.1 85.7h0.6M655.1 108.8h0.6M661.7 90.5h0.6M659.8 92.4h0.6M677.5 91.4h0.6M660.8 108.2h0.6M677.2 95.2h0.6M664.6 107.9h0.6M677.2 101.6h0.6M670.9 107.9h0.6M679.1 102.8h0.6M672.1 109.8h0.6M676.2 103.1h0.6M672.5 106.9h0.6M678.1 103.1h0.6M672.5 108.8h0.6M678.1 107.2h0.6M676.6 108.8h0.6"/>
<path stroke="#7a85a8" stroke-width="0.6" d="M678.8 14.3h0.6M583.9 109.5h0.6M657.0 14.6h0.6M584.2 87.6h0.6M653.5 14.9h0.6M584.5 84.2h0.6M585.1 15.2h0.6M584.8 15.5h0.6M608.5 15.2h0.6M584.8 38.9h0.6M672.1 15.2h0.6M584.8 102.8h0.6M616.3 15.5h0.6M585.1 46.8h0.6M648.8 15.5h0.6M585.1 79.4h0.6M670.9 15.5h0.6M585.1 101.6h0.6M626.4 15.8h0.6M585.4 57.0h0.6M679.1 15.8h0.6M585.4 109.8h0.6M626.1 17.7h0.6M587.3 56.6h0.6M630.8 17.7h0.6M587.3 61.4h0.6M638.7 17.7h0.6M587.3 69.3h0.6M592.4 18.4h0.6M588.0 22.8h0.6M596.8 18.4h0.6M588.0 27.2h0.6M608.8 18.4h0.6M588.0 39.2h0.6M610.3 18.4h0.6M588.0 40.8h0.6M612.6 18.4h0.6M588.0 43.0h0.6M618.2 18.4h0.6M588.0 48.7h0.6M633.0 18.4h0.6M588.0 63.6h0.6M648.2 18.4h0.6M588.0 78.8h0.6M650.1 18.4h0.6M588.0 80.7h0.6M658.3 18.4h0.6M588.0 88.9h0.6M636.8 19.6h0.6M589.2 67.4h0.6M639.0 19.6h0.6M589.2 69.6h0.6M653.5 20.3h0.6M589.8 84.2h0.6M603.7 21.2h0.6M590.8 34.2h0.6M606.2 21.2h0.6M590.8 36.7h0.6M609.7 21.2h0.6M590.8 40.2h0.6M626.4 21.2h0.6M590.8 57.0h0.6M628.9 21.2h0.6M590.8 59.5h0.6M657.0 21.2h0.6M590.8 87.6h0.6M663.0 21.2h0.6M590.8 93.6h0.6M679.1 21.2h0.6M590.8 109.8h0.6M624.8 21.5h0.6M591.1 55.4h0.6M668.0 22.5h0.6M592.1 98.7h0.6M596.8 22.8h0.6M592.4 27.2h0.6M612.2 22.8h0.6M592.4 42.7h0.6M612.6 22.8h0.6M592.4 43.0h0.6M614.1 22.8h0.6M592.4 44.6h0.6M621.1 22.8h0.6M592.4 51.6h0.6M658.3 22.8h0.6M592.4 88.9h0.6M615.7 24.4h0.6M593.9 46.2h0.6M623.3 24.4h0.6M593.9 53.8h0.6M639.0 24.4h0.6M593.9 69.6h0.6M656.7 24.4h0.6M593.9 87.3h0.6M679.1 24.4h0.6M593.9 109.8h0.6M626.4 25.6h0.6M595.2 57.0h0.6M670.9 25.6h0.6M595.2 101.6h0.6M606.9 26.0h0.6M595.5 37.3h0.6M672.5 26.0h0.6M595.5 103.1h0.6M677.5 26.0h0.6M595.5 108.2h0.6M608.1 26.3h0.6M595.8 38.6h0.6M606.9 26.6h0.6M596.2 37.3h0.6M678.5 26.6h0.6M596.2 109.1h0.6M603.4 27.2h0.6M596.8 33.9h0.6M614.1 27.2h0.6M596.8 44.6h0.6M632.7 27.2h0.6M596.8 63.3h0.6M680.0 27.2h0.6M596.8 110.7h0.6M615.4 27.5h0.6M597.1 45.9h0.6M621.4 27.5h0.6M597.1 51.9h0.6M642.5 27.5h0.6M597.1 73.1h0.6M662.7 27.5h0.6M597.1 93.3h0.6M660.2 27.9h0.6M597.4 90.8h0.6M624.8 28.5h0.6M598.0 55.4h0.6M619.2 29.4h0.6M599.0 49.7h0.6M603.4 30.1h0.6M599.6 33.9h0.6M673.4 30.1h0.6M599.6 104.1h0.6M625.2 31.3h0.6M600.9 55.7h0.6M626.4 31.3h0.6M600.9 57.0h0.6M639.0 31.3h0.6M600.9 69.6h0.6M648.8 32.3h0.6M601.8 79.4h0.6M606.2 33.6h0.6M603.1 36.7h0.6M663.0 33.6h0.6M603.1 93.6h0.6M676.9 33.6h0.6M603.1 107.6h0.6M680.0 33.9h0.6M603.4 110.7h0.6M606.6 34.2h0.6M603.7 37.0h0.6M657.0 34.2h0.6M603.7 87.6h0.6M605.0 35.1h0.6M604.7 35.4h0.6M625.2 35.1h0.6M604.7 55.7h0.6M637.1 35.1h0.6M604.7 67.7h0.6M664.6 35.1h0.6M604.7 95.2h0.6M665.8 35.1h0.6M604.7 96.5h0.6M625.2 35.4h0.6M605.0 55.7h0.6M625.5 35.4h0.6M605.0 56.0h0.6M639.0 35.4h0.6M605.0 69.6h0.6M646.9 35.4h0.6M605.0 77.5h0.6M656.7 35.4h0.6M605.0 87.3h0.6M613.8 35.8h0.6M605.3 44.3h0.6M609.7 37.0h0.6M606.6 40.2h0.6M656.7 37.0h0.6M606.6 87.3h0.6M657.0 37.0h0.6M606.6 87.6h0.6M660.8 37.3h0.6M606.9 91.4h0.6M611.3 38.3h0.6M607.8 41.8h0.6M611.3 38.6h0.6M608.1 41.8h0.6M641.9 38.9h0.6M608.5 72.5h0.6M612.6 39.2h0.6M608.8 43.0h0.6M614.1 39.2h0.6M608.8 44.6h0.6M633.7 39.2h0.6M608.8 64.2h0.6M658.3 39.2h0.6M608.8 88.9h0.6M612.6 40.8h0.6M610.3 43.0h0.6M640.3 40.8h0.6M610.3 70.9h0.6M644.4 41.5h0.6M611.0 75.0h0.6M662.1 41.5h0.6M611.0 92.7h0.6M677.5 41.5h0.6M611.0 108.2h0.6M678.5 41.5h0.6M611.0 109.1h0.6M633.7 43.0h0.6M612.6 64.2h0.6M637.8 43.0h0.6M612.6 68.3h0.6M680.0 43.0h0.6M612.6 110.7h0.6M661.1 43.4h0.6M612.9 91.7h0.6M642.2 43.7h0.6M613.2 72.8h0.6M670.6 43.7h0.6M613.2 101.2h0.6M674.0 43.7h0.6M613.2 104.7h0.6M623.6 44.0h0.6M613.5 54.1h0.6M634.3 45.6h0.6M615.1 64.9h0.6M636.8 45.6h0.6M615.1 67.4h0.6M648.8 45.6h0.6M615.1 79.4h0.6M615.7 45.9h0.6M615.4 46.2h0.6M616.0 45.9h0.6M615.4 46.5h0.6M618.5 45.9h0.6M615.4 49.0h0.6M621.4 45.9h0.6M615.4 51.9h0.6M642.5 45.9h0.6M615.4 73.1h0.6M662.7 45.9h0.6M615.4 93.3h0.6M616.0 46.2h0.6M615.7 46.5h0.6M660.5 46.2h0.6M615.7 91.1h0.6M660.8 46.2h0.6M615.7 91.4h0.6M675.9 46.2h0.6M615.7 106.6h0.6M651.3 46.5h0.6M616.0 81.9h0.6M672.8 46.8h0.6M616.3 103.5h0.6M622.0 47.2h0.6M616.6 52.5h0.6M649.1 48.4h0.6M617.9 79.7h0.6M678.1 48.4h0.6M617.9 108.8h0.6M633.7 48.7h0.6M618.2 64.2h0.6M650.4 48.7h0.6M618.2 81.0h0.6M621.4 49.0h0.6M618.5 51.9h0.6M658.3 51.6h0.6M621.1 88.9h0.6M673.4 52.5h0.6M622.0 104.1h0.6M633.4 52.8h0.6M622.3 63.9h0.6M642.2 52.8h0.6M622.3 72.8h0.6M674.0 52.8h0.6M622.3 104.7h0.6M675.0 52.8h0.6M622.3 105.7h0.6M670.6 54.1h0.6M623.6 101.2h0.6M666.8 55.1h0.6M624.5 97.4h0.6M625.2 55.4h0.6M624.8 55.7h0.6M639.0 55.4h0.6M624.8 69.6h0.6M656.7 55.4h0.6M624.8 87.3h0.6M679.1 55.4h0.6M624.8 109.8h0.6M639.0 55.7h0.6M625.2 69.6h0.6M651.3 55.7h0.6M625.2 81.9h0.6M664.6 55.7h0.6M625.2 95.2h0.6M666.8 55.7h0.6M625.2 97.4h0.6M677.8 55.7h0.6M625.2 108.5h0.6M665.8 56.0h0.6M625.5 96.5h0.6M666.2 56.0h0.6M625.5 96.8h0.6M632.7 57.0h0.6M626.4 63.3h0.6M639.0 57.0h0.6M626.4 69.6h0.6M646.9 57.0h0.6M626.4 77.5h0.6M666.8 57.0h0.6M626.4 97.4h0.6M670.9 57.0h0.6M626.4 101.6h0.6M677.2 57.0h0.6M626.4 107.9h0.6M642.2 58.5h0.6M628.0 72.8h0.6M657.0 59.5h0.6M628.9 87.6h0.6M663.0 59.5h0.6M628.9 93.6h0.6M676.9 59.5h0.6M628.9 107.6h0.6M635.6 61.4h0.6M630.8 66.1h0.6M638.7 61.4h0.6M630.8 69.3h0.6M643.1 63.0h0.6M632.4 73.7h0.6M643.5 63.0h0.6M632.4 74.0h0.6M645.0 63.0h0.6M632.4 75.6h0.6M639.0 63.3h0.6M632.7 69.6h0.6M644.1 63.3h0.6M632.7 74.7h0.6M648.2 63.3h0.6M632.7 78.8h0.6M649.1 63.3h0.6M632.7 79.7h0.6M656.7 63.3h0.6M632.7 87.3h0.6M670.9 63.3h0.6M632.7 101.6h0.6M677.2 63.3h0.6M632.7 107.9h0.6M677.8 63.3h0.6M632.7 108.5h0.6M679.1 63.3h0.6M632.7 109.8h0.6M648.2 63.6h0.6M633.0 78.8h0.6M674.0 63.9h0.6M633.4 104.7h0.6M648.2 64.5h0.6M634.0 78.8h0.6M660.5 64.5h0.6M634.0 91.1h0.6M678.1 64.5h0.6M634.0 108.8h0.6M650.1 67.1h0.6M636.5 80.7h0.6M640.3 68.3h0.6M637.8 70.9h0.6M676.6 68.3h0.6M637.8 107.2h0.6M656.1 69.0h0.6M638.4 86.7h0.6M648.8 69.3h0.6M638.7 79.4h0.6M677.2 69.3h0.6M638.7 107.9h0.6M656.7 69.6h0.6M639.0 87.3h0.6M673.1 70.9h0.6M640.3 103.8h0.6M675.3 70.9h0.6M640.3 106.0h0.6M672.1 72.5h0.6M641.9 102.8h0.6M662.7 73.1h0.6M642.5 93.3h0.6M643.1 73.4h0.6M642.8 73.7h0.6M644.4 74.7h0.6M644.1 75.0h0.6M677.5 74.7h0.6M644.1 108.2h0.6M645.7 75.9h0.6M645.3 76.3h0.6M658.6 77.5h0.6M646.9 89.2h0.6M670.9 77.5h0.6M646.9 101.6h0.6M678.1 77.5h0.6M646.9 108.8h0.6M676.6 78.8h0.6M648.2 107.2h0.6M678.1 78.8h0.6M648.2 108.8h0.6M680.0 78.8h0.6M648.2 110.7h0.6M669.3 81.0h0.6M650.4 100.0h0.6M652.3 82.6h0.6M652.0 82.9h0.6M664.6 87.0h0.6M656.4 95.2h0.6M663.0 87.3h0.6M656.7 93.6h0.6M672.8 87.3h0.6M656.7 103.5h0.6M679.1 87.3h0.6M656.7 109.8h0.6M668.7 92.4h0.6M661.7 99.3h0.6M677.5 92.7h0.6M662.1 108.2h0.6M678.1 92.7h0.6M662.1 108.8h0.6M664.3 94.6h0.6M663.9 94.9h0.6M666.2 95.2h0.6M664.6 96.8h0.6M666.2 96.2h0.6M665.5 96.8h0.6M677.2 96.8h0.6M666.2 107.9h0.6M672.8 101.6h0.6M670.9 103.5h0.6M679.1 101.6h0.6M670.9 109.8h0.6M677.2 102.8h0.6M672.1 107.9h0.6M673.4 103.8h0.6M673.1 104.1h0.6M675.6 106.0h0.6M675.3 106.3h0.6M678.1 108.2h0.6M677.5 108.8h0.6"/>
<path stroke="#6a6f9a" stroke-width="0.6" d="M586.7 14.6h0.6M584.2 17.1h0.6M625.2 14.6h0.6M584.2 55.7h0.6M632.7 15.8h0.6M585.4 63.3h0.6M677.8 15.8h0.6M585.4 108.5h0.6M615.7 16.8h0.6M586.4 46.2h0.6M625.2 17.7h0.6M587.3 55.7h0.6M639.0 17.7h0.6M587.3 69.6h0.6M614.1 18.4h0.6M588.0 44.6h0.6M589.8 19.0h0.6M588.6 20.3h0.6M626.1 19.6h0.6M589.2 56.6h0.6M606.6 21.2h0.6M590.8 37.0h0.6M624.5 21.8h0.6M591.4 55.1h0.6M633.7 22.8h0.6M592.4 64.2h0.6M650.1 22.8h0.6M592.4 80.7h0.6M646.9 24.4h0.6M593.9 77.5h0.6M617.9 25.6h0.6M595.2 48.4h0.6M633.0 25.6h0.6M595.2 63.6h0.6M644.4 26.0h0.6M595.5 75.0h0.6M633.0 26.6h0.6M596.2 63.6h0.6M612.6 27.2h0.6M596.8 43.0h0.6M658.3 27.2h0.6M596.8 88.9h0.6M618.5 27.5h0.6M597.1 49.0h0.6M654.5 28.5h0.6M598.0 85.1h0.6M666.8 28.5h0.6M598.0 97.4h0.6M652.3 29.1h0.6M598.7 82.9h0.6M609.4 29.8h0.6M599.3 39.9h0.6M616.6 30.1h0.6M599.6 47.2h0.6M622.0 30.1h0.6M599.6 52.5h0.6M646.9 31.3h0.6M600.9 77.5h0.6M657.0 33.6h0.6M603.1 87.6h0.6M610.3 33.9h0.6M603.4 40.8h0.6M663.0 34.2h0.6M603.7 93.6h0.6M630.2 34.8h0.6M604.4 60.8h0.6M625.5 35.1h0.6M604.7 56.0h0.6M656.4 35.1h0.6M604.7 87.0h0.6M651.0 35.4h0.6M605.0 81.6h0.6M677.2 35.4h0.6M605.0 107.9h0.6M609.7 36.7h0.6M606.2 40.2h0.6M656.7 36.7h0.6M606.2 87.3h0.6M628.9 37.0h0.6M606.6 59.5h0.6M633.0 37.3h0.6M606.9 63.6h0.6M649.8 37.3h0.6M606.9 80.4h0.6M678.1 37.3h0.6M606.9 108.8h0.6M657.0 40.2h0.6M609.7 87.6h0.6M668.0 41.1h0.6M610.7 98.7h0.6M632.7 41.5h0.6M611.0 63.3h0.6M648.2 43.0h0.6M612.6 78.8h0.6M633.4 43.7h0.6M613.2 63.9h0.6M630.8 45.6h0.6M615.1 61.4h0.6M638.7 45.6h0.6M615.1 69.3h0.6M639.0 45.6h0.6M615.1 69.6h0.6M638.4 45.9h0.6M615.4 69.0h0.6M623.3 46.2h0.6M615.7 53.8h0.6M660.5 46.5h0.6M616.0 91.1h0.6M643.8 46.8h0.6M616.3 74.4h0.6M670.9 46.8h0.6M616.3 101.6h0.6M632.7 48.4h0.6M617.9 63.3h0.6M637.8 48.4h0.6M617.9 68.3h0.6M646.9 48.4h0.6M617.9 77.5h0.6M662.7 49.0h0.6M618.5 93.3h0.6M650.4 51.6h0.6M621.1 81.0h0.6M654.5 55.1h0.6M624.5 85.1h0.6M654.5 55.7h0.6M625.2 85.1h0.6M664.6 56.0h0.6M625.5 95.2h0.6M665.5 56.0h0.6M625.5 96.2h0.6M636.8 56.6h0.6M626.1 67.4h0.6M672.8 57.0h0.6M626.4 103.5h0.6M641.2 57.9h0.6M627.4 71.8h0.6M670.3 61.1h0.6M630.5 100.9h0.6M677.5 63.3h0.6M632.7 108.2h0.6M644.4 63.6h0.6M633.0 75.0h0.6M646.9 63.6h0.6M633.0 77.5h0.6M658.6 63.6h0.6M633.0 89.2h0.6M678.5 63.6h0.6M633.0 109.1h0.6M670.6 63.9h0.6M633.4 101.2h0.6M636.5 64.2h0.6M633.7 67.1h0.6M650.4 64.2h0.6M633.7 81.0h0.6M658.3 64.2h0.6M633.7 88.9h0.6M680.0 64.2h0.6M633.7 110.7h0.6M677.5 64.5h0.6M634.0 108.2h0.6M636.8 64.9h0.6M634.3 67.4h0.6M636.2 65.5h0.6M634.9 66.8h0.6M677.5 68.3h0.6M637.8 108.2h0.6M639.0 69.3h0.6M638.7 69.6h0.6M677.2 69.6h0.6M639.0 107.9h0.6M649.4 75.6h0.6M645.0 80.0h0.6M677.8 77.5h0.6M646.9 108.5h0.6M679.1 77.5h0.6M646.9 109.8h0.6M650.1 78.5h0.6M647.9 80.7h0.6M662.4 79.1h0.6M648.5 93.0h0.6M651.6 79.7h0.6M649.1 82.3h0.6M650.4 80.7h0.6M650.1 81.0h0.6M675.9 81.9h0.6M651.3 106.6h0.6M677.2 87.3h0.6M656.7 107.9h0.6M675.9 91.1h0.6M660.5 106.6h0.6M676.6 91.4h0.6M660.8 107.2h0.6M678.1 91.4h0.6M660.8 108.8h0.6M678.5 92.7h0.6M662.1 109.1h0.6M672.5 96.5h0.6M665.8 103.1h0.6M677.2 96.5h0.6M665.8 107.9h0.6M672.1 101.6h0.6M670.9 102.8h0.6M677.5 107.2h0.6M676.6 108.2h0.6M678.5 108.8h0.6M678.1 109.1h0.6"/>
<path stroke="#4a9a8c" stroke-width="0.6" d="M646.3 14.3h0.6M583.9 76.9h0.6M639.0 15.8h0.6M585.4 69.6h0.6M646.9 15.8h0.6M585.4 77.5h0.6M616.0 16.8h0.6M586.4 46.5h0.6M620.1 18.7h0.6M588.3 50.6h0.6M666.8 21.5h0.6M591.1 97.4h0.6M608.8 22.8h0.6M592.4 39.2h0.6M625.2 24.4h0.6M593.9 55.7h0.6M677.2 24.4h0.6M593.9 107.9h0.6M639.0 25.6h0.6M595.2 69.6h0.6M677.2 25.6h0.6M595.2 107.9h0.6M677.8 25.6h0.6M595.2 108.5h0.6M596.2 26.0h0.6M595.5 26.6h0.6M632.7 26.0h0.6M595.5 63.3h0.6M633.0 26.0h0.6M595.5 63.6h0.6M678.5 26.0h0.6M595.5 109.1h0.6M662.1 26.6h0.6M596.2 92.7h0.6M678.1 26.6h0.6M596.2 108.8h0.6M600.3 26.9h0.6M596.5 30.7h0.6M637.8 27.2h0.6M596.8 68.3h0.6M624.5 28.5h0.6M598.0 55.1h0.6M626.4 28.5h0.6M598.0 57.0h0.6M609.1 29.8h0.6M599.3 39.6h0.6M673.1 30.1h0.6M599.6 103.8h0.6M675.3 30.1h0.6M599.6 106.0h0.6M624.5 31.3h0.6M600.9 55.1h0.6M651.3 31.3h0.6M600.9 81.9h0.6M677.2 31.3h0.6M600.9 107.9h0.6M679.1 31.3h0.6M600.9 109.8h0.6M608.5 32.3h0.6M601.8 38.9h0.6M606.6 33.6h0.6M603.1 37.0h0.6M606.2 34.2h0.6M603.7 36.7h0.6M666.2 35.1h0.6M604.7 96.8h0.6M672.5 35.1h0.6M604.7 103.1h0.6M677.2 35.1h0.6M604.7 107.9h0.6M637.1 35.4h0.6M605.0 67.7h0.6M665.8 35.4h0.6M605.0 96.5h0.6M679.1 35.4h0.6M605.0 109.8h0.6M637.8 37.3h0.6M606.9 68.3h0.6M644.1 37.3h0.6M606.9 74.7h0.6M641.6 37.7h0.6M607.2 72.1h0.6M672.1 38.9h0.6M608.5 102.8h0.6M663.0 40.2h0.6M609.7 93.6h0.6M680.0 40.8h0.6M610.3 110.7h0.6M655.1 41.5h0.6M611.0 85.7h0.6M633.7 42.7h0.6M612.2 64.2h0.6M640.3 42.7h0.6M612.2 70.9h0.6M628.0 44.0h0.6M613.5 58.5h0.6M621.4 46.2h0.6M615.7 51.9h0.6M638.4 46.2h0.6M615.7 69.0h0.6M651.3 46.2h0.6M615.7 81.9h0.6M623.3 46.5h0.6M616.0 53.8h0.6M656.1 46.5h0.6M616.0 86.7h0.6M625.2 46.8h0.6M616.3 55.7h0.6M673.1 47.2h0.6M616.6 103.8h0.6M623.3 49.0h0.6M618.5 53.8h0.6M651.3 53.8h0.6M623.3 81.9h0.6M624.8 55.1h0.6M624.5 55.4h0.6M666.8 55.4h0.6M624.8 97.4h0.6M626.4 55.7h0.6M625.2 57.0h0.6M638.7 55.7h0.6M625.2 69.3h0.6M665.8 55.7h0.6M625.2 96.5h0.6M677.2 55.7h0.6M625.2 107.9h0.6M638.7 57.0h0.6M626.4 69.3h0.6M679.1 57.0h0.6M626.4 109.8h0.6M627.1 57.3h0.6M626.7 57.6h0.6M640.9 58.2h0.6M627.7 71.5h0.6M641.2 58.2h0.6M627.7 71.8h0.6M675.0 58.5h0.6M628.0 105.7h0.6M646.9 63.3h0.6M632.7 77.5h0.6M637.8 63.6h0.6M633.0 68.3h0.6M640.3 63.6h0.6M633.0 70.9h0.6M644.1 63.6h0.6M633.0 74.7h0.6M650.1 64.2h0.6M633.7 80.7h0.6M660.8 64.5h0.6M634.0 91.4h0.6M648.2 68.3h0.6M637.8 78.8h0.6M679.1 69.3h0.6M638.7 109.8h0.6M670.9 69.6h0.6M639.0 101.6h0.6M680.0 70.9h0.6M640.3 110.7h0.6M643.8 72.5h0.6M641.9 74.4h0.6M672.8 72.5h0.6M641.9 103.5h0.6M674.0 72.8h0.6M642.2 104.7h0.6M649.4 73.7h0.6M643.1 80.0h0.6M649.4 74.0h0.6M643.5 80.0h0.6M670.9 74.4h0.6M643.8 101.6h0.6M655.1 74.7h0.6M644.1 85.7h0.6M677.5 75.0h0.6M644.4 108.2h0.6M678.1 75.0h0.6M644.4 108.8h0.6M678.8 76.9h0.6M646.3 109.5h0.6M669.3 78.5h0.6M647.9 100.0h0.6M660.8 78.8h0.6M648.2 91.4h0.6M658.6 79.7h0.6M649.1 89.2h0.6M660.8 80.4h0.6M649.8 91.4h0.6M658.3 80.7h0.6M650.1 88.9h0.6M679.1 81.9h0.6M651.3 109.8h0.6M673.7 85.7h0.6M655.1 104.4h0.6M677.5 85.7h0.6M655.1 108.2h0.6M679.7 86.4h0.6M655.7 110.4h0.6M677.2 87.0h0.6M656.4 107.9h0.6M657.0 87.3h0.6M656.7 87.6h0.6M672.1 87.3h0.6M656.7 102.8h0.6M660.8 91.1h0.6M660.5 91.4h0.6M677.2 96.2h0.6M665.5 107.9h0.6M677.2 103.5h0.6M672.8 107.9h0.6M675.3 103.8h0.6M673.1 106.0h0.6"/>
<path stroke="#9ab060" stroke-width="0.6" d="M601.8 15.2h0.6M584.8 32.3h0.6M641.9 15.2h0.6M584.8 72.5h0.6M587.3 15.5h0.6M585.1 17.7h0.6M672.1 15.5h0.6M585.1 102.8h0.6M625.2 15.8h0.6M585.4 55.7h0.6M656.7 15.8h0.6M585.4 87.3h0.6M656.1 16.8h0.6M586.4 86.7h0.6M589.2 17.7h0.6M587.3 19.6h0.6M640.3 18.4h0.6M588.0 70.9h0.6M680.0 18.4h0.6M588.0 110.7h0.6M653.5 19.0h0.6M588.6 84.2h0.6M629.9 20.0h0.6M589.5 60.4h0.6M625.2 21.2h0.6M590.8 55.7h0.6M591.4 21.5h0.6M591.1 21.8h0.6M626.4 21.8h0.6M591.4 57.0h0.6M666.8 21.8h0.6M591.4 97.4h0.6M624.5 24.4h0.6M593.9 55.1h0.6M626.4 24.4h0.6M593.9 57.0h0.6M679.1 25.6h0.6M595.2 109.8h0.6M611.3 26.3h0.6M595.8 41.8h0.6M637.8 26.6h0.6M596.2 68.3h0.6M610.3 27.2h0.6M596.8 40.8h0.6M633.7 27.2h0.6M596.8 64.2h0.6M627.4 27.9h0.6M597.4 57.9h0.6M625.2 28.5h0.6M598.0 55.7h0.6M675.6 30.1h0.6M599.6 106.3h0.6M658.0 31.7h0.6M601.2 88.6h0.6M641.9 32.3h0.6M601.8 72.5h0.6M628.9 33.6h0.6M603.1 59.5h0.6M640.3 33.9h0.6M603.4 70.9h0.6M675.6 33.9h0.6M603.4 106.3h0.6M651.0 35.1h0.6M604.7 81.6h0.6M665.5 35.4h0.6M605.0 96.2h0.6M666.2 35.4h0.6M605.0 96.8h0.6M670.9 35.4h0.6M605.0 101.6h0.6M672.5 35.4h0.6M605.0 103.1h0.6M619.8 36.1h0.6M605.6 50.3h0.6M657.0 36.7h0.6M606.2 87.6h0.6M663.0 37.0h0.6M606.6 93.6h0.6M612.2 39.2h0.6M608.8 42.7h0.6M644.1 41.5h0.6M611.0 74.7h0.6M678.1 41.5h0.6M611.0 108.8h0.6M611.9 42.1h0.6M611.6 42.4h0.6M680.0 42.7h0.6M612.2 110.7h0.6M640.3 43.0h0.6M612.6 70.9h0.6M622.3 43.7h0.6M613.2 52.8h0.6M622.3 44.0h0.6M613.5 52.8h0.6M621.1 44.6h0.6M614.1 51.6h0.6M633.7 44.6h0.6M614.1 64.2h0.6M642.5 46.2h0.6M615.7 73.1h0.6M662.7 46.2h0.6M615.7 93.3h0.6M675.9 46.5h0.6M616.0 106.6h0.6M672.1 46.8h0.6M616.3 102.8h0.6M625.2 48.4h0.6M617.9 55.7h0.6M636.5 48.7h0.6M618.2 67.1h0.6M650.1 48.7h0.6M618.2 80.7h0.6M640.3 52.5h0.6M622.0 70.9h0.6M670.6 52.8h0.6M622.3 101.2h0.6M675.9 53.8h0.6M623.3 106.6h0.6M633.4 54.1h0.6M623.6 63.9h0.6M626.4 55.1h0.6M624.5 57.0h0.6M679.1 55.1h0.6M624.5 109.8h0.6M677.2 55.4h0.6M624.8 107.9h0.6M625.5 55.7h0.6M625.2 56.0h0.6M632.7 55.7h0.6M625.2 63.3h0.6M641.9 55.7h0.6M625.2 72.5h0.6M643.8 55.7h0.6M625.2 74.4h0.6M670.9 55.7h0.6M625.2 101.6h0.6M648.8 56.6h0.6M626.1 79.4h0.6M660.2 58.2h0.6M627.7 90.8h0.6M633.4 58.5h0.6M628.0 63.9h0.6M674.0 58.5h0.6M628.0 104.7h0.6M647.9 61.1h0.6M630.5 78.5h0.6M649.4 63.0h0.6M632.4 80.0h0.6M655.1 63.6h0.6M633.0 85.7h0.6M676.6 63.6h0.6M633.0 107.2h0.6M677.5 63.6h0.6M633.0 108.2h0.6M680.0 63.6h0.6M633.0 110.7h0.6M640.3 64.2h0.6M633.7 70.9h0.6M672.5 67.7h0.6M637.1 103.1h0.6M676.2 67.7h0.6M637.1 106.9h0.6M678.5 68.3h0.6M637.8 109.1h0.6M680.0 68.3h0.6M637.8 110.7h0.6M646.9 69.3h0.6M638.7 77.5h0.6M672.1 69.6h0.6M639.0 102.8h0.6M678.1 74.7h0.6M644.1 108.8h0.6M670.3 81.0h0.6M650.4 100.9h0.6M665.8 81.6h0.6M651.0 96.5h0.6M677.2 81.6h0.6M651.0 107.9h0.6M658.6 82.3h0.6M651.6 89.2h0.6M666.8 85.1h0.6M654.5 97.4h0.6M657.3 86.7h0.6M656.1 88.0h0.6M670.9 87.3h0.6M656.7 101.6h0.6M663.0 87.6h0.6M657.0 93.6h0.6M668.7 90.5h0.6M659.8 99.3h0.6M677.5 91.1h0.6M660.5 108.2h0.6M666.2 96.5h0.6M665.8 96.8h0.6M668.7 99.0h0.6M668.4 99.3h0.6M677.2 103.1h0.6M672.5 107.9h0.6M679.1 107.9h0.6M677.2 109.8h0.6"/>
<circle cx="603.1" cy="33.2" r="0.7" fill="#3a8a8c"/>
<circle cx="625.1" cy="55.4" r="0.8" fill="#3a9a88"/>
<circle cx="631.5" cy="61.7" r="0.7" fill="#3a9a88"/>
<circle cx="644.1" cy="74.4" r="1.5" fill="#35a088"/>
<circle cx="651.9" cy="82.3" r="0.7" fill="#d8e030"/>
</g></svg>
<rect x="12.8" y="134.4" width="98" height="97.6" fill="#440154"/>
<path fill="#fde725" d="M12.8 134.4h1.53v1.52h-1.53zM15.86 134.4h1.53v1.52h-1.53zM14.33 135.93h1.53v1.52h-1.53zM23.52 135.93h1.53v1.52h-1.53zM28.11 135.93h1.53v1.52h-1.53zM12.8 137.45h1.53v1.52h-1.53zM15.86 137.45h1.53v1.52h-1.53zM23.52 137.45h1.53v1.52h-1.53zM28.11 137.45h1.53v1.52h-1.53zM17.39 138.97h1.53v1.52h-1.53zM38.83 138.97h1.53v1.52h-1.53zM103.14 138.97h3.06v1.52h-3.06zM18.93 140.5h1.53v1.52h-1.53zM20.46 142.03h3.06v1.52h-3.06zM43.42 142.03h1.53v1.52h-1.53zM20.46 143.55h3.06v1.52h-3.06zM44.96 143.55h1.53v1.52h-1.53zM66.39 143.55h1.53v1.52h-1.53zM87.83 143.55h3.06v1.52h-3.06zM95.49 143.55h3.06v1.52h-3.06zM14.33 145.08h3.06v1.52h-3.06zM23.52 145.08h4.59v1.52h-4.59zM40.36 145.08h3.06v1.52h-3.06zM95.49 145.08h3.06v1.52h-3.06zM109.27 145.08h1.53v1.52h-1.53zM23.52 146.6h3.06v1.52h-3.06zM43.42 146.6h3.06v1.52h-3.06zM78.64 146.6h1.53v1.52h-1.53zM87.83 146.6h1.53v1.52h-1.53zM23.52 148.12h1.53v1.52h-1.53zM26.58 148.12h1.53v1.52h-1.53zM29.64 148.12h1.53v1.52h-1.53zM35.77 148.12h1.53v1.52h-1.53zM77.11 148.12h1.53v1.52h-1.53zM81.71 148.12h1.53v1.52h-1.53zM14.33 149.65h3.06v1.52h-3.06zM28.11 149.65h1.53v1.52h-1.53zM35.77 149.65h1.53v1.52h-1.53zM40.36 149.65h1.53v1.52h-1.53zM97.02 149.65h1.53v1.52h-1.53zM107.74 149.65h1.53v1.52h-1.53zM26.58 151.18h1.53v1.52h-1.53zM29.64 151.18h1.53v1.52h-1.53zM31.18 152.7h1.53v1.52h-1.53zM34.24 152.7h1.53v1.52h-1.53zM32.71 154.22h1.53v1.52h-1.53zM31.18 155.75h1.53v1.52h-1.53zM34.24 155.75h1.53v1.52h-1.53zM37.3 155.75h3.06v1.52h-3.06zM106.21 155.75h1.53v1.52h-1.53zM26.58 157.28h3.06v1.52h-3.06zM35.77 157.28h3.06v1.52h-3.06zM75.58 157.28h1.53v1.52h-1.53zM78.64 157.28h1.53v1.52h-1.53zM81.71 157.28h1.53v1.52h-1.53zM34.24 158.8h4.59v1.52h-4.59zM106.21 158.8h1.53v1.52h-1.53zM17.39 160.32h1.53v1.52h-1.53zM34.24 160.32h1.53v1.52h-1.53zM38.83 160.32h1.53v1.52h-1.53zM103.14 160.32h1.53v1.52h-1.53zM106.21 160.32h1.53v1.52h-1.53zM23.52 161.85h1.53v1.52h-1.53zM28.11 161.85h1.53v1.52h-1.53zM40.36 161.85h1.53v1.52h-1.53zM23.52 163.38h1.53v1.52h-1.53zM41.89 163.38h1.53v1.52h-1.53zM89.36 163.38h1.53v1.52h-1.53zM20.46 164.9h1.53v1.52h-1.53zM25.05 164.9h1.53v1.52h-1.53zM43.42 164.9h1.53v1.52h-1.53zM66.39 164.9h1.53v1.52h-1.53zM72.52 164.9h1.53v1.52h-1.53zM84.77 164.9h1.53v1.52h-1.53zM87.83 164.9h1.53v1.52h-1.53zM95.49 164.9h3.06v1.52h-3.06zM21.99 166.43h1.53v1.52h-1.53zM25.05 166.43h1.53v1.52h-1.53zM44.96 166.43h1.53v1.52h-1.53zM66.39 166.43h1.53v1.52h-1.53zM46.49 167.95h1.53v1.52h-1.53zM66.39 167.95h1.53v1.52h-1.53zM48.02 169.47h1.53v1.52h-1.53zM54.14 169.47h1.53v1.52h-1.53zM66.39 169.47h1.53v1.52h-1.53zM49.55 171h1.53v1.52h-1.53zM66.39 171h1.53v1.52h-1.53zM74.05 171h1.53v1.52h-1.53zM51.08 172.53h1.53v1.52h-1.53zM52.61 174.05h1.53v1.52h-1.53zM58.74 174.05h1.53v1.52h-1.53zM63.33 174.05h1.53v1.52h-1.53zM48.02 175.57h1.53v1.52h-1.53zM54.14 175.57h1.53v1.52h-1.53zM61.8 175.57h1.53v1.52h-1.53zM64.86 175.57h1.53v1.52h-1.53zM55.67 177.1h1.53v1.52h-1.53zM63.33 177.1h1.53v1.52h-1.53zM57.21 178.62h1.53v1.52h-1.53zM61.8 178.62h1.53v1.52h-1.53zM64.86 178.62h1.53v1.52h-1.53zM103.14 178.62h3.06v1.52h-3.06zM52.61 180.15h1.53v1.52h-1.53zM58.74 180.15h3.06v1.52h-3.06zM63.33 180.15h1.53v1.52h-1.53zM58.74 181.68h3.06v1.52h-3.06zM54.14 183.2h1.53v1.52h-1.53zM57.21 183.2h1.53v1.52h-1.53zM61.8 183.2h1.53v1.52h-1.53zM52.61 184.72h1.53v1.52h-1.53zM55.67 184.72h1.53v1.52h-1.53zM58.74 184.72h1.53v1.52h-1.53zM63.33 184.72h1.53v1.52h-1.53zM54.14 186.25h1.53v1.52h-1.53zM57.21 186.25h1.53v1.52h-1.53zM64.86 186.25h1.53v1.52h-1.53zM87.83 186.25h1.53v1.52h-1.53zM103.14 186.25h3.06v1.52h-3.06zM109.27 186.25h1.53v1.52h-1.53zM21.99 187.78h1.53v1.52h-1.53zM43.42 187.78h7.66v1.52h-7.66zM66.39 187.78h1.53v1.52h-1.53zM67.92 189.3h1.53v1.52h-1.53zM83.24 189.3h1.53v1.52h-1.53zM69.46 190.82h1.53v1.52h-1.53zM70.99 192.35h1.53v1.52h-1.53zM74.05 192.35h1.53v1.52h-1.53zM43.42 193.88h1.53v1.52h-1.53zM72.52 193.88h1.53v1.52h-1.53zM80.17 193.88h1.53v1.52h-1.53zM49.55 195.4h1.53v1.52h-1.53zM70.99 195.4h1.53v1.52h-1.53zM74.05 195.4h1.53v1.52h-1.53zM35.77 196.93h1.53v1.52h-1.53zM75.58 196.93h1.53v1.52h-1.53zM78.64 196.93h1.53v1.52h-1.53zM98.55 196.93h1.53v1.52h-1.53zM26.58 198.45h1.53v1.52h-1.53zM77.11 198.45h3.06v1.52h-3.06zM100.08 198.45h1.53v1.52h-1.53zM25.05 199.98h1.53v1.52h-1.53zM35.77 199.98h1.53v1.52h-1.53zM75.58 199.98h4.59v1.52h-4.59zM87.83 199.98h1.53v1.52h-1.53zM72.52 201.5h1.53v1.52h-1.53zM80.17 201.5h1.53v1.52h-1.53zM26.58 203.03h1.53v1.52h-1.53zM35.77 203.03h1.53v1.52h-1.53zM81.71 203.03h1.53v1.52h-1.53zM87.83 203.03h1.53v1.52h-1.53zM67.92 204.55h1.53v1.52h-1.53zM83.24 204.55h1.53v1.52h-1.53zM92.42 204.55h1.53v1.52h-1.53zM43.42 206.07h1.53v1.52h-1.53zM84.77 206.07h3.06v1.52h-3.06zM84.77 207.6h3.06v1.52h-3.06zM21.99 209.12h1.53v1.52h-1.53zM25.05 209.12h1.53v1.52h-1.53zM43.42 209.12h1.53v1.52h-1.53zM64.86 209.12h1.53v1.52h-1.53zM78.64 209.12h1.53v1.52h-1.53zM81.71 209.12h1.53v1.52h-1.53zM87.83 209.12h1.53v1.52h-1.53zM21.99 210.65h1.53v1.52h-1.53zM41.89 210.65h1.53v1.52h-1.53zM89.36 210.65h1.53v1.52h-1.53zM90.89 212.18h1.53v1.52h-1.53zM83.24 213.7h1.53v1.52h-1.53zM92.42 213.7h1.53v1.52h-1.53zM100.08 213.7h1.53v1.52h-1.53zM93.96 215.22h1.53v1.52h-1.53zM21.99 216.75h3.06v1.52h-3.06zM43.42 216.75h1.53v1.52h-1.53zM95.49 216.75h1.53v1.52h-1.53zM21.99 218.28h3.06v1.52h-3.06zM28.11 218.28h1.53v1.52h-1.53zM43.42 218.28h1.53v1.52h-1.53zM97.02 218.28h1.53v1.52h-1.53zM75.58 219.8h1.53v1.52h-1.53zM98.55 219.8h1.53v1.52h-1.53zM77.11 221.32h1.53v1.52h-1.53zM92.42 221.32h1.53v1.52h-1.53zM100.08 221.32h1.53v1.52h-1.53zM101.61 222.85h1.53v1.52h-1.53zM17.39 224.38h1.53v1.52h-1.53zM38.83 224.38h1.53v1.52h-1.53zM57.21 224.38h1.53v1.52h-1.53zM64.86 224.38h1.53v1.52h-1.53zM103.14 224.38h3.06v1.52h-3.06zM109.27 224.38h1.53v1.52h-1.53zM17.39 225.9h1.53v1.52h-1.53zM57.21 225.9h1.53v1.52h-1.53zM64.86 225.9h1.53v1.52h-1.53zM103.14 225.9h3.06v1.52h-3.06zM109.27 225.9h1.53v1.52h-1.53zM34.24 227.43h1.53v1.52h-1.53zM37.3 227.43h3.06v1.52h-3.06zM106.21 227.43h3.06v1.52h-3.06zM28.11 228.95h1.53v1.52h-1.53zM106.21 228.95h3.06v1.52h-3.06zM23.52 230.47h1.53v1.52h-1.53zM64.86 230.47h1.53v1.52h-1.53zM103.14 230.47h3.06v1.52h-3.06zM109.27 230.47h1.53v1.52h-1.53z"/>
<rect x="359.7" y="135.1" width="98.2" height="97" fill="#440154"/>
<svg x="359.7" y="135.1" width="98.2" height="97" overflow="hidden"><g transform="translate(-359.7 -135.1)">
<path stroke="#2f9a8c" stroke-width="0.8" d="M359.7 135.1L457.9 232.1"/>
<path stroke="#6a75a0" stroke-width="1" d="M383.4 146.1h1M370.3 159.0h1M398.7 141.5h1M365.7 174.1h1M405.6 143.1h1M367.3 180.9h1M401.8 155.2h1M379.5 177.2h1M441.7 152.2h1M376.5 216.6h1M443.2 156.7h1M381.1 218.1h1M448.6 166.5h1M391.0 223.4h1M438.6 175.6h1M400.2 213.5h1M427.9 185.5h1M410.2 202.9h1M431.7 187.8h1M412.5 206.7h1M443.2 184.7h1M409.5 218.1h1"/>
<path stroke="#7a85a8" stroke-width="1" d="M387.2 137.8h1M361.9 162.8h1M376.5 141.5h1M365.7 152.2h1M390.3 156.7h1M381.1 165.8h1M394.1 159.7h1M384.1 169.6h1M384.1 143.1h1M367.3 159.7h1M384.9 155.9h1M380.3 160.5h1M396.4 155.2h1M379.5 171.9h1M398.7 160.5h1M384.9 174.1h1M453.2 142.3h1M366.5 227.9h1M429.4 152.9h1M377.2 204.4h1M444.0 149.1h1M373.4 218.8h1M420.2 158.2h1M382.6 195.3h1M444.0 162.0h1M386.4 218.8h1M448.6 162.0h1M386.4 223.4h1M445.5 165.8h1M390.3 220.4h1M452.4 165.0h1M389.5 227.2h1M447.0 173.4h1M397.9 221.9h1M414.8 175.6h1M400.2 190.0h1M444.0 188.5h1M413.3 218.8h1M450.1 199.1h1M424.0 224.9h1M456.2 196.9h1M421.7 231.0h1"/>
<path stroke="#5f8a9a" stroke-width="1" d="M384.9 142.3h1M366.5 160.5h1M397.2 153.7h1M378.0 172.6h1M395.6 155.9h1M380.3 171.1h1M397.2 167.3h1M391.8 172.6h1M397.2 136.2h1M360.4 172.6h1M438.6 137.0h1M361.1 213.5h1M411.0 152.9h1M377.2 186.3h1M427.9 178.7h1M403.3 202.9h1M452.4 178.7h1M403.3 227.2h1M456.2 177.2h1M401.8 231.0h1M415.6 182.5h1M407.1 190.8h1M439.4 195.3h1M420.2 214.3h1M449.3 201.4h1M426.3 224.1h1M430.9 191.6h1M416.4 206.0h1M457.0 216.6h1M441.7 231.7h1"/>
<path stroke="#8a8fb0" stroke-width="1" d="M388.7 137.8h1M361.9 164.3h1M395.6 137.0h1M361.1 171.1h1M378.0 140.8h1M365.0 153.7h1M384.1 145.3h1M369.6 159.7h1M394.1 149.9h1M374.2 169.6h1M445.5 137.8h1M361.9 220.4h1M453.2 143.8h1M368.0 227.9h1M410.2 145.3h1M369.6 185.5h1M418.7 149.1h1M373.4 193.8h1M449.3 156.7h1M381.1 224.1h1M411.0 165.8h1M390.3 186.3h1M428.6 171.9h1M396.4 203.7h1M450.1 182.5h1M407.1 224.9h1M444.0 182.5h1M407.1 218.8h1M441.7 204.4h1M429.4 216.6h1M456.2 198.4h1M423.3 231.0h1M453.9 196.1h1M421.0 228.7h1"/>
<path stroke="#3aa08c" stroke-width="1" d="M388.7 162.8h1M387.2 164.3h1M389.5 162.0h1M386.4 165.0h1M416.4 190.0h1M414.8 191.6h1M417.1 189.3h1M414.1 192.3h1M422.5 196.1h1M421.0 197.6h1M423.3 195.3h1M420.2 198.4h1M447.8 221.1h1M446.3 222.6h1M448.6 220.4h1M445.5 223.4h1M432.5 207.5h1M433.2 207.5h1M434.0 207.5h1M432.5 208.2h1M433.2 208.2h1M434.0 208.2h1M432.5 209.0h1M433.2 209.0h1M434.0 209.0h1M421.7 196.1h1M421.0 196.9h1M422.5 196.9h1M421.7 197.6h1"/>
<path stroke="#c8d840" stroke-width="1" d="M401.8 177.2h1M413.3 188.5h1M430.2 205.2h1"/>
</g></svg>
<rect x="474" y="136.5" width="95.9" height="97.2" fill="#440154"/>
<path fill="#fde725" d="M474 136.5h1.25v1.26h-1.25zM502.65 136.5h1.25v1.26h-1.25zM475.25 137.76h1.25v1.26h-1.25zM476.49 139.02h1.25v1.26h-1.25zM477.74 140.29h1.25v1.26h-1.25zM521.33 140.29h1.25v1.26h-1.25zM538.76 140.29h1.25v1.26h-1.25zM478.98 141.55h1.25v1.26h-1.25zM482.72 141.55h1.25v1.26h-1.25zM511.36 141.55h1.25v1.26h-1.25zM480.23 142.81h1.25v1.26h-1.25zM481.47 144.07h2.49v1.26h-2.49zM478.98 145.34h1.25v1.26h-1.25zM481.47 145.34h2.49v1.26h-2.49zM483.96 146.6h1.25v1.26h-1.25zM497.66 146.6h1.25v1.26h-1.25zM501.4 146.6h1.25v1.26h-1.25zM516.35 146.6h1.25v1.26h-1.25zM485.21 147.86h1.25v1.26h-1.25zM486.45 149.12h1.25v1.26h-1.25zM487.7 150.39h1.25v1.26h-1.25zM488.95 151.65h1.25v1.26h-1.25zM528.8 151.65h1.25v1.26h-1.25zM490.19 152.91h1.25v1.26h-1.25zM516.35 152.91h1.25v1.26h-1.25zM559.94 152.91h1.25v1.26h-1.25zM491.44 154.17h1.25v1.26h-1.25zM530.05 154.17h1.25v1.26h-1.25zM544.99 154.17h2.49v1.26h-2.49zM492.68 155.44h1.25v1.26h-1.25zM516.35 155.44h1.25v1.26h-1.25zM493.93 156.7h1.25v1.26h-1.25zM497.66 156.7h1.25v1.26h-1.25zM544.99 156.7h1.25v1.26h-1.25zM561.18 156.7h1.25v1.26h-1.25zM495.17 157.96h1.25v1.26h-1.25zM507.63 157.96h1.25v1.26h-1.25zM536.27 157.96h1.25v1.26h-1.25zM496.42 159.22h1.25v1.26h-1.25zM503.89 159.22h1.25v1.26h-1.25zM506.38 159.22h1.25v1.26h-1.25zM483.96 160.48h1.25v1.26h-1.25zM493.93 160.48h1.25v1.26h-1.25zM497.66 160.48h1.25v1.26h-1.25zM502.65 160.48h1.25v1.26h-1.25zM507.63 160.48h1.25v1.26h-1.25zM511.36 160.48h1.25v1.26h-1.25zM516.35 160.48h1.25v1.26h-1.25zM518.84 160.48h1.25v1.26h-1.25zM561.18 160.48h1.25v1.26h-1.25zM498.91 161.75h1.25v1.26h-1.25zM506.38 161.75h1.25v1.26h-1.25zM516.35 161.75h1.25v1.26h-1.25zM543.75 161.75h1.25v1.26h-1.25zM500.15 163.01h1.25v1.26h-1.25zM559.94 163.01h1.25v1.26h-1.25zM483.96 164.27h1.25v1.26h-1.25zM501.4 164.27h1.25v1.26h-1.25zM516.35 164.27h1.25v1.26h-1.25zM554.95 164.27h1.25v1.26h-1.25zM558.69 164.27h1.25v1.26h-1.25zM567.41 164.27h1.25v1.26h-1.25zM474 165.53h1.25v1.26h-1.25zM497.66 165.53h1.25v1.26h-1.25zM502.65 165.53h1.25v1.26h-1.25zM506.38 165.53h1.25v1.26h-1.25zM511.36 165.53h1.25v1.26h-1.25zM513.85 165.53h1.25v1.26h-1.25zM530.05 165.53h1.25v1.26h-1.25zM496.42 166.8h1.25v1.26h-1.25zM503.89 166.8h1.25v1.26h-1.25zM508.87 166.8h1.25v1.26h-1.25zM516.35 166.8h1.25v1.26h-1.25zM505.14 168.06h1.25v1.26h-1.25zM554.95 168.06h1.25v1.26h-1.25zM557.45 168.06h2.49v1.26h-2.49zM567.41 168.06h1.25v1.26h-1.25zM496.42 169.32h1.25v1.26h-1.25zM498.91 169.32h1.25v1.26h-1.25zM502.65 169.32h1.25v1.26h-1.25zM506.38 169.32h1.25v1.26h-1.25zM512.61 169.32h1.25v1.26h-1.25zM527.55 169.32h1.25v1.26h-1.25zM561.18 169.32h2.49v1.26h-2.49zM495.17 170.58h1.25v1.26h-1.25zM497.66 170.58h1.25v1.26h-1.25zM507.63 170.58h1.25v1.26h-1.25zM503.89 171.85h1.25v1.26h-1.25zM508.87 171.85h1.25v1.26h-1.25zM512.61 171.85h1.25v1.26h-1.25zM515.1 171.85h1.25v1.26h-1.25zM510.12 173.11h1.25v1.26h-1.25zM513.85 173.11h1.25v1.26h-1.25zM478.98 174.37h1.25v1.26h-1.25zM497.66 174.37h1.25v1.26h-1.25zM502.65 174.37h1.25v1.26h-1.25zM511.36 174.37h1.25v1.26h-1.25zM506.38 175.63h1.25v1.26h-1.25zM508.87 175.63h1.25v1.26h-1.25zM512.61 175.63h1.25v1.26h-1.25zM502.65 176.89h1.25v1.26h-1.25zM510.12 176.89h1.25v1.26h-1.25zM513.85 176.89h1.25v1.26h-1.25zM508.87 178.16h1.25v1.26h-1.25zM515.1 178.16h1.25v1.26h-1.25zM567.41 178.16h1.25v1.26h-1.25zM483.96 179.42h1.25v1.26h-1.25zM490.19 179.42h1.25v1.26h-1.25zM492.68 179.42h1.25v1.26h-1.25zM497.66 179.42h2.49v1.26h-2.49zM501.4 179.42h1.25v1.26h-1.25zM503.89 179.42h1.25v1.26h-1.25zM516.35 179.42h1.25v1.26h-1.25zM542.5 179.42h1.25v1.26h-1.25zM559.94 179.42h1.25v1.26h-1.25zM517.59 180.68h1.25v1.26h-1.25zM497.66 181.94h1.25v1.26h-1.25zM518.84 181.94h1.25v1.26h-1.25zM556.2 181.94h1.25v1.26h-1.25zM520.08 183.21h1.25v1.26h-1.25zM537.52 183.21h1.25v1.26h-1.25zM554.95 183.21h1.25v1.26h-1.25zM477.74 184.47h1.25v1.26h-1.25zM521.33 184.47h1.25v1.26h-1.25zM536.27 184.47h1.25v1.26h-1.25zM540.01 184.47h2.49v1.26h-2.49zM564.92 184.47h1.25v1.26h-1.25zM522.57 185.73h1.25v1.26h-1.25zM563.67 185.73h1.25v1.26h-1.25zM523.82 186.99h1.25v1.26h-1.25zM525.06 188.26h1.25v1.26h-1.25zM530.05 188.26h1.25v1.26h-1.25zM533.78 188.26h1.25v1.26h-1.25zM526.31 189.52h1.25v1.26h-1.25zM528.8 189.52h1.25v1.26h-1.25zM532.54 189.52h1.25v1.26h-1.25zM506.38 190.78h1.25v1.26h-1.25zM527.55 190.78h2.49v1.26h-2.49zM488.95 192.04h1.25v1.26h-1.25zM526.31 192.04h3.74v1.26h-3.74zM547.48 192.04h1.25v1.26h-1.25zM491.44 193.31h1.25v1.26h-1.25zM502.65 193.31h1.25v1.26h-1.25zM525.06 193.31h1.25v1.26h-1.25zM530.05 193.31h1.25v1.26h-1.25zM546.24 193.31h1.25v1.26h-1.25zM548.73 193.31h1.25v1.26h-1.25zM531.29 194.57h1.25v1.26h-1.25zM544.99 194.57h1.25v1.26h-1.25zM526.31 195.83h1.25v1.26h-1.25zM532.54 195.83h1.25v1.26h-1.25zM525.06 197.09h1.25v1.26h-1.25zM533.78 197.09h1.25v1.26h-1.25zM535.03 198.35h1.25v1.26h-1.25zM495.17 199.62h1.25v1.26h-1.25zM521.33 199.62h1.25v1.26h-1.25zM536.27 199.62h1.25v1.26h-1.25zM520.08 200.88h1.25v1.26h-1.25zM537.52 200.88h1.25v1.26h-1.25zM567.41 200.88h1.25v1.26h-1.25zM477.74 202.14h1.25v1.26h-1.25zM538.76 202.14h1.25v1.26h-1.25zM566.16 202.14h1.25v1.26h-1.25zM521.33 203.4h1.25v1.26h-1.25zM540.01 203.4h1.25v1.26h-1.25zM521.33 204.67h1.25v1.26h-1.25zM541.25 204.67h1.25v1.26h-1.25zM516.35 205.93h1.25v1.26h-1.25zM542.5 205.93h1.25v1.26h-1.25zM498.91 207.19h1.25v1.26h-1.25zM543.75 207.19h1.25v1.26h-1.25zM491.44 208.45h1.25v1.26h-1.25zM493.93 208.45h1.25v1.26h-1.25zM531.29 208.45h1.25v1.26h-1.25zM544.99 208.45h1.25v1.26h-1.25zM491.44 209.72h1.25v1.26h-1.25zM530.05 209.72h1.25v1.26h-1.25zM546.24 209.72h1.25v1.26h-1.25zM528.8 210.98h1.25v1.26h-1.25zM547.48 210.98h3.74v1.26h-3.74zM530.05 212.24h1.25v1.26h-1.25zM547.48 212.24h1.25v1.26h-1.25zM549.97 212.24h1.25v1.26h-1.25zM547.48 213.5h3.74v1.26h-3.74zM551.22 214.76h1.25v1.26h-1.25zM552.46 216.03h1.25v1.26h-1.25zM566.16 216.03h1.25v1.26h-1.25zM553.71 217.29h1.25v1.26h-1.25zM558.69 217.29h1.25v1.26h-1.25zM563.67 217.29h1.25v1.26h-1.25zM501.4 218.55h1.25v1.26h-1.25zM505.14 218.55h1.25v1.26h-1.25zM520.08 218.55h1.25v1.26h-1.25zM554.95 218.55h1.25v1.26h-1.25zM557.45 218.55h1.25v1.26h-1.25zM518.84 219.81h1.25v1.26h-1.25zM556.2 219.81h2.49v1.26h-2.49zM505.14 221.08h1.25v1.26h-1.25zM554.95 221.08h3.74v1.26h-3.74zM501.4 222.34h1.25v1.26h-1.25zM505.14 222.34h1.25v1.26h-1.25zM553.71 222.34h1.25v1.26h-1.25zM558.69 222.34h1.25v1.26h-1.25zM490.19 223.6h1.25v1.26h-1.25zM500.15 223.6h1.25v1.26h-1.25zM516.35 223.6h1.25v1.26h-1.25zM559.94 223.6h2.49v1.26h-2.49zM567.41 223.6h1.25v1.26h-1.25zM493.93 224.86h1.25v1.26h-1.25zM497.66 224.86h1.25v1.26h-1.25zM506.38 224.86h1.25v1.26h-1.25zM559.94 224.86h2.49v1.26h-2.49zM566.16 224.86h1.25v1.26h-1.25zM506.38 226.13h1.25v1.26h-1.25zM562.43 226.13h1.25v1.26h-1.25zM522.57 227.39h1.25v1.26h-1.25zM553.71 227.39h1.25v1.26h-1.25zM563.67 227.39h1.25v1.26h-1.25zM521.33 228.65h1.25v1.26h-1.25zM564.92 228.65h1.25v1.26h-1.25zM538.76 229.91h1.25v1.26h-1.25zM552.46 229.91h1.25v1.26h-1.25zM561.18 229.91h1.25v1.26h-1.25zM566.16 229.91h1.25v1.26h-1.25zM501.4 231.18h1.25v1.26h-1.25zM505.14 231.18h1.25v1.26h-1.25zM515.1 231.18h1.25v1.26h-1.25zM537.52 231.18h1.25v1.26h-1.25zM559.94 231.18h1.25v1.26h-1.25zM567.41 231.18h1.25v1.26h-1.25zM568.65 232.44h1.25v1.26h-1.25z"/>
<rect x="580.9" y="134.9" width="98.2" height="97.5" fill="#440154"/>
<path fill="#fde725" d="M580.9 134.9h1.56v1.55h-1.56zM612.07 134.9h1.56v1.55h-1.56zM615.19 134.9h1.56v1.55h-1.56zM663.51 134.9h1.56v1.55h-1.56zM582.46 136.45h1.56v1.55h-1.56zM584.02 138h1.56v1.55h-1.56zM585.58 139.54h1.56v1.55h-1.56zM647.93 139.54h1.56v1.55h-1.56zM675.98 139.54h1.56v1.55h-1.56zM587.13 141.09h1.56v1.55h-1.56zM590.25 141.09h1.56v1.55h-1.56zM619.87 141.09h1.56v1.55h-1.56zM588.69 142.64h1.56v1.55h-1.56zM587.13 144.19h1.56v1.55h-1.56zM590.25 144.19h1.56v1.55h-1.56zM604.28 144.19h1.56v1.55h-1.56zM591.81 145.73h1.56v1.55h-1.56zM593.37 147.28h1.56v1.55h-1.56zM594.93 148.83h1.56v1.55h-1.56zM624.54 148.83h1.56v1.55h-1.56zM674.42 148.83h1.56v1.55h-1.56zM596.49 150.38h1.56v1.55h-1.56zM598.05 151.92h1.56v1.55h-1.56zM651.04 151.92h1.56v1.55h-1.56zM599.6 153.47h1.56v1.55h-1.56zM607.4 153.47h1.56v1.55h-1.56zM601.16 155.02h1.56v1.55h-1.56zM607.4 155.02h1.56v1.55h-1.56zM651.04 155.02h1.56v1.55h-1.56zM602.72 156.57h1.56v1.55h-1.56zM621.43 156.57h1.56v1.55h-1.56zM635.46 156.57h1.56v1.55h-1.56zM590.25 158.11h1.56v1.55h-1.56zM604.28 158.11h1.56v1.55h-1.56zM613.63 158.11h1.56v1.55h-1.56zM647.93 158.11h1.56v1.55h-1.56zM605.84 159.66h1.56v1.55h-1.56zM612.07 159.66h1.56v1.55h-1.56zM647.93 159.66h1.56v1.55h-1.56zM599.6 161.21h3.12v1.55h-3.12zM607.4 161.21h1.56v1.55h-1.56zM610.52 161.21h1.56v1.55h-1.56zM621.43 161.21h1.56v1.55h-1.56zM666.63 161.21h1.56v1.55h-1.56zM608.96 162.76h1.56v1.55h-1.56zM637.01 162.76h1.56v1.55h-1.56zM607.4 164.3h1.56v1.55h-1.56zM610.52 164.3h3.12v1.55h-3.12zM671.31 164.3h1.56v1.55h-1.56zM580.9 165.85h1.56v1.55h-1.56zM605.84 165.85h1.56v1.55h-1.56zM610.52 165.85h3.12v1.55h-3.12zM615.19 165.85h1.56v1.55h-1.56zM647.93 165.85h1.56v1.55h-1.56zM663.51 165.85h1.56v1.55h-1.56zM604.28 167.4h1.56v1.55h-1.56zM613.63 167.4h1.56v1.55h-1.56zM629.22 167.4h4.68v1.55h-4.68zM635.46 167.4h1.56v1.55h-1.56zM660.4 167.4h1.56v1.55h-1.56zM580.9 168.95h1.56v1.55h-1.56zM612.07 168.95h1.56v1.55h-1.56zM615.19 168.95h1.56v1.55h-1.56zM624.54 168.95h1.56v1.55h-1.56zM663.51 168.95h1.56v1.55h-1.56zM616.75 170.5h3.12v1.55h-3.12zM622.99 170.5h1.56v1.55h-1.56zM616.75 172.04h3.12v1.55h-3.12zM644.81 172.04h1.56v1.55h-1.56zM587.13 173.59h1.56v1.55h-1.56zM619.87 173.59h1.56v1.55h-1.56zM661.95 173.59h1.56v1.55h-1.56zM602.72 175.14h1.56v1.55h-1.56zM607.4 175.14h1.56v1.55h-1.56zM621.43 175.14h1.56v1.55h-1.56zM616.75 176.69h1.56v1.55h-1.56zM622.99 176.69h3.12v1.55h-3.12zM658.84 176.69h1.56v1.55h-1.56zM594.93 178.23h1.56v1.55h-1.56zM615.19 178.23h1.56v1.55h-1.56zM622.99 178.23h3.12v1.55h-3.12zM627.66 178.23h1.56v1.55h-1.56zM672.87 178.23h1.56v1.55h-1.56zM626.1 179.78h1.56v1.55h-1.56zM638.57 179.78h1.56v1.55h-1.56zM643.25 179.78h1.56v1.55h-1.56zM624.54 181.33h1.56v1.55h-1.56zM627.66 181.33h4.68v1.55h-4.68zM649.48 181.33h1.56v1.55h-1.56zM665.07 181.33h1.56v1.55h-1.56zM669.75 181.33h1.56v1.55h-1.56zM613.63 182.88h1.56v1.55h-1.56zM627.66 182.88h3.12v1.55h-3.12zM613.63 184.42h1.56v1.55h-1.56zM627.66 184.42h1.56v1.55h-1.56zM630.78 184.42h1.56v1.55h-1.56zM613.63 185.97h1.56v1.55h-1.56zM632.34 185.97h3.12v1.55h-3.12zM632.34 187.52h3.12v1.55h-3.12zM646.37 187.52h1.56v1.55h-1.56zM602.72 189.07h1.56v1.55h-1.56zM613.63 189.07h1.56v1.55h-1.56zM635.46 189.07h1.56v1.55h-1.56zM608.96 190.61h1.56v1.55h-1.56zM637.01 190.61h1.56v1.55h-1.56zM626.1 192.16h1.56v1.55h-1.56zM638.57 192.16h1.56v1.55h-1.56zM654.16 192.16h1.56v1.55h-1.56zM640.13 193.71h1.56v1.55h-1.56zM655.72 193.71h1.56v1.55h-1.56zM641.69 195.26h1.56v1.55h-1.56zM626.1 196.8h1.56v1.55h-1.56zM643.25 196.8h1.56v1.55h-1.56zM618.31 198.35h1.56v1.55h-1.56zM644.81 198.35h1.56v1.55h-1.56zM633.9 199.9h1.56v1.55h-1.56zM646.37 199.9h1.56v1.55h-1.56zM585.58 201.45h1.56v1.55h-1.56zM604.28 201.45h3.12v1.55h-3.12zM612.07 201.45h1.56v1.55h-1.56zM647.93 201.45h1.56v1.55h-1.56zM627.66 203h1.56v1.55h-1.56zM649.48 203h1.56v1.55h-1.56zM598.05 204.54h1.56v1.55h-1.56zM601.16 204.54h1.56v1.55h-1.56zM651.04 204.54h1.56v1.55h-1.56zM652.6 206.09h1.56v1.55h-1.56zM638.57 207.64h1.56v1.55h-1.56zM654.16 207.64h4.68v1.55h-4.68zM640.13 209.19h1.56v1.55h-1.56zM654.16 209.19h3.12v1.55h-3.12zM654.16 210.73h1.56v1.55h-1.56zM657.28 210.73h1.56v1.55h-1.56zM622.99 212.28h1.56v1.55h-1.56zM658.84 212.28h1.56v1.55h-1.56zM677.54 212.28h1.56v1.55h-1.56zM613.63 213.83h1.56v1.55h-1.56zM660.4 213.83h1.56v1.55h-1.56zM619.87 215.38h1.56v1.55h-1.56zM661.95 215.38h1.56v1.55h-1.56zM580.9 216.92h1.56v1.55h-1.56zM612.07 216.92h1.56v1.55h-1.56zM615.19 216.92h1.56v1.55h-1.56zM663.51 216.92h1.56v1.55h-1.56zM627.66 218.47h1.56v1.55h-1.56zM665.07 218.47h1.56v1.55h-1.56zM607.4 220.02h1.56v1.55h-1.56zM666.63 220.02h1.56v1.55h-1.56zM668.19 221.57h1.56v1.55h-1.56zM627.66 223.11h1.56v1.55h-1.56zM669.75 223.11h1.56v1.55h-1.56zM610.52 224.66h1.56v1.55h-1.56zM671.31 224.66h1.56v1.55h-1.56zM674.42 224.66h1.56v1.55h-1.56zM624.54 226.21h1.56v1.55h-1.56zM672.87 226.21h1.56v1.55h-1.56zM594.93 227.76h1.56v1.55h-1.56zM671.31 227.76h1.56v1.55h-1.56zM674.42 227.76h1.56v1.55h-1.56zM585.58 229.3h1.56v1.55h-1.56zM675.98 229.3h1.56v1.55h-1.56zM658.84 230.85h1.56v1.55h-1.56zM677.54 230.85h1.56v1.55h-1.56z"/>
<text x="63.2" y="7.3" class="t">Adjacent matrix K=1</text>
<text x="172.8" y="7.3" class="t">Adjacent matrix K=2</text>
<text x="281.6" y="7.3" class="t">Adjacent matrix K=3</text>
<text x="410.8" y="7.4" class="t">Adjacent matrix K=1</text>
<text x="520.6" y="7.4" class="t">Adjacent matrix K=2</text>
<text x="629.3" y="7.3" class="t">Adjacent matrix K=3</text>
<text x="64" y="128.2" class="t">Region matrix K=1</text>
<text x="173.6" y="128.2" class="t">Region matrix K=2</text>
<text x="282.8" y="128.2" class="t">Region matrix K=3</text>
<text x="411.6" y="128.8" class="t">Region matrix K=1</text>
<text x="521.5" y="128.8" class="t">Region matrix K=2</text>
<text x="630" y="128.8" class="t">Region matrix K=3</text>
<text x="169.7" y="249.5" class="b">PEMS08</text>
<text x="515.7" y="250.3" class="b">PEMS04</text>
<path stroke="#555" stroke-width="0.5" fill="none" d="M12.7 11.19h-1.3M12.7 22.72h-1.3M12.7 34.25h-1.3M12.7 45.78h-1.3M12.7 57.31h-1.3M12.7 68.84h-1.3M12.7 80.36h-1.3M12.7 91.89h-1.3M12.7 103.42h-1.3M12.99 108.9v1.3M27.41 108.9v1.3M41.84 108.9v1.3M56.27 108.9v1.3M70.69 108.9v1.3M85.12 108.9v1.3M99.55 108.9v1.3M123.8 12.59h-1.3M123.8 24.07h-1.3M123.8 35.55h-1.3M123.8 47.03h-1.3M123.8 58.52h-1.3M123.8 70h-1.3M123.8 81.48h-1.3M123.8 92.96h-1.3M123.8 104.45h-1.3M124.09 109.9v1.3M138.48 109.9v1.3M152.88 109.9v1.3M167.28 109.9v1.3M181.68 109.9v1.3M196.07 109.9v1.3M210.47 109.9v1.3M235.6 12.39h-1.3M235.6 23.87h-1.3M235.6 35.35h-1.3M235.6 46.83h-1.3M235.6 58.32h-1.3M235.6 69.8h-1.3M235.6 81.28h-1.3M235.6 92.76h-1.3M235.6 104.25h-1.3M235.89 109.7v1.3M250.33 109.7v1.3M264.77 109.7v1.3M279.21 109.7v1.3M293.65 109.7v1.3M308.09 109.7v1.3M322.54 109.7v1.3M360.8 9.36h-1.3M360.8 25.27h-1.3M360.8 41.18h-1.3M360.8 57.1h-1.3M360.8 73.01h-1.3M360.8 88.92h-1.3M360.8 104.83h-1.3M360.96 106.9v1.3M376.77 106.9v1.3M392.59 106.9v1.3M408.4 106.9v1.3M424.22 106.9v1.3M440.03 106.9v1.3M455.84 106.9v1.3M472.6 12.46h-1.3M472.6 28.35h-1.3M472.6 44.25h-1.3M472.6 60.15h-1.3M472.6 76.04h-1.3M472.6 91.94h-1.3M472.6 107.83h-1.3M472.76 109.9v1.3M488.56 109.9v1.3M504.35 109.9v1.3M520.15 109.9v1.3M535.95 109.9v1.3M551.75 109.9v1.3M567.55 109.9v1.3M584 14.26h-1.3M584 30.07h-1.3M584 45.89h-1.3M584 61.7h-1.3M584 77.52h-1.3M584 93.33h-1.3M584 109.14h-1.3M584.16 111.2v1.3M599.92 111.2v1.3M615.69 111.2v1.3M631.45 111.2v1.3M647.22 111.2v1.3M662.99 111.2v1.3M678.75 111.2v1.3M12.8 135.16h-1.3M12.8 150.41h-1.3M12.8 165.66h-1.3M12.8 180.91h-1.3M12.8 196.16h-1.3M12.8 211.41h-1.3M12.8 226.66h-1.3M13.57 232v1.3M28.88 232v1.3M44.19 232v1.3M59.5 232v1.3M74.82 232v1.3M90.13 232v1.3M105.44 232v1.3M123.5 135.48h-1.3M123.5 150.33h-1.3M123.5 165.18h-1.3M123.5 180.03h-1.3M123.5 194.88h-1.3M123.5 209.73h-1.3M123.5 224.58h-1.3M124.98 232v1.3M139.8 232v1.3M154.62 232v1.3M169.44 232v1.3M184.25 232v1.3M199.07 232v1.3M213.89 232v1.3M237.8 136.02h-1.3M237.8 147.1h-1.3M237.8 158.18h-1.3M237.8 169.25h-1.3M237.8 180.33h-1.3M237.8 191.41h-1.3M237.8 202.49h-1.3M237.8 213.57h-1.3M237.8 224.65h-1.3M240.02 231.3v1.3M262.25 231.3v1.3M284.48 231.3v1.3M306.7 231.3v1.3M328.93 231.3v1.3M359.7 135.48h-1.3M359.7 150.64h-1.3M359.7 165.79h-1.3M359.7 180.95h-1.3M359.7 196.1h-1.3M359.7 211.26h-1.3M359.7 226.42h-1.3M360.08 232.1v1.3M375.43 232.1v1.3M390.77 232.1v1.3M406.11 232.1v1.3M421.46 232.1v1.3M436.8 232.1v1.3M452.15 232.1v1.3M474 137.13h-1.3M474 149.75h-1.3M474 162.38h-1.3M474 175h-1.3M474 187.62h-1.3M474 200.25h-1.3M474 212.87h-1.3M474 225.49h-1.3M474.62 233.7v1.3M487.08 233.7v1.3M499.53 233.7v1.3M511.99 233.7v1.3M524.44 233.7v1.3M536.9 233.7v1.3M549.35 233.7v1.3M561.8 233.7v1.3M580.9 135.67h-1.3M580.9 151.15h-1.3M580.9 166.63h-1.3M580.9 182.1h-1.3M580.9 197.58h-1.3M580.9 213.05h-1.3M580.9 228.53h-1.3M581.68 232.4v1.3M597.27 232.4v1.3M612.85 232.4v1.3M628.44 232.4v1.3M644.03 232.4v1.3M659.62 232.4v1.3M675.2 232.4v1.3"/>
<text x="10.3" y="13.79" class="yl">0</text>
<text x="10.3" y="25.32" class="yl">20</text>
<text x="10.3" y="36.85" class="yl">40</text>
<text x="10.3" y="48.38" class="yl">60</text>
<text x="10.3" y="59.91" class="yl">80</text>
<text x="10.3" y="71.44" class="yl">100</text>
<text x="10.3" y="82.96" class="yl">120</text>
<text x="10.3" y="94.49" class="yl">140</text>
<text x="10.3" y="106.02" class="yl">160</text>
<text x="12.99" y="115.1" class="xl">0</text>
<text x="27.41" y="115.1" class="xl">25</text>
<text x="41.84" y="115.1" class="xl">50</text>
<text x="56.27" y="115.1" class="xl">75</text>
<text x="70.69" y="115.1" class="xl">100</text>
<text x="85.12" y="115.1" class="xl">125</text>
<text x="99.55" y="115.1" class="xl">150</text>
<text x="121.4" y="15.19" class="yl">0</text>
<text x="121.4" y="26.67" class="yl">20</text>
<text x="121.4" y="38.15" class="yl">40</text>
<text x="121.4" y="49.63" class="yl">60</text>
<text x="121.4" y="61.12" class="yl">80</text>
<text x="121.4" y="72.6" class="yl">100</text>
<text x="121.4" y="84.08" class="yl">120</text>
<text x="121.4" y="95.56" class="yl">140</text>
<text x="121.4" y="107.05" class="yl">160</text>
<text x="124.09" y="116.6" class="xl">0</text>
<text x="138.48" y="116.6" class="xl">25</text>
<text x="152.88" y="116.6" class="xl">50</text>
<text x="167.28" y="116.6" class="xl">75</text>
<text x="181.68" y="116.6" class="xl">100</text>
<text x="196.07" y="116.6" class="xl">125</text>
<text x="210.47" y="116.6" class="xl">150</text>
<text x="233.2" y="14.99" class="yl">0</text>
<text x="233.2" y="26.47" class="yl">20</text>
<text x="233.2" y="37.95" class="yl">40</text>
<text x="233.2" y="49.43" class="yl">60</text>
<text x="233.2" y="60.92" class="yl">80</text>
<text x="233.2" y="72.4" class="yl">100</text>
<text x="233.2" y="83.88" class="yl">120</text>
<text x="233.2" y="95.36" class="yl">140</text>
<text x="233.2" y="106.85" class="yl">160</text>
<text x="235.89" y="116.4" class="xl">0</text>
<text x="250.33" y="116.4" class="xl">25</text>
<text x="264.77" y="116.4" class="xl">50</text>
<text x="279.21" y="116.4" class="xl">75</text>
<text x="293.65" y="116.4" class="xl">100</text>
<text x="308.09" y="116.4" class="xl">125</text>
<text x="322.54" y="116.4" class="xl">150</text>
<text x="358.4" y="11.96" class="yl">0</text>
<text x="358.4" y="27.87" class="yl">50</text>
<text x="358.4" y="43.78" class="yl">100</text>
<text x="358.4" y="59.7" class="yl">150</text>
<text x="358.4" y="75.61" class="yl">200</text>
<text x="358.4" y="91.52" class="yl">250</text>
<text x="358.4" y="107.43" class="yl">300</text>
<text x="360.96" y="114.2" class="xl">0</text>
<text x="376.77" y="114.2" class="xl">50</text>
<text x="392.59" y="114.2" class="xl">100</text>
<text x="408.4" y="114.2" class="xl">150</text>
<text x="424.22" y="114.2" class="xl">200</text>
<text x="440.03" y="114.2" class="xl">250</text>
<clipPath id="cP4"><rect x="445.9" y="106.9" width="12.3" height="8"/></clipPath>
<text x="455.84" y="114.2" class="xl" clip-path="url(#cP4)">300</text>
<text x="470.2" y="15.06" class="yl">0</text>
<text x="470.2" y="30.95" class="yl">50</text>
<text x="470.2" y="46.85" class="yl">100</text>
<text x="470.2" y="62.75" class="yl">150</text>
<text x="470.2" y="78.64" class="yl">200</text>
<text x="470.2" y="94.54" class="yl">250</text>
<text x="470.2" y="110.43" class="yl">300</text>
<text x="472.76" y="116.9" class="xl">0</text>
<text x="488.56" y="116.9" class="xl">50</text>
<text x="504.35" y="116.9" class="xl">100</text>
<text x="520.15" y="116.9" class="xl">150</text>
<text x="535.95" y="116.9" class="xl">200</text>
<text x="551.75" y="116.9" class="xl">250</text>
<clipPath id="cP5"><rect x="557.6" y="109.9" width="12.3" height="8"/></clipPath>
<text x="567.55" y="116.9" class="xl" clip-path="url(#cP5)">300</text>
<text x="581.6" y="16.86" class="yl">0</text>
<text x="581.6" y="32.67" class="yl">50</text>
<text x="581.6" y="48.49" class="yl">100</text>
<text x="581.6" y="64.3" class="yl">150</text>
<text x="581.6" y="80.12" class="yl">200</text>
<text x="581.6" y="95.93" class="yl">250</text>
<text x="581.6" y="111.74" class="yl">300</text>
<text x="584.16" y="117.8" class="xl">0</text>
<text x="599.92" y="117.8" class="xl">50</text>
<text x="615.69" y="117.8" class="xl">100</text>
<text x="631.45" y="117.8" class="xl">150</text>
<text x="647.22" y="117.8" class="xl">200</text>
<text x="662.99" y="117.8" class="xl">250</text>
<text x="678.75" y="117.8" class="xl">300</text>
<text x="10.4" y="137.76" class="yl">0</text>
<text x="10.4" y="153.01" class="yl">10</text>
<text x="10.4" y="168.26" class="yl">20</text>
<text x="10.4" y="183.51" class="yl">30</text>
<text x="10.4" y="198.76" class="yl">40</text>
<text x="10.4" y="214.01" class="yl">50</text>
<text x="10.4" y="229.26" class="yl">60</text>
<text x="13.57" y="239.1" class="xl">0</text>
<text x="28.88" y="239.1" class="xl">10</text>
<text x="44.19" y="239.1" class="xl">20</text>
<text x="59.5" y="239.1" class="xl">30</text>
<text x="74.82" y="239.1" class="xl">40</text>
<text x="90.13" y="239.1" class="xl">50</text>
<text x="105.44" y="239.1" class="xl">60</text>
<text x="121.1" y="138.08" class="yl">0</text>
<text x="121.1" y="152.93" class="yl">5</text>
<text x="121.1" y="167.78" class="yl">10</text>
<text x="121.1" y="182.63" class="yl">15</text>
<text x="121.1" y="197.48" class="yl">20</text>
<text x="121.1" y="212.33" class="yl">25</text>
<text x="121.1" y="227.18" class="yl">30</text>
<text x="124.98" y="238.5" class="xl">0</text>
<text x="139.8" y="238.5" class="xl">5</text>
<text x="154.62" y="238.5" class="xl">10</text>
<text x="169.44" y="238.5" class="xl">15</text>
<text x="184.25" y="238.5" class="xl">20</text>
<text x="199.07" y="238.5" class="xl">25</text>
<text x="213.89" y="238.5" class="xl">30</text>
<text x="235.4" y="138.62" class="yl">0.0</text>
<text x="235.4" y="149.7" class="yl">2.5</text>
<text x="235.4" y="160.78" class="yl">5.0</text>
<text x="235.4" y="171.85" class="yl">7.5</text>
<text x="235.4" y="182.93" class="yl">10.0</text>
<text x="235.4" y="194.01" class="yl">12.5</text>
<text x="235.4" y="205.09" class="yl">15.0</text>
<text x="235.4" y="216.17" class="yl">17.5</text>
<text x="235.4" y="227.25" class="yl">20.0</text>
<text x="240.02" y="238.6" class="xl">0</text>
<text x="262.25" y="238.6" class="xl">5</text>
<text x="284.48" y="238.6" class="xl">10</text>
<text x="306.7" y="238.6" class="xl">15</text>
<text x="328.93" y="238.6" class="xl">20</text>
<text x="357.3" y="138.08" class="yl">0</text>
<text x="357.3" y="153.24" class="yl">20</text>
<text x="357.3" y="168.39" class="yl">40</text>
<text x="357.3" y="183.55" class="yl">60</text>
<text x="357.3" y="198.7" class="yl">80</text>
<text x="357.3" y="213.86" class="yl">100</text>
<text x="357.3" y="229.02" class="yl">120</text>
<text x="360.08" y="239.6" class="xl">0</text>
<text x="375.43" y="239.6" class="xl">20</text>
<text x="390.77" y="239.6" class="xl">40</text>
<text x="406.11" y="239.6" class="xl">60</text>
<text x="421.46" y="239.6" class="xl">80</text>
<text x="436.8" y="239.6" class="xl">100</text>
<text x="452.15" y="239.6" class="xl">120</text>
<text x="471.6" y="139.73" class="yl">0</text>
<text x="471.6" y="152.35" class="yl">10</text>
<text x="471.6" y="164.98" class="yl">20</text>
<text x="471.6" y="177.6" class="yl">30</text>
<text x="471.6" y="190.22" class="yl">40</text>
<text x="471.6" y="202.85" class="yl">50</text>
<text x="471.6" y="215.47" class="yl">60</text>
<text x="471.6" y="228.09" class="yl">70</text>
<text x="474.62" y="241.2" class="xl">0</text>
<text x="487.08" y="241.2" class="xl">10</text>
<text x="499.53" y="241.2" class="xl">20</text>
<text x="511.99" y="241.2" class="xl">30</text>
<text x="524.44" y="241.2" class="xl">40</text>
<text x="536.9" y="241.2" class="xl">50</text>
<text x="549.35" y="241.2" class="xl">60</text>
<text x="561.8" y="241.2" class="xl">70</text>
<text x="578.5" y="138.27" class="yl">0</text>
<text x="578.5" y="153.75" class="yl">10</text>
<text x="578.5" y="169.23" class="yl">20</text>
<text x="578.5" y="184.7" class="yl">30</text>
<text x="578.5" y="200.18" class="yl">40</text>
<text x="578.5" y="215.65" class="yl">50</text>
<text x="578.5" y="231.13" class="yl">60</text>
<text x="581.68" y="239.7" class="xl">0</text>
<text x="597.27" y="239.7" class="xl">10</text>
<text x="612.85" y="239.7" class="xl">20</text>
<text x="628.44" y="239.7" class="xl">30</text>
<text x="644.03" y="239.7" class="xl">40</text>
<text x="659.62" y="239.7" class="xl">50</text>
<text x="675.2" y="239.7" class="xl">60</text>
</svg>
</body></html>
